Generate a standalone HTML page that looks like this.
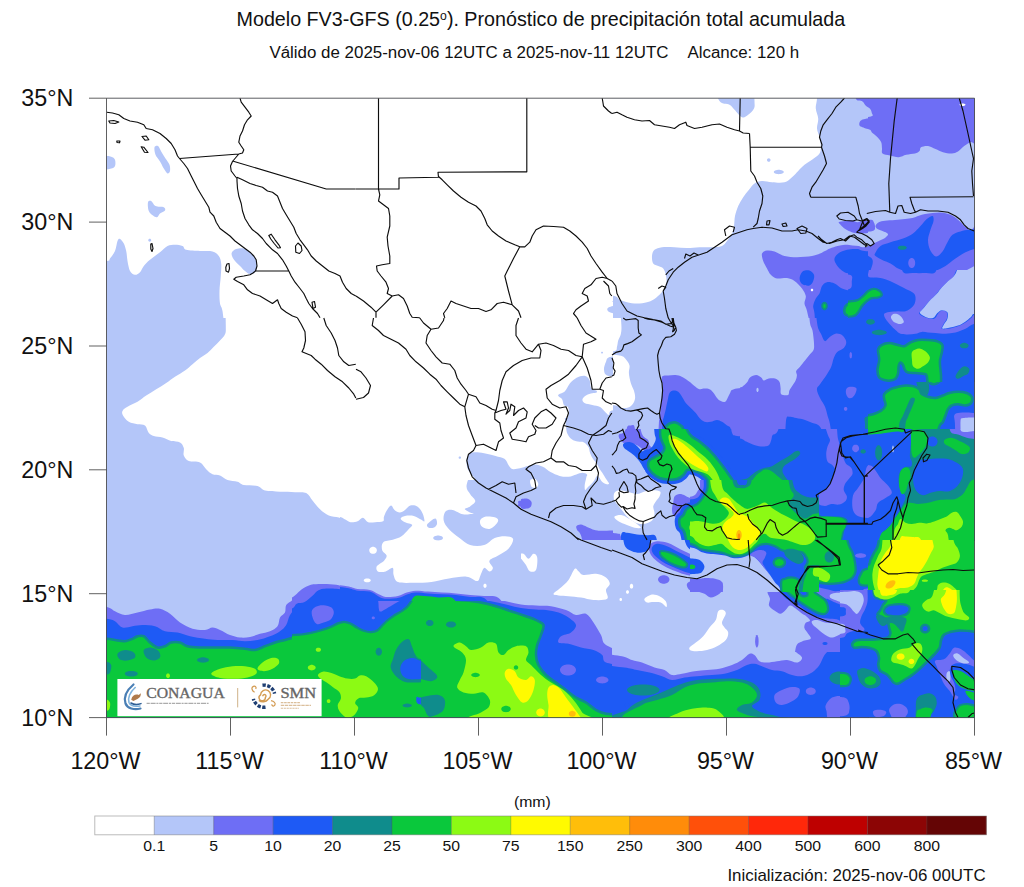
<!DOCTYPE html>
<html><head><meta charset="utf-8"><title>Pronóstico de precipitación</title>
<style>
html,body{margin:0;padding:0;background:#fff;}
body{width:1024px;height:887px;position:relative;overflow:hidden;font-family:"Liberation Sans",sans-serif;color:#111;}
.t{position:absolute;white-space:pre;line-height:1;transform-origin:50% 100%;padding-bottom:0;}
</style></head><body>
<svg width="1024" height="887" viewBox="0 0 1024 887" style="position:absolute;left:0;top:0"><defs><clipPath id="mc"><rect x="106.5" y="98.2" width="868.0" height="619.4"/></clipPath><clipPath id="c100_96_256"><rect x="100" y="96" width="257" height="223"/></clipPath><clipPath id="c356_96_256"><rect x="356" y="96" width="257" height="223"/></clipPath><clipPath id="c612_96_256"><rect x="612" y="96" width="257" height="223"/></clipPath><clipPath id="c100_318_256"><rect x="100" y="318" width="257" height="223"/></clipPath><clipPath id="c868_96_256"><rect x="868" y="96" width="257" height="223"/></clipPath><clipPath id="c612_318_128"><rect x="612" y="318" width="129" height="112"/></clipPath><clipPath id="c740_318_128"><rect x="740" y="318" width="129" height="112"/></clipPath><clipPath id="c612_429_128"><rect x="612" y="429" width="129" height="112"/></clipPath><clipPath id="c740_429_128"><rect x="740" y="429" width="129" height="112"/></clipPath><clipPath id="c356_318_256"><rect x="356" y="318" width="257" height="223"/></clipPath><clipPath id="c520_280_92"><rect x="520" y="280" width="93" height="174"/></clipPath><clipPath id="c456_418_156"><rect x="456" y="418" width="157" height="123"/></clipPath><clipPath id="c868_318_128"><rect x="868" y="318" width="129" height="112"/></clipPath><clipPath id="c868_429_128"><rect x="868" y="429" width="129" height="112"/></clipPath><clipPath id="c100_540_256"><rect x="100" y="540" width="257" height="223"/></clipPath><clipPath id="c356_540_256"><rect x="356" y="540" width="257" height="223"/></clipPath><clipPath id="c612_540_256"><rect x="612" y="540" width="257" height="223"/></clipPath><clipPath id="c740_540_128"><rect x="740" y="540" width="129" height="112"/></clipPath><clipPath id="c868_540_128"><rect x="868" y="540" width="129" height="112"/></clipPath><clipPath id="c868_629_128"><rect x="868" y="629" width="129" height="112"/></clipPath><clipPath id="c840_590_140"><rect x="840" y="590" width="141" height="129"/></clipPath><clipPath id="c848_270_128"><rect x="848" y="270" width="129" height="112"/></clipPath><clipPath id="c292_580_128"><rect x="292" y="580" width="129" height="141"/></clipPath><clipPath id="c340_480_180"><rect x="340" y="480" width="181" height="121"/></clipPath><clipPath id="c690_480_128"><rect x="690" y="480" width="129" height="112"/></clipPath></defs><g clip-path="url(#mc)"><rect x="106.5" y="98.2" width="868.0" height="619.4" fill="#b4c6f9"/><g clip-path="url(#c100_96_256)"><rect x="99" y="95" width="258" height="224" fill="#ffffff"/><path d="M105,157.2C106,155.3 109.6,156.3 111.2,156.8C112.9,157.2 114.4,158.2 115,159.8C115.6,161.3 115.6,164.5 115,166C114.4,167.5 112.9,168.1 111.2,168.5C109.6,168.9 106,170.4 105,168.5C104,166.6 104,159.2 105,157.2Z" fill="#b4c6f9"/><path d="M154.5,147.2C154.9,145.8 156.9,145.3 158,146C159.1,146.7 160,149.4 161.2,151.5C162.5,153.6 164.1,156.3 165.5,158.5C166.9,160.7 168.8,162.7 169.5,164.8C170.2,166.8 170.3,169.5 170,171C169.7,172.5 168.5,173.9 167.5,173.5C166.5,173.1 165,170.5 163.8,168.5C162.5,166.5 161.4,163.8 160,161.5C158.6,159.2 156.4,157.1 155.5,154.8C154.6,152.4 154.1,148.7 154.5,147.2Z" fill="#b4c6f9"/><path d="M148,202.2C148.4,200.6 150,200.4 151.2,201C152.5,201.6 153.4,205 155.5,206C157.6,207 162.2,206.5 163.8,207.2C165.3,208 165.6,209.5 165,210.5C164.4,211.5 161.3,212.4 160,213.5C158.7,214.6 158.2,216.9 157,217.2C155.8,217.6 154.4,216.5 153,215.5C151.6,214.5 149.6,213.2 148.8,211C147.9,208.8 147.6,203.9 148,202.2Z" fill="#b4c6f9"/><path d="M151.2,240.2C151.2,240.6 151.1,241.1 150.8,241.3C150.6,241.6 150.1,241.8 149.8,241.8C149.4,241.8 148.9,241.6 148.7,241.3C148.4,241.1 148.2,240.6 148.2,240.2C148.2,239.9 148.4,239.4 148.7,239.2C148.9,238.9 149.4,238.8 149.8,238.8C150.1,238.8 150.6,238.9 150.8,239.2C151.1,239.4 151.2,239.9 151.2,240.2Z" fill="#b4c6f9"/><path d="M83,262.2C83,262.2 102.2,261.6 106.8,261C111.2,260.4 108.6,260.2 110,258.5C111.4,256.8 113.8,253.9 115,251C116.2,248.1 116.7,243 117.5,241C118.3,239 119,238.6 120,239C121,239.4 122.7,241.5 123.8,243.5C124.8,245.5 125.6,248.1 126.2,251C126.9,253.9 126.9,257.7 127.5,261C128.1,264.3 128.8,268.7 130,271C131.2,273.3 133.3,274.5 135,274.8C136.7,275 138.5,273.7 140,272.2C141.5,270.8 142.1,268.1 143.8,266C145.4,263.9 147.3,262 150,259.8C152.7,257.5 157.1,254.5 160,252.2C162.9,250 165,247.2 167.5,246C170,244.8 172.5,244.8 175,244.8C177.5,244.8 180.6,245.2 182.5,246C184.4,246.8 183.3,248.9 186.2,249.8C189.2,250.6 195.6,250.7 200,251C204.4,251.3 209.4,250.7 212.5,251.5C215.6,252.3 217.3,254 218.8,256C220.2,258 220.9,260.2 221.2,263.5C221.6,266.8 221,271.4 220.8,276C220.5,280.6 219.6,286.4 219.5,291C219.4,295.6 219.5,300.2 220,303.5C220.5,306.8 221.7,306.1 222.5,311C223.3,315.9 225,333 225,333L225,343L83,343L83,262.2Z" fill="#b4c6f9"/><path d="M232,252.2C232.7,251.1 234.3,249.6 236.2,249C238.2,248.4 241.5,248 243.8,248.5C246,249 248,250.6 250,252.2C252,253.9 254.3,256.2 255.5,258.5C256.7,260.8 257.1,263.7 257,266C256.9,268.3 256.2,270.9 255,272.2C253.8,273.6 251.7,274.2 250,274C248.3,273.8 246.7,272.3 245,271C243.3,269.7 241.7,267.7 240,266C238.3,264.3 236.3,262.7 235,261C233.7,259.3 232.5,257.5 232,256C231.5,254.5 231.3,253.4 232,252.2Z" fill="#b4c6f9"/></g><g clip-path="url(#c356_96_256)"><rect x="355" y="95" width="258" height="224" fill="#ffffff"/><path d="M607.2,304.8C607.8,302.9 606.3,302.7 609.8,302.2C613.2,301.8 628,302.2 628,302.2L628,333L608.5,333C608.5,333 607,318.2 606.8,313.5C606.5,308.8 606.8,306.6 607.2,304.8Z" fill="#b4c6f9"/></g><g clip-path="url(#c612_96_256)"><rect x="611" y="95" width="258" height="224" fill="#b4c6f9"/><path d="M592.5,76.5L817,76.5C817,76.5 817.2,92.7 817,98C816.8,103.3 815.5,105.1 815.8,108.5C816,111.9 818,115.2 818.2,118.5C818.5,121.8 816.8,125.4 817,128.5C817.2,131.6 818.9,134.3 819.5,137.2C820.1,140.2 820.8,143.3 820.8,146C820.8,148.7 821,151.2 819.5,153.5C818,155.8 814.5,157.9 812,159.8C809.5,161.6 806.8,162.9 804.5,164.8C802.2,166.6 800.3,168.9 798.2,171C796.2,173.1 794.3,175.4 792,177.2C789.7,179.1 787.8,181.4 784.5,182.2C781.2,183.1 775.8,182.5 772,182.2C768.2,182 764.9,180.8 762,181C759.1,181.2 756.7,182 754.5,183.5C752.3,185 750.9,187.5 749,189.8C747.1,192 745,194.5 743.2,197.2C741.5,200 739.6,202.9 738.2,206C736.9,209.1 735.7,212.7 735,216C734.3,219.3 734.5,223.1 734,226C733.5,228.9 733.2,231 732,233.5C730.8,236 728.7,238.9 727,241C725.3,243.1 724.3,245 722,246C719.7,247 717,247 713.2,247.2C709.5,247.5 703.9,247.1 699.5,247.2C695.1,247.4 691.2,248 687,248C682.8,248 678.7,247.4 674.5,247.2C670.3,247.1 665.3,246.8 662,247.2C658.7,247.7 656.2,248.3 654.5,249.8C652.8,251.2 652.2,253.7 652,256C651.8,258.3 652.2,261.8 653.2,263.5C654.3,265.2 656.6,265.2 658.2,266C659.9,266.8 662,267 663.2,268.5C664.5,270 665.2,272.5 665.8,274.8C666.3,277 666.7,280 666.5,282.2C666.3,284.5 665.7,286.4 664.5,288.5C663.3,290.6 661.4,292.9 659.5,294.8C657.6,296.6 655.3,298.5 653.2,299.8C651.2,301 649.7,301.6 647,302.2C644.3,302.9 640.3,303.5 637,303.5C633.7,303.5 629.9,302.9 627,302.2C624.1,301.6 621.6,300.8 619.5,299.8C617.4,298.7 619,297.2 614.5,296C610,294.8 592.5,292.2 592.5,292.2L592.5,76.5Z" fill="#ffffff"/><path d="M712,81.5C712,81.5 716.6,97.1 719.5,101C722.4,104.9 727,103.3 729.5,104.8C732,106.2 732.4,107.7 734.5,109.8C736.6,111.8 739.7,116.4 742,117.2C744.3,118.1 746.2,116.2 748.2,114.8C750.2,113.3 753,110.8 754,108.5C755,106.2 754.6,105.5 754.5,101C754.4,96.5 753.2,81.5 753.2,81.5L712,81.5Z" fill="#b4c6f9"/><path d="M770.5,160C770.5,160.4 770.3,160.9 770,161.2C769.7,161.5 769.2,161.8 768.8,161.8C768.3,161.8 767.8,161.5 767.5,161.2C767.2,160.9 767,160.4 767,160C767,159.6 767.2,159.1 767.5,158.8C767.8,158.5 768.3,158.2 768.8,158.2C769.2,158.2 769.7,158.5 770,158.8C770.3,159.1 770.5,159.6 770.5,160Z" fill="#b4c6f9"/><path d="M783.8,172C783.8,172.4 783.4,173 782.8,173.3C782.2,173.7 781.2,174 780.3,174.1C779.4,174.3 778.1,174.3 777.2,174.1C776.3,174 775.3,173.7 774.7,173.3C774.1,173 773.8,172.4 773.8,172C773.8,171.6 774.1,171 774.7,170.7C775.3,170.3 776.3,170 777.2,169.9C778.1,169.7 779.4,169.7 780.3,169.9C781.2,170 782.2,170.3 782.8,170.7C783.4,171 783.8,171.6 783.8,172Z" fill="#b4c6f9"/><path d="M855,81.5C855,81.5 854.5,95.2 855.8,98.5C857,101.8 860.5,100 862.5,101.5C864.5,103 864.4,105.2 868,107.2C871.6,109.2 884,113.5 884,113.5L883,116.5C883,116.5 868.8,118.2 865,119C861.2,119.8 860.9,120.4 860,121.5C859.1,122.6 859.1,124.5 859.5,125.5C859.9,126.5 861.1,126.7 862.5,127.2C863.9,127.8 864.3,128 868,129C871.7,130 884.5,133 884.5,133L891.5,133L891.5,81.5L855,81.5Z" fill="#6e6ef5"/><path d="M838.8,222.2C839.5,221.6 842.7,221.3 845,221C847.3,220.7 850.4,220.3 852.5,220.5C854.6,220.7 855.8,222.2 857.5,222.2C859.2,222.3 858.4,221.4 862.5,221C866.6,220.6 882,219.8 882,219.8L885.8,222.2L887,227.2L884.5,231C884.5,231 871.4,232.6 867.5,233C863.6,233.4 863.3,233.5 861.2,233.5C859.2,233.5 857.1,233.4 855,233C852.9,232.6 850.6,231.8 848.8,231C846.9,230.2 845.1,229 843.8,228C842.4,227 841.3,225.7 840.5,224.8C839.7,223.8 838,222.9 838.8,222.2Z" fill="#6e6ef5"/><path d="M762,253.5C762.6,251.8 764.9,250.8 767,250.5C769.1,250.2 771.6,250.6 774.5,251.5C777.4,252.4 780.8,255 784.5,256C788.2,257 792.4,257.2 797,257.2C801.6,257.2 808.2,256.6 812,256C815.8,255.4 817.8,254.3 820,253.5C822.2,252.7 823.3,251.8 825,251C826.7,250.2 827.9,249.3 830,248.5C832.1,247.7 835,246.6 837.5,246C840,245.4 842.5,244.8 845,244.8C847.5,244.7 850.2,245.3 852.5,245.5C854.8,245.7 856.9,245.7 858.8,246C860.6,246.3 859.9,247.3 863.8,247.2C867.6,247.2 882,245.5 882,245.5L885.8,243.5L889,242.2L889,333L812,333C812,333 808.2,315.9 807,311C805.8,306.1 804.7,306 804.5,303.5C804.3,301 806.2,298.5 805.8,296C805.3,293.5 803.9,291 802,288.5C800.1,286 797,282.8 794.5,281C792,279.2 789.9,278.4 787,278C784.1,277.6 779.7,279 777,278.5C774.3,278 772.4,276.4 770.8,274.8C769.1,273.1 768.2,270.8 767,268.5C765.8,266.2 764.1,263.5 763.2,261C762.4,258.5 761.4,255.2 762,253.5Z" fill="#6e6ef5"/><path d="M834.5,258.5C834.9,256.8 836.2,255 838.2,253.5C840.3,252 843.9,250.5 847,249.8C850.1,249 854.1,248.8 857,249C859.9,249.2 860,250.5 864.5,251C869,251.5 884,252.2 884,252.2L884,333L815.8,333C815.8,333 814.9,318 814.5,313.5C814.1,309 813,308.5 813.2,306C813.5,303.5 814.7,300.6 815.8,298.5C816.8,296.4 818.5,295.6 819.5,293.5C820.5,291.4 820.8,287.9 822,286C823.2,284.1 824.9,282.7 827,282.2C829.1,281.8 832,282.5 834.5,283.5C837,284.5 839.5,287.5 842,288.5C844.5,289.5 847.8,290.8 849.5,289.8C851.2,288.7 851.8,284.8 852,282.2C852.2,279.8 852,276.4 850.8,274.8C849.5,273.1 846.4,273.3 844.5,272.2C842.6,271.2 841,270 839.5,268.5C838,267 836.6,265.2 835.8,263.5C834.9,261.8 834.1,260.2 834.5,258.5Z" fill="#1e5af5"/><path d="M800,276C800.5,274.3 801.7,271.9 803.2,271C804.8,270.1 807.7,269.9 809.5,270.5C811.3,271.1 813.4,273 814,274.8C814.6,276.5 814,279.2 813.2,281C812.5,282.8 811.2,284.9 809.5,285.5C807.8,286.1 804.8,285.5 803.2,284.8C801.7,284 800.5,282.5 800,281C799.5,279.5 799.5,277.7 800,276Z" fill="#1e5af5"/><path d="M844.2,309.8C844.4,308.1 845.1,306 846.8,304.8C848.4,303.5 852,303.3 854.2,302.2C856.5,301.2 858.4,300.2 860.5,298.5C862.6,296.8 862.5,293.9 866.8,292.2C871,290.6 886.2,288.5 886.2,288.5L893.8,291L895,296L887.5,298.5C887.5,298.5 872.3,299.5 868,301C863.7,302.5 863.2,305.2 861.8,307.2C860.3,309.3 860.7,312 859.2,313.5C857.8,315 855.2,316.3 853,316.5C850.8,316.7 847.5,315.9 846,314.8C844.5,313.6 844.1,311.4 844.2,309.8Z" fill="#0ac83c" stroke="#0f8c8c" stroke-width="2.5"/><path d="M826.8,306C826.8,306.6 826.6,307.4 826.3,307.9C826.1,308.4 825.6,308.9 825.2,309.1C824.8,309.3 824.2,309.3 823.8,309.1C823.4,308.9 822.9,308.4 822.7,307.9C822.4,307.4 822.2,306.6 822.2,306C822.2,305.4 822.4,304.6 822.7,304.1C822.9,303.6 823.4,303.1 823.8,302.9C824.2,302.7 824.8,302.7 825.2,302.9C825.6,303.1 826.1,303.6 826.3,304.1C826.6,304.6 826.8,305.4 826.8,306Z" fill="#0ac83c" stroke="#0f8c8c" stroke-width="2"/><path d="M813.2,290C813.2,290.3 813.1,290.7 812.9,290.9C812.7,291.1 812.3,291.2 812,291.2C811.7,291.2 811.3,291.1 811.1,290.9C810.9,290.7 810.8,290.3 810.8,290C810.8,289.7 810.9,289.3 811.1,289.1C811.3,288.9 811.7,288.8 812,288.8C812.3,288.8 812.7,288.9 812.9,289.1C813.1,289.3 813.2,289.7 813.2,290Z" fill="#ffffff"/></g><g clip-path="url(#c100_318_256)"><rect x="99" y="317" width="258" height="224" fill="#b4c6f9"/><path d="M225,298.5C225,298.5 225.8,319.5 225.8,325.5C225.8,331.5 226,331.8 225,334.2C224,336.8 221.9,338.4 220,340.5C218.1,342.6 215.8,344.7 213.8,346.8C211.7,348.8 209.8,351.1 207.5,353C205.2,354.9 202.5,356.1 200,358C197.5,359.9 195,362.2 192.5,364.2C190,366.3 187.9,368.4 185,370.5C182.1,372.6 178.1,374.7 175,376.8C171.9,378.8 169.4,380.9 166.2,383C163.1,385.1 159.6,387.2 156.2,389.2C152.9,391.3 149.4,393.4 146.2,395.5C143.1,397.6 140.6,399.9 137.5,401.8C134.4,403.6 130,405.2 127.5,406.8C125,408.3 123.2,409.5 122.5,411C121.8,412.5 122,413.7 123,415.5C124,417.3 126.3,420.3 128.8,421.8C131.2,423.2 134.8,423.6 137.5,424.2C140.2,424.9 143.1,424 145,425.5C146.9,427 147.3,431.2 148.8,433C150.2,434.8 151.5,435.2 153.8,436C156,436.8 159.6,436.7 162.5,437.5C165.4,438.3 168.3,440.2 171.2,441C174.2,441.8 177.9,441.3 180,442.5C182.1,443.7 183.1,445.8 183.8,448C184.4,450.2 182.9,453.3 183.8,455.5C184.6,457.7 186,459.8 188.8,461C191.5,462.2 197.1,461.1 200,462.5C202.9,463.9 204.2,467.3 206.2,469.2C208.3,471.2 210.2,473.2 212.5,474.2C214.8,475.3 217.5,474.5 220,475.5C222.5,476.5 224.6,479 227.5,480C230.4,481 234.8,480.9 237.5,481.8C240.2,482.6 240.4,484.3 243.8,485C247.1,485.7 254,485.1 257.5,486C261,486.9 261.2,489.5 265,490.5C268.8,491.5 275,491.5 280,491.8C285,492 290.6,492 295,492.2C299.4,492.5 303.3,491.6 306.2,493C309.2,494.4 310.2,497.8 312.5,500.5C314.8,503.2 317.3,506.8 320,509.2C322.7,511.8 325.6,514.1 328.8,515.5C331.9,516.9 335.8,516.7 338.8,517.5C341.7,518.3 343.4,519.6 346.2,520.5C349.1,521.4 350.2,522.2 355.8,523C361.3,523.8 379.5,525.5 379.5,525.5L379.5,298.5L225,298.5Z" fill="#ffffff"/></g><g clip-path="url(#c868_96_256)"><rect x="867" y="95" width="258" height="224" fill="#b4c6f9"/><path d="M843,81.5L843.5,98.5L850.5,101.5C850.5,101.5 864.4,105.2 868,107.2C871.6,109.2 871.5,112 872,113.5C872.5,115 874.2,115.6 871,116.5C867.8,117.4 853,119 853,119L848,121.5L847.5,125.5L850.5,127.2C850.5,127.2 864.3,128 868,129C871.7,130 870.9,131.6 872.5,133C874.1,134.4 876,135.7 877.5,137.2C879,138.8 880.5,140.4 881.2,142.2C882,144.1 881.8,146.6 882,148.5C882.2,150.4 881.2,152.3 882.5,153.5C883.8,154.7 887.3,154.9 890,155.5C892.7,156.1 896,157.4 898.8,157.2C901.5,157.1 903.5,155.4 906.2,154.8C909,154.1 912.8,154.1 915,153.5C917.2,152.9 918.5,152 919.5,151C920.5,150 919.6,148.1 921,147.2C922.4,146.4 925.6,145.7 928,146C930.4,146.3 933,148 935.5,149C938,150 940.3,151.5 943,152.2C945.7,153 949.2,153.6 951.8,153.5C954.2,153.4 955.9,152.8 958,151.5C960.1,150.2 962.2,147.5 964.2,146C966.3,144.5 968,143.3 970.5,142.2C973,141.2 977.8,149.9 979.2,139.8C980.7,129.6 979.2,81.5 979.2,81.5L843,81.5Z" fill="#6e6ef5"/><path d="M965.5,104.8C965.5,105 965.3,105.3 964.9,105.5C964.6,105.7 964,105.9 963.4,105.9C962.9,106 962.1,106 961.6,105.9C961,105.9 960.4,105.7 960.1,105.5C959.7,105.3 959.5,105 959.5,104.8C959.5,104.5 959.7,104.2 960.1,104C960.4,103.8 961,103.6 961.6,103.6C962.1,103.5 962.9,103.5 963.4,103.6C964,103.6 964.6,103.8 964.9,104C965.3,104.2 965.5,104.5 965.5,104.8Z" fill="#ffffff"/><path d="M853.5,246.8C853.5,246.8 866.6,246 870,245.5C873.4,245 872.3,244.2 873.8,243.5C875.2,242.8 876.9,241.9 878.8,241C880.6,240.1 883.5,239.2 885,238C886.5,236.8 888.4,235.2 888,234C887.6,232.8 884.2,231.8 882.5,231C880.8,230.2 878.7,229.8 877.5,229C876.3,228.2 875.3,227.1 875.5,226C875.7,224.9 877.2,223.1 878.8,222.2C880.3,221.4 882.3,221.1 885,220.8C887.7,220.4 891.7,220.3 895,220C898.3,219.7 902.1,219.3 905,219C907.9,218.7 910.2,218.5 912.5,218C914.8,217.5 916.7,216.4 918.8,215.8C920.8,215.1 922.7,214.5 925,214C927.3,213.5 929.9,213.2 932.5,213C935.1,212.8 937.5,212.2 940.5,212.5C943.5,212.8 947.6,213.5 950.5,214.8C953.4,216 955.7,217.9 958,219.8C960.3,221.6 962.2,224.2 964.2,226C966.3,227.8 968,229.5 970.5,230.5C973,231.5 977.8,215.2 979.2,232.2C980.7,249.3 979.2,333 979.2,333L853.5,333L853.5,246.8Z" fill="#6e6ef5"/><path d="M841,221L850.5,221C850.5,221 866.1,219.5 870,219.8C873.9,220 872.9,221 873.8,222.2C874.6,223.5 875.2,225.8 875,227.2C874.8,228.7 875.8,230 872.5,231C869.2,232 855.5,233 855.5,233L849.2,233.5L841,233L841,221Z" fill="#6e6ef5"/><path d="M979.2,264C978.5,252.8 976.8,264.8 974.5,266C972.2,267.2 968.7,268.9 965.5,271C962.3,273.1 958.8,275.6 955.5,278.5C952.2,281.4 948.4,285.2 945.5,288.5C942.6,291.8 940.5,295.6 938,298.5C935.5,301.4 933,303.9 930.5,306C928,308.1 924.9,306.5 923,311C921.1,315.5 919.2,333 919.2,333L979.2,333C979.2,333 980,275.2 979.2,264Z" fill="#b4c6f9"/><path d="M979.2,283.5C978.5,275.7 976,284.3 974.5,286C973,287.7 971.6,290.6 970.5,293.5C969.4,296.4 968.4,300.6 968,303.5C967.6,306.4 967.6,306.1 968,311C968.4,315.9 970.5,333 970.5,333L979.2,333C979.2,333 980,291.3 979.2,283.5Z" fill="#6e6ef5"/><path d="M936.8,315.5C937.4,311.9 939,312 940.5,311.5C942,311 944.7,311.3 946,312.2C947.3,313.2 948.2,313.8 948.5,317.2C948.8,320.7 948,333 948,333L936.8,333C936.8,333 936.1,319.1 936.8,315.5Z" fill="#6e6ef5"/><path d="M875,253.5C875.8,251.8 877.9,247.9 880.5,246C883.1,244.1 886.8,243.5 890.5,242.2C894.2,241 899.2,240 903,238.5C906.8,237 910.1,235.6 913,233.5C915.9,231.4 918.2,228.4 920.5,226C922.8,223.6 924.8,220.7 926.8,219C928.8,217.3 931.4,215.7 932.5,216C933.6,216.3 933.8,218.7 933.5,221C933.2,223.3 931.4,226.6 930.5,229.8C929.6,232.9 928.1,236.4 928,239.8C927.9,243.1 928.7,247 930,249.8C931.3,252.5 933.9,256.2 936,256.5C938.1,256.8 940.6,253.9 942.5,251.5C944.4,249.1 945.8,245 947.5,242.2C949.2,239.5 950.3,236.5 952.5,234.8C954.7,233 957.7,232.3 960.5,231.5C963.3,230.7 966.1,229.8 969.2,229.8C972.4,229.7 977.6,227.9 979.2,231C980.9,234.1 980,245.5 979.2,248.5C978.5,251.5 976.8,248.4 974.5,249C972.2,249.6 968.7,250.7 965.5,252.2C962.3,253.8 958.8,256.2 955.5,258.5C952.2,260.8 948.8,263.9 945.5,266C942.2,268.1 938.8,269.8 935.5,271C932.2,272.2 928.8,273.3 925.5,273.5C922.2,273.7 918.8,272.7 915.5,272.2C912.2,271.8 908.4,271.6 905.5,271C902.6,270.4 900.5,269.8 898,268.5C895.5,267.2 893.2,265 890.5,263.5C887.8,262 884.2,261 881.8,259.8C879.2,258.5 876.6,257 875.5,256C874.4,255 874.2,255.2 875,253.5Z" fill="#1e5af5"/><path d="M915.2,263C915.2,264 915,265.1 914.6,265.9C914.2,266.7 913.5,267.5 912.8,267.8C912.2,268.1 911.3,268.1 910.7,267.8C910,267.5 909.3,266.7 908.9,265.9C908.5,265.1 908.2,264 908.2,263C908.2,262 908.5,260.9 908.9,260.1C909.3,259.3 910,258.5 910.7,258.2C911.3,257.9 912.2,257.9 912.8,258.2C913.5,258.5 914.2,259.3 914.6,260.1C915,260.9 915.2,262 915.2,263Z" fill="#6e6ef5"/><path d="M906.8,247.8C906.8,248.1 906.4,248.6 905.9,248.9C905.4,249.2 904.5,249.5 903.6,249.7C902.8,249.8 901.7,249.8 900.9,249.7C900,249.5 899.1,249.2 898.6,248.9C898.1,248.6 897.8,248.1 897.8,247.8C897.8,247.4 898.1,246.9 898.6,246.6C899.1,246.3 900,246 900.9,245.8C901.7,245.7 902.8,245.7 903.6,245.8C904.5,246 905.4,246.3 905.9,246.6C906.4,246.9 906.8,247.4 906.8,247.8Z" fill="#0f8c8c"/><path d="M853.5,249.8C853.5,249.8 868.9,255 871.8,258.5C874.6,262 870.9,267.7 870.5,271C870.1,274.3 868,276.8 869.2,278.5C870.5,280.2 874.5,280.4 878,281C881.5,281.6 886.3,281.4 890.5,282.2C894.7,283.1 899.5,284.5 903,286C906.5,287.5 909.7,289.1 911.8,291C913.8,292.9 915.7,295 915.5,297.2C915.3,299.5 912.4,302.5 910.5,304.8C908.6,307 906.3,309.3 904.2,311C902.2,312.7 899.9,311.1 898,314.8C896.1,318.4 893,333 893,333L853.5,333L853.5,249.8Z" fill="#1e5af5"/><path d="M832.2,309.8L834.8,304.8L842.2,302.2L848.5,298.5L854.8,292.2C854.8,292.2 869.8,288.7 874.2,288.5C878.8,288.3 880.3,289.8 881.8,291C883.2,292.2 884,294.8 883,296C882,297.2 878,297.7 875.5,298.5C873,299.3 872.3,299.5 868,301C863.7,302.5 849.8,307.2 849.8,307.2L847.2,313.5L841,316.5L834,314.8L832.2,309.8Z" fill="#0ac83c" stroke="#0f8c8c" stroke-width="2.5"/></g><g clip-path="url(#c612_318_128)"><rect x="611" y="317" width="130" height="113" fill="#b4c6f9"/><path d="M597.5,303.5L619.5,303.5C619.5,303.5 621.2,320.4 621.4,325.5C621.6,330.6 621.3,331.8 620.8,334.2C620.2,336.8 618.9,338.4 618.2,340.5C617.6,342.6 617.6,345 617,346.8C616.4,348.5 617.8,350.2 614.5,351.1C611.2,352.1 597.5,352.4 597.5,352.4L597.5,303.5Z" fill="#ffffff"/><path d="M597.5,354.2C597.5,354.2 614.8,354.7 619.5,355.5C624.2,356.3 624.1,357.6 625.8,359.2C627.4,360.9 629,363.2 629.5,365.5C630,367.8 628.7,370.1 628.9,373C629.1,375.9 629.9,380.1 630.8,383C631.6,385.9 633.1,388 633.9,390.5C634.6,393 635.3,395.7 635.1,398C634.9,400.3 633.8,402.7 632.6,404.2C631.5,405.8 630,406.8 628.2,407.4C626.5,408 624.1,408.3 622,408C619.9,407.7 619.8,406.1 615.8,405.5C611.7,404.9 597.5,404.2 597.5,404.2L597.5,354.2Z" fill="#ffffff"/><path d="M662,376.8C662.9,375.1 665.8,375.8 668.2,375.5C670.8,375.2 674.5,374.9 677,375.2C679.5,375.6 681.2,376.3 683.2,377.4C685.3,378.5 687.6,380.3 689.5,381.8C691.4,383.2 692.8,384.9 694.5,386.1C696.2,387.4 697.8,388.8 699.5,389.2C701.2,389.7 702.8,388.6 704.5,388.6C706.2,388.6 708,388.6 709.5,389.2C711,389.9 712,390.9 713.2,392.4C714.5,393.8 715.8,396.5 717,398C718.2,399.5 719.4,400.5 720.8,401.1C722.1,401.8 724,402.3 725.1,401.8C726.3,401.2 726.8,399.5 727.6,398C728.5,396.5 729.1,394.5 730.1,393C731.2,391.5 729.9,390.3 733.9,389.2C737.9,388.2 754,386.8 754,386.8L754,442.5L658.2,442.5C658.2,442.5 658.6,427.5 658.9,423C659.2,418.5 659.8,418.4 660.1,415.5C660.4,412.6 660.4,408.8 660.8,405.5C661.1,402.2 661.7,398.8 662,395.5C662.3,392.2 662.6,388.6 662.6,385.5C662.6,382.4 661.1,378.4 662,376.8Z" fill="#6e6ef5"/><path d="M669.5,393C670.4,391.3 671.8,390.7 673.2,390.5C674.7,390.3 676.8,390.7 678.2,391.8C679.7,392.8 680.8,394.9 682,396.8C683.2,398.6 684.3,401.1 685.8,403C687.2,404.9 689.1,406.3 690.8,408C692.4,409.7 694.3,411.3 695.8,413C697.2,414.7 698,416.5 699.5,418C701,419.5 702.6,421.1 704.5,421.8C706.4,422.4 708.7,422.1 710.8,421.8C712.8,421.4 715.1,419.9 717,419.9C718.9,419.9 720.3,420.8 722,421.8C723.7,422.7 725.5,424.3 727,425.5C728.5,426.7 729.9,425.8 730.8,428.9C731.6,431.9 732,443.8 732,443.8L661.4,443.8C661.4,443.8 662.2,427.5 662.6,423C663,418.5 663.4,419 663.9,416.8C664.4,414.5 665.1,412 665.8,409.2C666.4,406.5 667,403.2 667.6,400.5C668.2,397.8 668.6,394.7 669.5,393Z" fill="#1e5af5"/><path d="M667,425.5C667.8,424.7 669.3,423.5 670.8,423C672.2,422.5 674.2,422.1 675.8,422.4C677.3,422.7 678.9,423.8 680.1,424.9C681.4,426 682.5,425.5 683.2,428.9C684,432.2 684.5,445 684.5,445L665.1,445C665.1,445 665.4,431.2 665.8,428C666.1,424.8 666.2,426.3 667,425.5Z" fill="#0ac83c" stroke="#0f8c8c" stroke-width="2.5"/><path d="M627,427.4C627.8,424.5 629.5,425.6 630.8,425.5C632,425.4 633.7,423.9 634.5,426.8C635.3,429.6 635.8,442.5 635.8,442.5L625.8,442.5C625.8,442.5 626.2,430.2 627,427.4Z" fill="#6e6ef5"/></g><g clip-path="url(#c740_318_128)"><rect x="739" y="317" width="130" height="113" fill="#b4c6f9"/><path d="M725.5,388C725.5,388 737,387.8 740,387.4C743,387 742.5,386.4 743.8,385.5C745,384.6 746.5,383.1 747.5,381.8C748.5,380.4 748.5,378.5 750,377.4C751.5,376.2 754.4,374.9 756.2,374.9C758.1,374.9 760,376.4 761.2,377.4C762.5,378.3 762.5,380.3 763.8,380.5C765,380.7 766.9,378.9 768.8,378.6C770.6,378.3 773.2,378.1 775,378.6C776.8,379.1 778.4,380.2 779.4,381.8C780.3,383.3 780.3,385.9 780.6,388C780.9,390.1 780,393.1 781.2,394.2C782.5,395.4 786.8,395.5 788.1,394.9C789.5,394.2 788.6,392.1 789.4,390.5C790.1,388.9 791.5,387.2 792.5,385.5C793.5,383.8 794.9,382.2 795.6,380.5C796.4,378.8 796.8,377.1 796.9,375.5C797,373.9 795.7,372.6 796.2,371.1C796.8,369.7 798.5,368.5 800,366.8C801.5,365 803.3,362.6 805,360.5C806.7,358.4 808.5,356.1 810,354.2C811.5,352.4 813.1,351.5 813.8,349.2C814.4,347 814,343.6 813.8,340.5C813.5,337.4 813.1,333.4 812.5,330.5C811.9,327.6 810.7,327.5 810,323C809.3,318.5 808.1,303.5 808.1,303.5L883.2,303.5L883.2,442.5L725.5,442.5L725.5,388Z" fill="#6e6ef5"/><path d="M758.6,389.9C758.6,390.3 758.5,390.8 758.4,391.1C758.3,391.5 758.1,391.8 757.8,391.9C757.6,392 757.4,392 757.2,391.9C756.9,391.8 756.7,391.5 756.6,391.1C756.5,390.8 756.4,390.3 756.4,389.9C756.4,389.5 756.5,389 756.6,388.6C756.7,388.3 756.9,388 757.2,387.9C757.4,387.7 757.6,387.7 757.8,387.9C758.1,388 758.3,388.3 758.4,388.6C758.5,389 758.6,389.5 758.6,389.9Z" fill="#b4c6f9"/><path d="M815,303.5C815,303.5 816.5,320.4 817.5,325.5C818.5,330.6 820,331.6 821.2,334.2C822.5,336.9 823.5,340.7 825,341.1C826.5,341.5 828.1,338 830,336.8C831.9,335.5 834.2,333.8 836.2,333.6C838.3,333.4 840.8,334.1 842.5,335.5C844.2,336.9 846,339.7 846.2,341.8C846.5,343.8 845.2,346.3 843.8,348C842.3,349.7 839.2,350.1 837.5,351.8C835.8,353.4 834.8,355.5 833.8,358C832.7,360.5 832.5,363.8 831.2,366.8C830,369.7 828.1,372.6 826.2,375.5C824.4,378.4 821.6,382 820,384.2C818.4,386.5 816.9,387 816.9,389.2C816.9,391.5 818.6,395.1 820,398C821.4,400.9 823.8,403.8 825,406.8C826.2,409.7 826.7,412.6 827.5,415.5C828.3,418.4 829.2,419.8 830,424.2C830.8,428.8 832.5,442.5 832.5,442.5L883.2,442.5L883.2,303.5L815,303.5Z" fill="#1e5af5"/><path d="M852.9,355.5C852.9,356.2 852.7,357.1 852.4,357.7C852.2,358.3 851.7,358.8 851.3,359.1C850.9,359.3 850.3,359.3 849.9,359.1C849.5,358.8 849.1,358.3 848.8,357.7C848.5,357.1 848.4,356.2 848.4,355.5C848.4,354.8 848.5,353.9 848.8,353.3C849.1,352.7 849.5,352.2 849.9,351.9C850.3,351.7 850.9,351.7 851.3,351.9C851.7,352.2 852.2,352.7 852.4,353.3C852.7,353.9 852.9,354.8 852.9,355.5Z" fill="#6e6ef5"/><path d="M846.2,389.2C846.9,388 848.3,387 850,386.8C851.7,386.5 855.3,387 856.2,388C857.2,389 856.2,391.4 855.6,393C855,394.6 853.6,396.5 852.5,397.4C851.4,398.2 849.8,398.5 848.8,398C847.7,397.5 846.7,395.7 846.2,394.2C845.8,392.8 845.6,390.5 846.2,389.2Z" fill="#6e6ef5"/><path d="M847.4,408.9C847.4,409.3 847.2,409.7 847,410.1C846.8,410.4 846.5,410.7 846.2,410.8C845.8,410.9 845.4,410.9 845.1,410.8C844.8,410.7 844.4,410.4 844.2,410.1C844,409.7 843.9,409.3 843.9,408.9C843.9,408.5 844,408 844.2,407.7C844.4,407.4 844.8,407.1 845.1,407C845.4,406.9 845.8,406.9 846.2,407C846.5,407.1 846.8,407.4 847,407.7C847.2,408 847.4,408.5 847.4,408.9Z" fill="#6e6ef5"/><path d="M786.2,419.2C787.1,415 788.3,417 790,416.8C791.7,416.5 793.8,417.5 796.2,418C798.8,418.5 802.3,419 805,419.9C807.7,420.7 810,421.9 812.5,423C815,424.1 817.7,423.5 820,426.8C822.3,430 826.2,442.5 826.2,442.5L785,442.5C785,442.5 785.4,423.5 786.2,419.2Z" fill="#1e5af5"/><path d="M863.8,304.8C863.8,304.8 864.3,318.3 865,321.8C865.7,325.2 864.8,324.9 867.9,325.5C870.9,326.1 883.2,325.5 883.2,325.5L883.2,304.8L863.8,304.8Z" fill="#0f8c8c"/><path d="M843.8,304.8C843.8,304.8 847.1,319.5 848.8,319.5C850.4,319.5 853.8,304.8 853.8,304.8L843.8,304.8Z" fill="#0f8c8c"/><path d="M866.2,416.8C863.2,418.2 865,420 865,424.2C865,428.5 866.2,442.5 866.2,442.5L883.2,442.5L883.2,415.5C883.2,415.5 869.3,415.3 866.2,416.8Z" fill="#0f8c8c"/></g><g clip-path="url(#c612_429_128)"><rect x="611" y="428" width="130" height="113" fill="#b4c6f9"/><path d="M614.5,492.8C615.4,491.3 617.4,490.5 619.5,490.2C621.6,490 624.1,490.9 627,491.5C629.9,492.1 634.1,494 637,494C639.9,494 641.8,492.1 644.5,491.5C647.2,490.9 650.6,490.2 653.2,490.2C655.9,490.2 659.1,490.5 660.1,491.5C661.2,492.5 660.2,494.8 659.5,496.5C658.8,498.2 656.8,499.8 655.8,501.5C654.7,503.2 653.5,504.6 653.2,506.5C653,508.4 654.5,510.7 654.5,512.8C654.5,514.8 654.3,517.3 653.2,519C652.2,520.7 650.3,521.9 648.2,522.8C646.2,523.6 643.2,524.2 640.8,524C638.2,523.8 635.5,522.8 633.2,521.5C631,520.2 628.9,518.4 627,516.5C625.1,514.6 623.7,512.3 622,510.2C620.3,508.2 618.4,505.9 617,504C615.6,502.1 614.3,500.9 613.9,499C613.5,497.1 613.6,494.2 614.5,492.8Z" fill="#ffffff"/><path d="M614.5,516.5C615.3,515.7 619.5,514.8 622,515.2C624.5,515.7 627,517.5 629.5,519C632,520.5 635.1,522.5 637,524C638.9,525.5 641.2,527.1 640.8,527.8C640.3,528.4 637.2,528.4 634.5,527.8C631.8,527.1 627.4,525.2 624.5,524C621.6,522.8 618.7,521.5 617,520.2C615.3,519 613.7,517.3 614.5,516.5Z" fill="#ffffff"/><path d="M618.9,434.6C619.6,433.3 622.5,434.6 624.5,431.5C626.5,428.4 630.8,415.8 630.8,415.8L638.2,415.8C638.2,415.8 640.3,429.9 642,434C643.7,438.1 647,438.4 648.2,440.2C649.5,442.1 648.7,443.8 649.5,445.2C650.3,446.7 652.8,447.5 653.2,449C653.7,450.5 653.2,453.6 652,454C650.8,454.4 648.2,453 645.8,451.5C643.2,450 639.5,446.6 637,445.2C634.5,443.9 632.8,443.7 630.8,443.4C628.7,443.1 626.3,444 624.5,443.4C622.7,442.8 621.1,441.1 620.1,439.6C619.2,438.2 618.1,436 618.9,434.6Z" fill="#6e6ef5"/><path d="M653.2,415.8L661.4,415.8C661.4,415.8 660,429.7 660.1,434C660.2,438.3 661.3,439.2 662,441.5C662.7,443.8 664.5,445.9 664.5,447.8C664.5,449.6 663.5,451.3 662,452.8C660.5,454.2 657.8,455.2 655.8,456.5C653.7,457.8 650.8,458.6 649.5,460.2C648.2,461.9 649.3,466.5 648.2,466.5C647.2,466.5 644.7,462.3 643.2,460.2C641.8,458.2 639.3,455.7 639.5,454C639.7,452.3 642.8,451.1 644.5,450.2C646.2,449.4 648,449.8 649.5,449C651,448.2 652.2,446.9 653.2,445.2C654.3,443.6 655.5,441.1 655.8,439C656,436.9 654.9,436.6 654.5,432.8C654.1,428.9 653.2,415.8 653.2,415.8Z" fill="#1e5af5"/><path d="M623.2,444C623.9,443 626.4,442.1 628.2,442.1C630.1,442.1 632.4,442.6 634.5,444C636.6,445.4 638.9,448 640.8,450.2C642.6,452.5 644.5,455.2 645.8,457.8C647,460.2 647.2,462.8 648.2,465.2C649.3,467.8 650.1,470.6 652,472.8C653.9,474.9 656.8,477.1 659.5,478.4C662.2,479.6 665.3,480 668.2,480.2C671.2,480.5 674.4,480.4 677,479.6C679.6,478.9 682.1,477.3 683.9,475.9C685.6,474.4 686.3,471.8 687.6,470.9C689,469.9 691.9,469.5 692,470.2C692.1,471 689.7,473.6 688.2,475.2C686.8,476.9 685.5,479 683.2,480.2C681,481.5 677.4,482.3 674.5,482.8C671.6,483.2 668.7,483.1 665.8,482.8C662.8,482.4 659.7,481.7 657,480.5C654.3,479.3 651.6,477.4 649.5,475.5C647.4,473.6 645.8,471.3 644.2,469.2C642.8,467.2 642,465.1 640.5,463C639,460.9 637.4,458.6 635.5,456.8C633.6,454.9 631.1,453.2 629.2,451.8C627.4,450.3 625.2,449.3 624.2,448C623.2,446.7 622.6,445 623.2,444Z" fill="#1e5af5"/><path d="M674.5,496.5C675.5,495 677.8,494.2 679.5,494C681.2,493.8 682.8,494.6 684.5,495.2C686.2,495.9 687.8,497.4 689.5,497.8C691.2,498.1 692.8,497.8 694.5,497.1C696.2,496.5 698.2,495.4 699.5,494C700.8,492.6 701.4,490.7 702,489C702.6,487.3 703.2,485.7 703.2,484C703.2,482.3 702.6,480.7 702,479C701.4,477.3 699.1,474.2 699.5,474C699.9,473.8 703,476.1 704.5,477.8C706,479.4 707.4,481.7 708.2,484C709.1,486.3 709.9,489 709.5,491.5C709.1,494 707.2,496.9 705.8,499C704.3,501.1 702.4,502.8 700.8,504C699.1,505.2 697.8,506 695.8,506.5C693.7,507 690.1,506.5 688.2,507.1C686.4,507.8 685.5,508.9 684.5,510.2C683.5,511.6 683,514 682,515.2C681,516.5 679.7,517.8 678.2,517.8C676.8,517.8 674.3,516.7 673.2,515.2C672.2,513.8 672,511.1 672,509C672,506.9 672.8,504.8 673.2,502.8C673.7,500.7 673.5,498 674.5,496.5Z" fill="#6e6ef5"/><path d="M680.8,415.8C680.8,415.8 686.4,429.7 689.5,434C692.6,438.3 696.2,438.8 699.5,441.5C702.8,444.2 706.4,447.1 709.5,450.2C712.6,453.4 715.5,456.9 718.2,460.2C721,463.6 723.5,467.1 725.8,470.2C728,473.4 730.1,476.5 732,479C733.9,481.5 733.3,483.6 737,485.2C740.7,486.9 754,489 754,489L754,415.8L680.8,415.8Z" fill="#1e5af5"/><path d="M729.5,415.8C729.5,415.8 730.8,429.4 732,432.8C733.2,436.1 733.3,435.2 737,435.9C740.7,436.5 754,436.5 754,436.5L754,415.8L729.5,415.8Z" fill="#6e6ef5"/><path d="M661.4,415.8C661.4,415.8 660,429.7 660.1,434C660.2,438.3 661.3,439.2 662,441.5C662.7,443.8 664.5,445.9 664.5,447.8C664.5,449.6 663.5,451.3 662,452.8C660.5,454.2 657.8,455.2 655.8,456.5C653.7,457.8 650.8,458.6 649.5,460.2C648.2,461.9 647.8,464.4 648.2,466.5C648.7,468.6 650.1,470.9 652,472.8C653.9,474.6 656.8,476.6 659.5,477.8C662.2,478.9 665.3,479.4 668.2,479.6C671.2,479.8 674.5,479.7 677,479C679.5,478.3 681.6,476.7 683.2,475.2C684.9,473.8 685.5,471.1 687,470.2C688.5,469.4 689.9,469.8 692,470.2C694.1,470.7 697.2,471.5 699.5,472.8C701.8,474 704.1,475.9 705.8,477.8C707.4,479.6 708.7,481.7 709.5,484C710.3,486.3 711.2,489 710.8,491.5C710.3,494 708.5,496.9 707,499C705.5,501.1 703.7,502.8 702,504C700.3,505.2 699.1,506 697,506.5C694.9,507 691.4,506.5 689.5,507.1C687.6,507.8 686.8,508.9 685.8,510.2C684.7,511.6 684.3,513.8 683.2,515.2C682.2,516.7 680,517.1 679.5,519C679,520.9 679.3,524.2 680.1,526.5C681,528.8 683.1,528.2 684.5,532.8C685.9,537.2 688.2,553.5 688.2,553.5L754,553.5L754,489C754,489 740.7,486.9 737,485.2C733.3,483.6 733.9,481.5 732,479C730.1,476.5 728,473.4 725.8,470.2C723.5,467.1 721,463.6 718.2,460.2C715.5,456.9 712.6,453.4 709.5,450.2C706.4,447.1 702.8,444.2 699.5,441.5C696.2,438.8 692.6,438.3 689.5,434C686.4,429.7 680.8,415.8 680.8,415.8L661.4,415.8Z" fill="#1e5af5" stroke="#1e5af5" stroke-width="9"/><path d="M661.4,415.8C661.4,415.8 660,429.7 660.1,434C660.2,438.3 661.3,439.2 662,441.5C662.7,443.8 664.5,445.9 664.5,447.8C664.5,449.6 663.5,451.3 662,452.8C660.5,454.2 657.8,455.2 655.8,456.5C653.7,457.8 650.8,458.6 649.5,460.2C648.2,461.9 647.8,464.4 648.2,466.5C648.7,468.6 650.1,470.9 652,472.8C653.9,474.6 656.8,476.6 659.5,477.8C662.2,478.9 665.3,479.4 668.2,479.6C671.2,479.8 674.5,479.7 677,479C679.5,478.3 681.6,476.7 683.2,475.2C684.9,473.8 685.5,471.1 687,470.2C688.5,469.4 689.9,469.8 692,470.2C694.1,470.7 697.2,471.5 699.5,472.8C701.8,474 704.1,475.9 705.8,477.8C707.4,479.6 708.7,481.7 709.5,484C710.3,486.3 711.2,489 710.8,491.5C710.3,494 708.5,496.9 707,499C705.5,501.1 703.7,502.8 702,504C700.3,505.2 699.1,506 697,506.5C694.9,507 691.4,506.5 689.5,507.1C687.6,507.8 686.8,508.9 685.8,510.2C684.7,511.6 684.3,513.8 683.2,515.2C682.2,516.7 680,517.1 679.5,519C679,520.9 679.3,524.2 680.1,526.5C681,528.8 683.1,528.2 684.5,532.8C685.9,537.2 688.2,553.5 688.2,553.5L754,553.5L754,489C754,489 740.7,486.9 737,485.2C733.3,483.6 733.9,481.5 732,479C730.1,476.5 728,473.4 725.8,470.2C723.5,467.1 721,463.6 718.2,460.2C715.5,456.9 712.6,453.4 709.5,450.2C706.4,447.1 702.8,444.2 699.5,441.5C696.2,438.8 692.6,438.3 689.5,434C686.4,429.7 680.8,415.8 680.8,415.8L661.4,415.8Z" fill="#0ac83c" stroke="#0f8c8c" stroke-width="2.5"/><path d="M668.9,435.2C669.7,434.1 672.3,435.1 674.5,435.9C676.7,436.6 679.3,438.1 682,439.6C684.7,441.2 687.8,443.1 690.8,445.2C693.7,447.4 696.8,450.5 699.5,452.8C702.2,455 704.7,456.7 707,459C709.3,461.3 711.4,463.8 713.2,466.5C715.1,469.2 717,472.5 718.2,475.2C719.5,478 719.9,480.2 720.8,482.8C721.6,485.2 722,488 723.2,490.2C724.5,492.5 726.4,494.6 728.2,496.5C730.1,498.4 730.2,499.9 734.5,501.5C738.8,503.1 754,505.9 754,505.9L754,553.5L697,553.5C697,553.5 694.5,539.3 693.2,535.2C692,531.2 689.9,530.9 689.5,529C689.1,527.1 689.5,525.1 690.8,524C692,522.9 694.7,522.5 697,522.1C699.3,521.7 702,521.6 704.5,521.5C707,521.4 709.7,521.3 712,521.5C714.3,521.7 716.2,522.8 718.2,522.8C720.3,522.8 722.6,522.5 724.5,521.5C726.4,520.5 728.7,518.6 729.5,516.5C730.3,514.4 730.3,511.3 729.5,509C728.7,506.7 726.2,504.4 724.5,502.8C722.8,501.1 720.5,500.5 719.5,499C718.5,497.5 718.9,496.1 718.2,494C717.6,491.9 716.8,489 715.8,486.5C714.7,484 713.5,481.1 712,479C710.5,476.9 709.1,475.2 707,474C704.9,472.8 702,472.3 699.5,471.5C697,470.7 694.5,470.2 692,469C689.5,467.8 686.8,465.9 684.5,464C682.2,462.1 680.1,460 678.2,457.8C676.4,455.5 674.7,452.8 673.2,450.2C671.8,447.8 670.2,445.2 669.5,442.8C668.8,440.2 668,436.4 668.9,435.2Z" fill="#8cfa14"/><path d="M671.4,439.6C671.7,438.6 674,438.5 675.8,439C677.5,439.5 679.7,441.1 682,442.8C684.3,444.4 687,446.8 689.5,449C692,451.2 694.7,453.8 697,455.9C699.3,458 701.4,459.5 703.2,461.5C705.1,463.5 707.6,466.1 708.2,467.8C708.9,469.4 708,471.2 707,471.5C706,471.8 703.9,470.5 702,469.6C700.1,468.8 697.8,467.6 695.8,466.5C693.7,465.4 691.6,464.2 689.5,462.8C687.4,461.3 685.1,459.6 683.2,457.8C681.4,455.9 679.8,453.6 678.2,451.5C676.7,449.4 675,447.2 673.9,445.2C672.7,443.3 671.1,440.7 671.4,439.6Z" fill="#fffa00"/><path d="M719.5,500.2C719.9,499.2 722.6,497.8 724.5,497.8C726.4,497.8 728.9,499 730.8,500.2C732.6,501.5 734.7,503.8 735.8,505.2C736.8,506.7 737.6,508.6 737,509C736.4,509.4 733.7,508.4 732,507.8C730.3,507.1 728.7,505.9 727,505.2C725.3,504.6 723.2,504.8 722,504C720.8,503.2 719.1,501.3 719.5,500.2Z" fill="#fffa00"/><path d="M722,527.8C722.6,525.7 725.1,524 727,522.8C728.9,521.5 728.8,520.9 733.2,520.2C737.8,519.6 754,519 754,519L754,553.5L724.5,553.5C724.5,553.5 723.7,539.5 723.2,535.2C722.8,531 721.4,529.8 722,527.8Z" fill="#fffa00"/><path d="M735.1,536.5C735.3,533.1 733.9,534.1 737,533.4C740.1,532.6 754,532.1 754,532.1L754,553.5L735.8,553.5C735.8,553.5 734.9,539.9 735.1,536.5Z" fill="#ffbe0a"/><path d="M621.4,534C622.6,530.5 624.4,532.6 627,532.8C629.6,532.9 633.7,534.2 637,534.6C640.3,535 643.9,534.9 647,535.2C650.1,535.6 653.9,533.5 655.8,536.5C657.6,539.5 658.2,553.5 658.2,553.5L619.5,553.5C619.5,553.5 620.1,537.5 621.4,534Z" fill="#1e5af5"/><path d="M598.8,532.8C598.8,532.8 613.3,532.8 617,533.4C620.7,534 619.9,533.1 620.8,536.5C621.6,539.9 622,553.5 622,553.5L598.8,553.5L598.8,532.8Z" fill="#6e6ef5"/></g><g clip-path="url(#c740_429_128)"><rect x="739" y="428" width="130" height="113" fill="#1e5af5"/><path d="M725.5,437.8C725.5,437.8 736.5,437.8 740,438.4C743.5,439 743.8,440.4 746.2,441.5C748.8,442.6 752.3,444.4 755,445.2C757.7,446.1 760.2,446.5 762.5,446.5C764.8,446.5 767.3,446.3 768.8,445.2C770.2,444.2 770.6,441.9 771.2,440.2C771.9,438.6 771.5,436.7 772.5,435.2C773.5,433.8 775.8,435 777.5,431.5C779.2,428 782.5,414.5 782.5,414.5L725.5,414.5L725.5,437.8Z" fill="#6e6ef5"/><path d="M821.9,415.8C821.9,415.8 826.1,429.9 827.5,434C828.9,438.1 830,438.2 830,440.2C830,442.3 828.1,444.2 827.5,446.5C826.9,448.8 826.2,451.5 826.2,454C826.2,456.5 826.5,459.6 827.5,461.5C828.5,463.4 831.2,463.8 832.5,465.2C833.8,466.7 835,468.2 835,470.2C835,472.3 833.3,475.5 832.5,477.8C831.7,480 831,482.1 830,484C829,485.9 827.9,487.5 826.2,489C824.6,490.5 821.5,491.3 820,492.8C818.5,494.2 817.7,495.9 817.5,497.8C817.3,499.6 817.5,502.6 818.8,504C820,505.4 822.9,505.9 825,505.9C827.1,505.9 829,504.2 831.2,504C833.5,503.8 836.5,505 838.8,504.6C841,504.2 843.6,502.9 845,501.5C846.4,500.1 847.1,498.4 846.9,496.5C846.7,494.6 844.1,492.3 843.8,490.2C843.4,488.2 844.2,485.9 845,484C845.8,482.1 847.5,480.7 848.8,479C850,477.3 852.1,475.9 852.5,474C852.9,472.1 852.3,469.4 851.2,467.8C850.2,466.1 847.5,465.5 846.2,464C845,462.5 844.4,460.7 843.8,459C843.1,457.3 843.1,455.9 842.5,454C841.9,452.1 840.6,449.8 840,447.8C839.4,445.7 839.2,443.6 838.8,441.5C838.3,439.4 837.9,439.5 837.5,435.2C837.1,431 836.2,415.8 836.2,415.8L821.9,415.8Z" fill="#6e6ef5"/><path d="M882,464C882,464 871,463.2 868,465.5C865,467.8 865.9,474.2 864.2,478C862.6,481.8 859.9,485.1 858,488C856.1,490.9 853.9,492.2 853,495.5C852.1,498.8 851.9,504.7 852.5,508C853.1,511.3 854.2,513.8 856.8,515.5C859.3,517.2 863.8,517.5 868,518C872.2,518.5 882,518.4 882,518.4L882,464Z" fill="#6e6ef5"/><path d="M859.1,448.4C859.1,449.1 858.9,450 858.5,450.6C858.1,451.2 857.4,451.7 856.7,451.9C856.1,452.2 855.2,452.2 854.5,451.9C853.9,451.7 853.2,451.2 852.8,450.6C852.4,450 852.1,449.1 852.1,448.4C852.1,447.6 852.4,446.8 852.8,446.2C853.2,445.6 853.9,445 854.5,444.8C855.2,444.6 856.1,444.6 856.7,444.8C857.4,445 858.1,445.6 858.5,446.2C858.9,446.8 859.1,447.6 859.1,448.4Z" fill="#6e6ef5"/><path d="M865.9,451.5C865.9,451.9 865.7,452.5 865.3,452.8C865,453.2 864.5,453.5 864,453.6C863.5,453.8 862.8,453.8 862.3,453.6C861.8,453.5 861.2,453.2 860.9,452.8C860.6,452.5 860.4,451.9 860.4,451.5C860.4,451.1 860.6,450.5 860.9,450.2C861.2,449.8 861.8,449.5 862.3,449.4C862.8,449.2 863.5,449.2 864,449.4C864.5,449.5 865,449.8 865.3,450.2C865.7,450.5 865.9,451.1 865.9,451.5Z" fill="#0f8c8c"/><path d="M726.8,481.5C726.8,481.5 740.9,480 745,479C749.1,478 749.4,476.5 751.2,475.2C753.1,474 754.6,472.5 756.2,471.5C757.9,470.5 759.8,469.6 761.2,469C762.7,468.4 763.3,468.2 765,467.8C766.7,467.3 769.2,467.3 771.2,466.5C773.3,465.7 775.4,464 777.5,462.8C779.6,461.5 781.7,460.2 783.8,459C785.8,457.8 788.1,456.5 790,455.2C791.9,454 793.5,452.2 795,451.5C796.5,450.8 797.9,450.5 798.8,450.9C799.6,451.3 800.6,452.6 800,454C799.4,455.4 796.9,457.5 795,459C793.1,460.5 790.6,461.5 788.8,462.8C786.9,464 784.8,465 783.8,466.5C782.7,468 782.3,469.8 782.5,471.5C782.7,473.2 784,474.8 785,476.5C786,478.2 787.7,479.6 788.8,481.5C789.8,483.4 790.6,485.7 791.2,487.8C791.9,489.8 791.2,492.3 792.5,494C793.8,495.7 796.7,497.3 798.8,497.8C800.8,498.2 803.1,496.3 805,496.5C806.9,496.7 808.5,497.8 810,499C811.5,500.2 812.9,502.1 813.8,504C814.6,505.9 814,508.4 815,510.2C816,512.1 817.9,514.2 820,515.2C822.1,516.3 825,516.3 827.5,516.5C830,516.7 832.5,516.4 835,516.5C837.5,516.6 840.4,516.5 842.5,517.1C844.6,517.8 846.9,518.7 847.5,520.2C848.1,521.8 846.9,524.4 846.2,526.5C845.6,528.6 844.8,528.2 843.8,532.8C842.7,537.2 840,553.5 840,553.5L726.8,553.5L726.8,481.5Z" fill="#0f8c8c"/><path d="M726.8,490.2C726.8,490.2 740.9,488 745,486.5C749.1,485 749.4,483.4 751.2,481.5C753.1,479.6 754.6,476.9 756.2,475.2C757.9,473.6 759.8,472.4 761.2,471.5C762.7,470.6 763.3,469.7 765,469.6C766.7,469.5 769.2,469.8 771.2,470.9C773.3,471.9 775.4,474.1 777.5,475.9C779.6,477.6 782,479.5 783.8,481.5C785.5,483.5 787.1,485.5 788.1,487.8C789.2,490 789.8,493.2 790,495.2C790.2,497.3 788.8,498.8 789.4,500.2C790,501.7 792.2,502.3 793.8,504C795.3,505.7 797.1,508.2 798.8,510.2C800.4,512.3 801.9,515.2 803.8,516.5C805.6,517.8 807.7,517.6 810,517.8C812.3,517.9 814.8,517.3 817.5,517.1C820.2,516.9 823.3,516.5 826.2,516.5C829.2,516.5 832.3,516.8 835,517.1C837.7,517.4 840.6,517.5 842.5,518.4C844.4,519.2 845.8,520.6 846.2,522.1C846.7,523.7 845.7,525.8 845,527.8C844.3,529.7 842.9,529.7 841.9,534C840.8,538.3 838.8,553.5 838.8,553.5L726.8,553.5L726.8,490.2Z" fill="#0ac83c"/><path d="M790,502.1C790.6,501.3 793.1,500.1 795,500.2C796.9,500.4 800,501.7 801.2,502.8C802.5,503.8 801.5,505.2 802.5,506.5C803.5,507.8 805.6,509.2 807.5,510.2C809.4,511.3 812.5,511.7 813.8,512.8C815,513.8 815.6,515.6 815,516.5C814.4,517.4 811.7,518.3 810,518.4C808.3,518.5 806.7,517.9 805,517.1C803.3,516.4 801.7,515.4 800,514C798.3,512.6 796.5,510.5 795,509C793.5,507.5 792.1,506.4 791.2,505.2C790.4,504.1 789.4,503 790,502.1Z" fill="#0f8c8c"/><path d="M726.8,504.6C726.8,504.6 742,506.4 746.2,506.5C750.5,506.6 750.4,505.7 752.5,505.2C754.6,504.8 757,504.6 758.8,504C760.5,503.4 761.9,501.5 763.1,501.5C764.4,501.5 765.1,502.8 766.2,504C767.4,505.2 768.5,507.5 770,509C771.5,510.5 773.1,511.5 775,512.8C776.9,514 779.2,515.5 781.2,516.5C783.3,517.5 785.4,518.2 787.5,519C789.6,519.8 791.7,521 793.8,521.5C795.8,522 798.3,521.7 800,522.1C801.7,522.5 802.3,522.9 803.8,524C805.2,525.1 807.1,527.3 808.8,529C810.4,530.7 812.5,529.9 813.8,534C815,538.1 816.2,553.5 816.2,553.5L726.8,553.5L726.8,504.6Z" fill="#8cfa14"/><path d="M756.2,553.5C756.2,553.5 756.5,539.8 757.5,536.5C758.5,533.2 760.6,534.2 762.5,534C764.4,533.8 767.5,532 768.8,535.2C770,538.5 770,553.5 770,553.5L756.2,553.5Z" fill="#0ac83c"/><path d="M726.8,515.2C726.8,515.2 740.1,513.8 743.8,514C747.4,514.2 747.1,515 748.8,516.5C750.4,518 752.1,520.7 753.8,522.8C755.4,524.8 757.7,526.9 758.8,529C759.8,531.1 760.4,533.4 760,535.2C759.6,537.1 757.1,536.6 756.2,539.9C755.4,543.1 755,554.8 755,554.8L726.8,554.8L726.8,515.2Z" fill="#fffa00"/><path d="M726.8,534C726.8,534 739.1,532.8 741.9,533.4C744.6,534 743,534.4 743.1,537.8C743.2,541.1 742.5,553.5 742.5,553.5L726.8,553.5L726.8,534Z" fill="#ffbe0a"/></g><g clip-path="url(#c356_318_256)"><rect x="355" y="317" width="258" height="224" fill="#ffffff"/><path d="M341.5,521.8C341.5,521.8 358.2,519 363.5,518C368.8,517 370.2,516.8 373.5,515.5C376.8,514.2 380.6,512.2 383.5,510.5C386.4,508.8 388.3,505.4 391,505C393.7,504.6 396.6,507.9 399.8,508C402.9,508.1 406.6,505.5 409.8,505.5C412.9,505.5 416.2,506.3 418.5,508C420.8,509.7 423.5,513.8 423.5,515.5C423.5,517.2 420.8,518 418.5,518C416.2,518 412.2,515.5 409.8,515.5C407.2,515.5 404.1,516.5 403.5,518C402.9,519.5 404.8,522.2 406,524.2C407.2,526.3 411,528.6 411,530.5C411,532.4 408.5,534.5 406,535.5C403.5,536.5 399.3,536 396,536.8C392.7,537.5 388.5,536.7 386,539.8C383.5,542.8 381,555 381,555L341.5,555L341.5,521.8Z" fill="#b4c6f9"/><path d="M427.2,520.5C427.9,518.9 431.8,517.8 433.5,518C435.2,518.2 436.8,520.3 437.2,521.8C437.7,523.2 437.2,525.8 436,526.8C434.8,527.7 431.2,528.5 429.8,527.5C428.3,526.5 426.6,522.1 427.2,520.5Z" fill="#b4c6f9"/><path d="M443.5,518C444.3,514.9 446.4,513.2 448.5,511.8C450.6,510.3 453.5,509.7 456,509.2C458.5,508.8 462.2,501.6 463.5,509.2C464.8,516.9 463.5,555 463.5,555L446,555C446,555 443.9,536.7 443.5,530.5C443.1,524.3 442.7,521.1 443.5,518Z" fill="#b4c6f9"/><path d="M431,536.8C431.8,533.4 434.3,534.9 436,535C437.7,535.1 440.2,534.2 441,537.5C441.8,540.8 441,555 441,555L431,555C431,555 430.2,540.1 431,536.8Z" fill="#b4c6f9"/><path d="M399.8,515.5C401,514 406.6,510.5 409.8,510.5C412.9,510.5 416.2,514.2 418.5,515.5C420.8,516.8 423.5,517 423.5,518C423.5,519 421,521.5 418.5,521.8C416,522 411.2,519.7 408.5,519.2C405.8,518.8 403.7,519.9 402.2,519.2C400.8,518.6 398.5,517 399.8,515.5Z" fill="#ffffff"/></g><g clip-path="url(#c520_280_92)"><rect x="519" y="279" width="94" height="175" fill="#ffffff"/><path d="M612,301.1C611.3,301.6 625.8,303.4 625.8,303.4C625.8,303.4 611.5,305.9 608.9,307.3C606.2,308.8 607,310.9 609.8,312.2C612.7,313.6 625.8,315.5 625.8,315.5L629.7,318.1L633.6,319.1L633.6,299.5L629.7,300.5C629.7,300.5 612.6,300.6 612,301.1Z" fill="#b4c6f9"/><path d="M605.9,362C606.9,359.9 606.2,358.3 609.8,357.1C613.5,356 627.7,355.2 627.7,355.2L629.7,360.1L628.7,365.9L629.7,372.8L625.8,376.7C625.8,376.7 611.5,376.8 607.9,375.7C604.3,374.6 604.3,372.1 604,369.8C603.7,367.6 605,364.1 605.9,362Z" fill="#b4c6f9"/><path d="M603,352.7C603,352.9 602.9,353.2 602.7,353.3C602.6,353.5 602.3,353.6 602,353.6C601.8,353.6 601.5,353.5 601.3,353.3C601.2,353.2 601.1,352.9 601.1,352.7C601.1,352.4 601.2,352.1 601.3,352C601.5,351.8 601.8,351.7 602,351.7C602.3,351.7 602.6,351.8 602.7,352C602.9,352.1 603,352.4 603,352.7Z" fill="#b4c6f9"/><path d="M633.6,407L629.7,407.9C629.7,407.9 615.3,409.3 611.8,410.5C608.3,411.6 609.8,414.4 608.9,414.8C607.9,415.2 607.4,414.1 605.9,412.8C604.5,411.5 602.4,408.3 600.1,407C597.8,405.7 594.9,405.7 592.3,405C589.7,404.3 586.1,404 584.5,403C582.8,402.1 582.2,400.4 582.5,399.1C582.8,397.8 584.8,396.2 586.4,395.2C588,394.3 590.6,393.7 592.3,393.3C594,392.8 595.9,393 596.6,392.5C597.2,392 597.1,391 596.2,390.4C595.3,389.7 592.4,390.2 591.3,388.4C590.1,386.6 590.5,381.7 589.3,379.6C588.2,377.5 586.6,376 584.5,375.7C582.3,375.4 579.1,376.4 576.6,377.7C574.2,379 571.8,381.2 569.8,383.5C567.9,385.8 566.9,389.4 564.9,391.3C563,393.3 558.6,393.9 558.1,395.2C557.6,396.5 561,397.5 562,399.1C563,400.8 563,403.7 563.9,405C564.9,406.3 567,405.7 567.9,407C568.7,408.3 569,410.5 568.8,412.8C568.7,415.1 567.4,418 566.9,420.6C566.4,423.2 565.6,425.8 565.9,428.4C566.2,431 567.4,434 568.8,436.2C570.3,438.5 572.1,440.5 574.7,442.1C577.3,443.7 582.2,441.7 584.5,446C586.7,450.3 588.4,467.8 588.4,467.8L633.6,467.8L633.6,407Z" fill="#b4c6f9"/></g><g clip-path="url(#c456_418_156)"><rect x="455" y="417" width="158" height="124" fill="#b4c6f9"/><path d="M441,403L562.6,403C562.6,403 564.9,419 565.7,424.1C566.5,429.1 566.2,430.7 567.2,433.2C568.2,435.8 570,437.9 571.8,439.3C573.6,440.7 575.8,441.1 577.9,441.6C579.9,442.1 582.2,441.5 584,442.4C585.7,443.3 587.5,445.2 588.5,446.9C589.6,448.7 589.3,451 590.1,453C590.8,455.1 592,457.4 593.1,459.1C594.3,460.9 595.9,462.2 596.9,463.7C597.9,465.2 598.3,466.8 599.2,468.3C600.1,469.8 601.1,471.1 602.3,472.8C603.4,474.6 604.9,477.2 606.1,478.9C607.2,480.7 609,482.6 609.1,483.5C609.2,484.4 608,484.5 606.8,484.3C605.7,484 603.5,483.1 602.3,482C601,480.8 600.1,478.4 599.2,477.4C598.3,476.4 597.9,475.1 596.9,475.9C595.9,476.7 594.5,480.2 593.1,482C591.7,483.8 589.9,485.2 588.5,486.6C587.2,487.9 585.8,490.2 585.2,489.9C584.6,489.7 584.6,487.1 584.7,485C584.9,483 585.9,479.2 586.3,477.4C586.6,475.6 587.7,475.1 587,474.4C586.4,473.6 584.2,472.8 582.4,472.8C580.7,472.8 578.6,473.7 576.4,474.4C574.1,475 571.5,476.4 568.7,476.7C565.9,476.9 562.6,476.7 559.6,475.9C556.5,475.1 553.2,473.6 550.5,472.1C547.7,470.6 545.4,468 542.8,466.8C540.3,465.5 537.8,464.6 535.2,464.5C532.7,464.3 530.1,465.4 527.6,466C525.1,466.6 522.5,467.8 520,468.3C517.4,468.8 514.3,469.5 512.4,469C510.5,468.5 509.8,466.9 508.6,465.2C507.3,463.6 506.9,460.7 504.8,459.1C502.6,457.6 498.7,457 495.6,456.1C492.6,455.2 489.5,454.4 486.5,453.8C483.4,453.2 480,452.4 477.3,452.3C474.7,452.2 472.3,451.9 470.5,453C468.7,454.2 467.2,456.6 466.7,459.1C466.2,461.7 466.7,465.7 467.4,468.3C468.2,470.8 470,472.6 471.2,474.4C472.5,476.1 474.8,477.4 475,478.9C475.3,480.5 474.4,482.1 472.8,483.5C471.1,484.9 466.5,486.2 465.1,487.3C463.7,488.5 463.6,489.2 464.4,490.4C465.1,491.5 468.1,492.8 469.7,494.2C471.4,495.6 473.4,497.2 474.3,498.7C475.2,500.3 476.1,502 475,503.3C474,504.6 469.8,505.5 468.2,506.4C466.5,507.2 464.6,507.9 465.1,508.6C465.6,509.4 469.5,510 471.2,510.9C473,511.8 475.8,513.2 475.8,514C475.8,514.7 473.3,515.6 471.2,515.5C469.2,515.4 466.2,514.2 463.6,513.2C461.1,512.2 459.8,510.3 456,509.4C452.2,508.5 441,507.9 441,507.9L441,403Z" fill="#ffffff"/><path d="M480.4,518.5C481.3,516.9 484.2,516.4 486.5,516.3C488.8,516.1 492.1,517.3 494.1,517.8C496.1,518.3 498.3,518.2 498.7,519.3C499,520.5 497.4,523.1 496.4,524.6C495.4,526.2 494.3,527.7 492.6,528.5C490.8,529.2 487.6,529.3 485.7,528.9C483.8,528.5 482,527.9 481.1,526.2C480.2,524.4 479.5,520.2 480.4,518.5Z" fill="#ffffff"/><path d="M493.3,537.6C494.7,534.7 498.8,536.1 501.7,536.1C504.6,536.1 509.1,534.7 510.8,537.6C512.6,540.5 512.4,553.4 512.4,553.4L493.3,553.4C493.3,553.4 491.9,540.5 493.3,537.6Z" fill="#ffffff"/><path d="M530.6,479.7C531.5,478.9 534,478.3 535.2,478.9C536.5,479.6 538,482.1 538.3,483.5C538.5,484.9 537.8,486.7 536.7,487.3C535.7,488 533.2,488 532.2,487.3C531.1,486.7 530.6,484.8 530.3,483.5C530.1,482.2 529.8,480.5 530.6,479.7Z" fill="#ffffff"/><path d="M503.2,493.4C503.9,492.9 507,492.4 508.6,492.6C510.1,492.9 512.2,494.3 512.4,494.9C512.5,495.6 510.6,496.3 509.3,496.5C508.1,496.6 505.8,496.2 504.8,495.7C503.7,495.2 502.6,493.9 503.2,493.4Z" fill="#ffffff"/><path d="M461,457.6C461,457.9 460.9,458.3 460.7,458.5C460.5,458.7 460.1,458.8 459.8,458.8C459.5,458.8 459.1,458.7 458.9,458.5C458.7,458.3 458.6,457.9 458.6,457.6C458.6,457.3 458.7,457 458.9,456.7C459.1,456.5 459.5,456.4 459.8,456.4C460.1,456.4 460.5,456.5 460.7,456.7C460.9,457 461,457.3 461,457.6Z" fill="#b4c6f9"/><path d="M518.5,501.8C518.9,500.6 520,499.6 521.5,499C523,498.5 526,498.3 527.6,498.7C529.3,499.2 530.9,500.5 531.4,501.8C532,503.1 531.7,505.2 531,506.4C530.2,507.5 528.4,508.3 526.8,508.6C525.3,509 522.9,509.1 521.5,508.6C520.2,508.2 519.3,507.2 518.8,506.1C518.3,504.9 518,503 518.5,501.8Z" fill="#6e6ef5"/><path d="M576.4,526.2C577,525.3 579.1,524.5 580.9,524.6C582.7,524.8 584.7,526 587,526.9C589.3,527.8 592.1,529.3 594.6,530C597.2,530.6 597.4,530.7 602.3,530.7C607.1,530.7 624,530 624,530L626.4,530L626.4,553.4L585.5,553.4C585.5,553.4 582.3,539.2 580.9,535.3C579.5,531.4 577.9,531.5 577.1,530C576.4,528.5 575.7,527.1 576.4,526.2Z" fill="#6e6ef5"/></g><g clip-path="url(#c868_318_128)"><rect x="867" y="317" width="130" height="113" fill="#1e5af5"/><path d="M883,304.8C883,304.8 885.1,317 886.8,320.5C888.4,324 891.3,323.6 893,325.5C894.7,327.4 895.1,330.3 896.8,331.8C898.4,333.2 900.7,333.9 903,334.2C905.3,334.6 908,334.1 910.5,333.6C913,333.1 915.7,331.4 918,331.1C920.3,330.8 921.8,331.3 924.2,331.8C926.8,332.2 930.3,333.2 933,333.6C935.7,334 938,334.5 940.5,334.2C943,334 945.5,333.1 948,332.4C950.5,331.6 953,330.8 955.5,329.9C958,328.9 960.7,327.9 963,326.8C965.3,325.6 967.3,324.2 969.2,323C971.2,321.8 973.2,322.3 974.5,319.2C975.8,316.2 976.8,304.8 976.8,304.8L883,304.8Z" fill="#6e6ef5"/><path d="M891.1,304.8C891.1,304.8 891.4,317.5 892.4,320.5C893.3,323.5 895.2,322.5 896.8,323C898.3,323.5 900.6,323.9 901.8,323.6C902.9,323.3 903.6,324.3 903.6,321.1C903.6,318 901.8,304.8 901.8,304.8L891.1,304.8Z" fill="#b4c6f9"/><path d="M941.1,326.8C941.1,325.8 942.9,324.1 944.2,323C945.6,321.9 947.4,322.9 949.2,319.9C951.1,316.8 955.5,304.8 955.5,304.8L966.8,304.8C966.8,304.8 965.7,318.3 964.2,321.8C962.8,325.2 960.3,324.5 958,325.5C955.7,326.5 952.8,327.5 950.5,328C948.2,328.5 945.8,328.8 944.2,328.6C942.7,328.4 941.1,327.7 941.1,326.8Z" fill="#b4c6f9"/><path d="M886.1,332.8C886.1,333.1 885.6,333.6 884.8,333.9C884,334.1 882.7,334.4 881.4,334.5C880.1,334.6 878.4,334.6 877.1,334.5C875.8,334.4 874.5,334.1 873.7,333.9C872.9,333.6 872.4,333.1 872.4,332.8C872.4,332.4 872.9,331.9 873.7,331.6C874.5,331.4 875.8,331.1 877.1,331C878.4,330.9 880.1,330.9 881.4,331C882.7,331.1 884,331.4 884.8,331.6C885.6,331.9 886.1,332.4 886.1,332.8Z" fill="#0f8c8c"/><path d="M968,345.8C968,346.2 967.7,346.7 967.3,347.1C966.9,347.4 966.1,347.8 965.4,347.9C964.7,348 963.8,348 963.1,347.9C962.4,347.8 961.6,347.4 961.2,347.1C960.8,346.7 960.5,346.2 960.5,345.8C960.5,345.3 960.8,344.8 961.2,344.4C961.6,344.1 962.4,343.7 963.1,343.6C963.8,343.5 964.7,343.5 965.4,343.6C966.1,343.7 966.9,344.1 967.3,344.4C967.7,344.8 968,345.3 968,345.8Z" fill="#0f8c8c"/><path d="M955.5,376.8C955.7,375.5 958,372.4 959.2,370.5C960.5,368.6 961.5,366.4 963,365.5C964.5,364.6 966.9,364.2 968,364.9C969.1,365.5 969.7,367.9 969.5,369.2C969.3,370.6 968,372.1 966.8,373C965.5,373.9 963.2,374 961.8,374.9C960.3,375.7 959,377.7 958,378C957,378.3 955.3,378 955.5,376.8Z" fill="#0f8c8c"/><path d="M880.5,350.5C881.2,347.9 882.6,346 884.2,344.9C885.9,343.7 888.4,343.3 890.5,343.6C892.6,343.9 894.7,346 896.8,346.8C898.8,347.5 901.1,348.6 903,348C904.9,347.4 905.9,344.2 908,343C910.1,341.8 912.8,341 915.5,340.5C918.2,340 921.3,339.8 924.2,339.9C927.2,340 930.3,340.6 933,341.1C935.7,341.6 938.9,341.6 940.5,343C942.1,344.4 942.4,346.8 942.4,349.2C942.4,351.8 941,354.9 940.5,358C940,361.1 939.2,365.1 939.2,368C939.2,370.9 940.5,373.2 940.5,375.5C940.5,377.8 940.5,380.3 939.2,381.8C938,383.2 934.9,384.5 933,384.2C931.1,384 929,382.2 928,380.5C927,378.8 928,375.5 926.8,374.2C925.5,373 922.8,373.4 920.5,373C918.2,372.6 915.3,372.6 913,371.8C910.7,370.9 908.2,369.7 906.8,368C905.3,366.3 905.3,363.2 904.2,361.8C903.2,360.3 901.5,359 900.5,359.2C899.5,359.5 898.6,361.1 898,363C897.4,364.9 897.6,368.4 896.8,370.5C895.9,372.6 894.5,374.2 893,375.5C891.5,376.8 889.7,377.8 888,378C886.3,378.2 884.2,378 883,376.8C881.8,375.5 881,373.2 880.5,370.5C880,367.8 879.9,363.8 879.9,360.5C879.9,357.2 879.8,353.1 880.5,350.5Z" fill="#0ac83c" stroke="#0f8c8c" stroke-width="2.5"/><path d="M911.8,351.8C912.1,350.3 914,349.6 915.5,349.2C917,348.9 918.6,349.2 920.5,349.9C922.4,350.5 925.2,351.6 926.8,353C928.3,354.4 929.7,356.3 929.9,358C930.1,359.7 928.9,361.5 928,363C927.1,364.5 925.7,365.8 924.2,366.8C922.8,367.7 920.9,368.5 919.2,368.6C917.6,368.7 915.5,368.3 914.2,367.4C913,366.4 912.1,364.6 912,363C911.9,361.4 913.7,359.9 913.6,358C913.6,356.1 911.4,353.2 911.8,351.8Z" fill="#8cfa14"/><path d="M916.8,379.2C918.2,378 924.7,379 926.8,380.5C928.8,382 929.2,385.5 929.2,388C929.2,390.5 928.2,394.7 926.8,395.5C925.3,396.3 922,394.2 920.5,393C919,391.8 918.6,390.3 918,388C917.4,385.7 915.3,380.5 916.8,379.2Z" fill="#0f8c8c"/><path d="M884.2,394.2C885.3,392.6 888.2,390.5 890.5,389.2C892.8,388 895.5,387.4 898,386.8C900.5,386.1 903,385.6 905.5,385.5C908,385.4 910.7,385.5 913,386.1C915.3,386.8 917.8,387.9 919.2,389.2C920.7,390.6 920.3,393 921.8,394.2C923.2,395.5 925.7,396.1 928,396.8C930.3,397.4 933,398.2 935.5,398C938,397.8 940.7,396.3 943,395.5C945.3,394.7 946.8,393.6 949.2,393C951.8,392.4 955.1,391.8 958,391.8C960.9,391.8 964.5,392.2 966.8,393C969,393.8 971,395.1 971.8,396.8C972.5,398.4 972.2,401.5 971.1,403C970.1,404.5 967.7,405.3 965.5,405.5C963.3,405.7 960.3,404.2 958,404.2C955.7,404.2 953.4,404.7 951.8,405.5C950.1,406.3 949,407.6 948,409.2C947,410.9 946.3,413.4 945.5,415.5C944.7,417.6 944,419.9 943,421.8C942,423.6 940.5,423.1 939.2,426.8C938,430.4 935.5,443.8 935.5,443.8L854.8,443.8L854.8,418C854.8,418 868.7,415.4 873,414.2C877.3,413.1 878.4,412.6 880.5,411.1C882.6,409.7 884.9,407.5 885.5,405.5C886.1,403.5 884.5,401.1 884.2,399.2C884,397.4 883.2,395.9 884.2,394.2Z" fill="#0ac83c" stroke="#0f8c8c" stroke-width="2.5"/><path d="M911.1,398C912.5,396.8 914.8,397.6 914.9,399.2C915,400.9 912.9,405.1 911.8,408C910.6,410.9 909,414 908,416.8C907,419.5 906.1,419.8 905.5,424.2C904.9,428.8 904.2,443.8 904.2,443.8L898,443.8C898,443.8 898.4,429 899.2,424.2C900.1,419.5 901.8,418.4 903,415.5C904.2,412.6 905.4,409.7 906.8,406.8C908.1,403.8 909.8,399.2 911.1,398Z" fill="#0f8c8c"/><path d="M954.2,415.5C954.8,413.8 955.9,413.5 958,413C960.1,412.5 964,412.4 966.8,412.4C969.5,412.4 972.6,412.9 974.5,413C976.4,413.1 977.4,408.1 978,413C978.6,417.9 978,442.5 978,442.5L955.5,442.5C955.5,442.5 955.1,427.5 954.9,423C954.7,418.5 953.7,417.2 954.2,415.5Z" fill="#6e6ef5"/><path d="M960.5,421.8C960.8,417.7 960.7,418.7 963,418C965.3,417.3 972,417.5 974.5,417.4C977,417.3 977.4,413.2 978,417.4C978.6,421.6 978,442.5 978,442.5L961.1,442.5C961.1,442.5 960.2,425.8 960.5,421.8Z" fill="#b4c6f9"/></g><g clip-path="url(#c868_429_128)"><rect x="867" y="428" width="130" height="113" fill="#1e5af5"/><path d="M910.5,415.8C910.5,415.8 911.1,433.7 911.1,439C911.1,444.3 910.7,444.8 910.5,447.8C910.3,450.7 909.7,454.2 909.9,456.5C910.1,458.8 911.5,459.8 911.8,461.5C912,463.2 912.2,465.6 911.1,466.5C910.1,467.4 907.4,466.2 905.5,467.1C903.6,468.1 901,469.7 899.9,472.1C898.7,474.5 898.5,478.5 898.6,481.5C898.8,484.5 899.6,487.8 900.8,490.2C901.9,492.8 905.1,494.2 905.5,496.5C905.9,498.8 904,501.5 903,504C902,506.5 900.5,509.2 899.2,511.5C898,513.8 896.8,515.7 895.5,517.8C894.2,519.8 893.2,522.1 891.8,524C890.3,525.9 888.4,527.3 886.8,529C885.1,530.7 883.4,529.7 881.8,534C880.1,538.3 876.8,554.8 876.8,554.8L978,554.8L978,415.8L910.5,415.8Z" fill="#0f8c8c"/><path d="M854.8,415.8L905.5,415.8C905.5,415.8 905.7,428.2 904.2,430.9C902.8,433.5 899.7,431.2 896.8,431.5C893.8,431.8 889.9,432.3 886.8,432.8C883.6,433.2 883.3,433.6 878,434C872.7,434.4 854.8,435.2 854.8,435.2L854.8,415.8Z" fill="#0ac83c"/><path d="M948,415.8C948,415.8 948.8,428.4 950.5,431.5C952.2,434.6 955.3,433.6 958,434.6C960.7,435.7 964,437 966.8,437.8C969.5,438.5 972.6,438.8 974.5,439C976.4,439.2 977.4,442.9 978,439C978.6,435.1 978,415.8 978,415.8L948,415.8Z" fill="#6e6ef5"/><path d="M960.5,415.8C960.5,415.8 958.8,428.4 961.1,430.9C963.5,433.4 971.7,430.9 974.5,430.9C977.3,430.9 977.4,433.4 978,430.9C978.6,428.4 978,415.8 978,415.8L960.5,415.8Z" fill="#b4c6f9"/><path d="M854.8,464.6C854.8,464.6 867,464.5 870.5,465.5C874,466.5 873.8,468.4 875.5,470.5C877.2,472.6 878.4,475.5 880.5,478C882.6,480.5 886.1,483 888,485.5C889.9,488 892.2,490.9 891.8,493C891.3,495.1 887.8,496.3 885.5,498C883.2,499.7 879.7,500.9 878,503C876.3,505.1 877.2,508 875.5,510.5C873.8,513 871.5,516.7 868,518C864.5,519.3 854.8,518.4 854.8,518.4L854.8,464.6Z" fill="#6e6ef5"/><path d="M882.1,452.8C882.1,454.2 881.9,456 881.5,457.2C881.1,458.3 880.4,459.4 879.7,459.9C879.1,460.3 878.2,460.3 877.5,459.9C876.9,459.4 876.2,458.3 875.8,457.2C875.4,456 875.1,454.2 875.1,452.8C875.1,451.3 875.4,449.5 875.8,448.3C876.2,447.2 876.9,446.1 877.5,445.6C878.2,445.2 879.1,445.2 879.7,445.6C880.4,446.1 881.1,447.2 881.5,448.3C881.9,449.5 882.1,451.3 882.1,452.8Z" fill="#0f8c8c"/><path d="M894,449C894,449.7 893.9,450.5 893.8,451.1C893.7,451.6 893.5,452.1 893.3,452.3C893.1,452.5 892.9,452.5 892.7,452.3C892.5,452.1 892.3,451.6 892.2,451.1C892.1,450.5 892,449.7 892,449C892,448.3 892.1,447.5 892.2,446.9C892.3,446.4 892.5,445.9 892.7,445.7C892.9,445.5 893.1,445.5 893.3,445.7C893.5,445.9 893.7,446.4 893.8,446.9C893.9,447.5 894,448.3 894,449Z" fill="#b4c6f9"/><path d="M911.8,430.2C912.9,427.9 915.9,429.4 918,429.6C920.1,429.8 922.7,430.4 924.2,431.5C925.8,432.6 927,434.4 927.4,436.5C927.8,438.6 927.5,441.7 926.8,444C926,446.3 924.5,448.4 923,450.2C921.5,452.1 919.5,454 918,455.2C916.5,456.5 915.3,458 914.2,457.8C913.2,457.5 912.3,456.3 911.8,454C911.2,451.7 911.1,448 911.1,444C911.1,440 910.6,432.6 911.8,430.2Z" fill="#0ac83c"/><path d="M937.6,441.5C937.6,442.5 937.2,443.6 936.6,444.4C936,445.2 935,446 934,446.3C933,446.6 931.7,446.6 930.8,446.3C929.8,446 928.7,445.2 928.1,444.4C927.5,443.6 927.1,442.5 927.1,441.5C927.1,440.5 927.5,439.4 928.1,438.6C928.7,437.8 929.8,437 930.8,436.7C931.7,436.4 933,436.4 934,436.7C935,437 936,437.8 936.6,438.6C937.2,439.4 937.6,440.5 937.6,441.5Z" fill="#1e5af5"/><path d="M944.2,440.2C945.2,439.2 948.2,437.8 950.5,437.8C952.8,437.8 955.5,439.2 958,440.2C960.5,441.3 963.5,442.8 965.5,444C967.5,445.2 969.5,446.3 969.9,447.8C970.3,449.2 969.4,451.7 968,452.8C966.6,453.8 963.8,454.4 961.8,454C959.7,453.6 957.6,451.5 955.5,450.2C953.4,449 951,447.5 949.2,446.5C947.5,445.5 945.7,445 944.9,444C944,443 943.3,441.3 944.2,440.2Z" fill="#0ac83c"/><path d="M915.5,465.2C916.8,463 918.4,461.3 920.5,460.2C922.6,459.2 925.1,459.3 928,459C930.9,458.7 934.7,458.4 938,458.4C941.3,458.4 944.9,458.3 948,459C951.1,459.7 954.4,461.3 956.8,462.8C959.1,464.2 961.3,465.9 962.4,467.8C963.4,469.6 963.3,471.7 963,474C962.7,476.3 961.8,479.2 960.5,481.5C959.2,483.8 957.6,486.1 955.5,487.8C953.4,489.4 950.7,491 948,491.5C945.3,492 942.2,490.7 939.2,490.9C936.3,491.1 933.2,492 930.5,492.8C927.8,493.5 925.3,495.5 923,495.2C920.7,495 918.3,493.4 916.8,491.5C915.2,489.6 914.2,486.9 913.6,484C913,481.1 912.7,477.1 913,474C913.3,470.9 914.2,467.5 915.5,465.2Z" fill="#1e5af5"/><path d="M900.5,471.5C901.3,469.6 902.8,468.2 904.2,467.8C905.7,467.3 908.2,467.5 909.2,469C910.3,470.5 910.7,474 910.5,476.5C910.3,479 908.8,481.5 908,484C907.2,486.5 906.5,489.8 905.5,491.5C904.5,493.2 902.8,494.8 901.8,494C900.7,493.2 899.7,489 899.2,486.5C898.8,484 899,481.5 899.2,479C899.5,476.5 899.7,473.4 900.5,471.5Z" fill="#0ac83c"/><path d="M978,477.8C977.4,465.1 975.8,478.4 974.5,479C973.2,479.6 971.8,480 970.5,481.5C969.2,483 968,485.7 966.8,487.8C965.5,489.8 964.9,492.1 963,494C961.1,495.9 958,498.1 955.5,499C953,499.9 950.9,499.4 948,499.6C945.1,499.8 941.3,499.7 938,500.2C934.7,500.8 931.3,502.1 928,502.8C924.7,503.4 920.9,504 918,504C915.1,504 912.6,502.8 910.5,502.8C908.4,502.8 907,503 905.5,504C904,505 903,507.3 901.8,509C900.5,510.7 899.2,512.3 898,514C896.8,515.7 895.5,517.1 894.2,519C893,520.9 892,523.4 890.5,525.2C889,527.1 887.2,528.6 885.5,530.2C883.8,531.9 882.2,531.2 880.5,535.2C878.8,539.3 875.5,554.8 875.5,554.8L978,554.8C978,554.8 978.6,490.4 978,477.8Z" fill="#0ac83c"/><path d="M893,554.8C893,554.8 893.4,536.6 894.2,531.5C895.1,526.4 897,526.1 898,524C899,521.9 899.2,519.2 900.5,519C901.8,518.8 903.6,521.9 905.5,522.8C907.4,523.6 909.5,524 911.8,524C914,524 916.8,522.9 919.2,522.8C921.8,522.6 924.2,523.6 926.8,523.4C929.2,523.2 932,522.2 934.2,521.5C936.5,520.8 938.4,519.8 940.5,519C942.6,518.2 944.9,517.5 946.8,516.5C948.6,515.5 950.1,513.5 951.8,512.8C953.4,512 955.3,511.5 956.8,512.1C958.2,512.8 959.5,514.9 960.5,516.5C961.5,518.1 962.8,519.8 963,521.5C963.2,523.2 962.8,525 961.8,526.5C960.7,528 958.2,529.8 956.8,530.2C955.3,530.7 954.2,529.4 953,529C951.8,528.6 950.5,527.5 949.2,527.8C948,528 945.7,529 945.5,530.2C945.3,531.5 947.2,531.2 948,535.2C948.8,539.3 950.5,554.8 950.5,554.8L893,554.8Z" fill="#8cfa14"/><path d="M896.8,554.8C896.8,554.8 899,540.8 900.5,537.8C902,534.7 903.4,536.6 905.5,536.5C907.6,536.4 910.5,536.7 913,537.1C915.5,537.5 918.8,536.1 920.5,539C922.2,541.9 923,554.8 923,554.8L896.8,554.8Z" fill="#fffa00"/></g><g clip-path="url(#c100_540_256)"><rect x="99" y="539" width="258" height="224" fill="#b4c6f9"/><path d="M85.5,605.5C85.5,605.5 101.8,606 106.8,607C111.7,608 112,609.9 115,611.2C118,612.6 121.2,614.8 125,615C128.8,615.2 133.3,613.4 137.5,612.5C141.7,611.6 146.2,610.1 150,609.5C153.8,608.9 156.7,608 160,608.8C163.3,609.5 166.7,611.5 170,613.8C173.3,616 176.2,620 180,622.5C183.8,625 188.3,627.5 192.5,628.8C196.7,630 201.7,630.2 205,630C208.3,629.8 210,627.5 212.5,627.5C215,627.5 217.1,628.8 220,630C222.9,631.2 226.7,633.8 230,635C233.3,636.2 236.7,637.2 240,637.5C243.3,637.8 246.7,637.6 250,637C253.3,636.4 256.7,634.7 260,633.8C263.3,632.8 267.1,632.5 270,631.2C272.9,630 275.8,628.5 277.5,626.2C279.2,624 278.8,619.8 280,617.5C281.2,615.2 284,614.6 285,612.5C286,610.4 285,607.1 286.2,605C287.5,602.9 290.2,602.3 292.5,600C294.8,597.7 297.5,593.5 300,591.2C302.5,589 304.2,587.4 307.5,586.2C310.8,585.1 315.8,584.7 320,584.5C324.2,584.3 328.8,584.5 332.5,585C336.2,585.5 339.6,586.9 342.5,587.5C345.4,588.1 345.1,588.5 350,588.8C354.9,589 372,589.2 372,589.2L372,777L85.5,777L85.5,605.5Z" fill="#6e6ef5"/><path d="M85.5,617.5C85.5,617.5 101.8,618.1 106.8,618.8C111.7,619.4 112.4,619.8 115,621.2C117.6,622.7 119.6,626.7 122.5,627.5C125.4,628.3 129.2,626.7 132.5,626.2C135.8,625.8 138.8,625 142.5,625C146.2,625 151.2,625.2 155,626.2C158.8,627.3 161.2,630.2 165,631.2C168.8,632.3 173.3,631.7 177.5,632.5C181.7,633.3 185.4,635.2 190,636.2C194.6,637.3 200.4,638.1 205,638.8C209.6,639.4 212.9,639.8 217.5,640C222.1,640.2 227.9,639.8 232.5,640C237.1,640.2 240.8,641.2 245,641.2C249.2,641.2 253.3,640.8 257.5,640C261.7,639.2 266.2,637.7 270,636.2C273.8,634.8 277.3,633.1 280,631.2C282.7,629.4 284.6,627.7 286.2,625C287.9,622.3 288.1,618.1 290,615C291.9,611.9 295,608.1 297.5,606.2C300,604.4 302.9,605.2 305,603.8C307.1,602.3 308.5,599.6 310,597.5C311.5,595.4 311.7,592.7 313.8,591.2C315.8,589.8 319,589.2 322.5,588.8C326,588.3 331.2,588.3 335,588.8C338.8,589.2 338.8,590.5 345,591.2C351.2,592 372,593 372,593L372,777L85.5,777L85.5,617.5Z" fill="#1e5af5"/><path d="M312.5,612.5C313.1,610.2 315.2,607.5 317.5,606.2C319.8,605 323.8,604.6 326.2,605C328.8,605.4 331.2,607.1 332.5,608.8C333.8,610.4 334.4,612.9 333.8,615C333.1,617.1 331,619.8 328.8,621.2C326.5,622.7 322.5,624 320,623.8C317.5,623.5 315,621.9 313.8,620C312.5,618.1 311.9,614.8 312.5,612.5Z" fill="#6e6ef5"/><path d="M85.5,638C85.5,638 101.8,638.4 106.8,638.8C111.7,639.1 112,639.6 115,640C118,640.4 122.1,641.5 125,641.2C127.9,641 130.4,639.6 132.5,638.8C134.6,637.9 135.6,636.7 137.5,636.2C139.4,635.8 141.7,635.2 143.8,636.2C145.8,637.3 147.7,640.6 150,642.5C152.3,644.4 155,646.9 157.5,647.5C160,648.1 162.7,647.1 165,646.2C167.3,645.4 168.8,643.1 171.2,642.5C173.8,641.9 177.3,641.9 180,642.5C182.7,643.1 184.2,645.4 187.5,646.2C190.8,647.1 195.8,647.3 200,647.5C204.2,647.7 207.5,647.5 212.5,647.5C217.5,647.5 224.6,647.3 230,647.5C235.4,647.7 240.8,648.3 245,648.8C249.2,649.2 251.7,650.4 255,650C258.3,649.6 261.7,647.5 265,646.2C268.3,645 271.7,643.5 275,642.5C278.3,641.5 281.2,641 285,640C288.8,639 293.3,637.3 297.5,636.2C301.7,635.2 306.2,634.4 310,633.8C313.8,633.1 316.7,633.1 320,632.5C323.3,631.9 327.1,631 330,630C332.9,629 335,627.5 337.5,626.2C340,625 342.5,623.5 345,622.5C347.5,621.5 348,620.5 352.5,620C357,619.5 372,619.5 372,619.5L372,777L85.5,777L85.5,638Z" fill="#0ac83c" stroke="#0f8c8c" stroke-width="2.5"/><path d="M117.5,653.8C118.3,652.2 122.3,650.2 125,650C127.7,649.8 132.1,651.2 133.8,652.5C135.4,653.8 136,656.2 135,657.5C134,658.8 130,660.2 127.5,660.5C125,660.8 121.7,660.6 120,659.5C118.3,658.4 116.7,655.3 117.5,653.8Z" fill="#0f8c8c"/><path d="M143.8,650C144.6,648.3 148.8,647.3 151.2,647.5C153.8,647.7 157.3,649.6 158.8,651.2C160.2,652.9 160.8,656 160,657.5C159.2,659 156,660.5 153.8,660.5C151.5,660.5 147.9,659.2 146.2,657.5C144.6,655.8 142.9,651.7 143.8,650Z" fill="#0f8c8c"/><path d="M209,660C209,660.5 208.5,661.2 207.9,661.6C207.2,662.1 206,662.4 204.9,662.6C203.7,662.8 202.3,662.8 201.1,662.6C200,662.4 198.8,662.1 198.1,661.6C197.5,661.2 197,660.5 197,660C197,659.5 197.5,658.8 198.1,658.4C198.8,657.9 200,657.6 201.1,657.4C202.3,657.2 203.7,657.2 204.9,657.4C206,657.6 207.2,657.9 207.9,658.4C208.5,658.8 209,659.5 209,660Z" fill="#0f8c8c"/><path d="M137.8,673.8C137.8,674.3 137.3,674.9 136.5,675.4C135.8,675.8 134.5,676.2 133.3,676.4C132,676.5 130.5,676.5 129.2,676.4C128,676.2 126.7,675.8 126,675.4C125.2,674.9 124.8,674.3 124.8,673.8C124.8,673.2 125.2,672.6 126,672.1C126.7,671.7 128,671.3 129.2,671.1C130.5,671 132,671 133.3,671.1C134.5,671.3 135.8,671.7 136.5,672.1C137.3,672.6 137.8,673.2 137.8,673.8Z" fill="#0f8c8c"/><path d="M106.8,662.5C107.5,661 110.7,663.3 111.2,665C111.8,666.7 110.8,671 110,672.5C109.2,674 107.3,675.4 106.8,673.8C106.2,672.1 106,664 106.8,662.5Z" fill="#0f8c8c"/><path d="M211.2,673.8C211.2,672.2 216.5,670 220,668.8C223.5,667.5 228.3,666.7 232.5,666.2C236.7,665.8 241.2,665.8 245,666.2C248.8,666.7 253.1,667.5 255,668.8C256.9,670 257.5,672.3 256.2,673.8C255,675.2 251,676.7 247.5,677.5C244,678.3 239.6,678.7 235,678.8C230.4,678.8 224,678.8 220,678C216,677.2 211.2,675.3 211.2,673.8Z" fill="#8cfa14"/><path d="M257.5,668.8C257.3,667.3 260.2,664.3 262.5,662.5C264.8,660.7 268.7,658.6 271.2,658C273.8,657.4 276.8,657.8 278,658.8C279.2,659.7 279.7,662.1 278.8,663.8C277.8,665.4 275,667.5 272.5,668.8C270,670 266.2,671.2 263.8,671.2C261.2,671.2 257.7,670.2 257.5,668.8Z" fill="#8cfa14"/><path d="M320.2,650C320.2,650.5 320,651.1 319.7,651.5C319.4,651.9 318.9,652.2 318.3,652.4C317.8,652.5 317.2,652.5 316.7,652.4C316.1,652.2 315.6,651.9 315.3,651.5C315,651.1 314.8,650.5 314.8,650C314.8,649.5 315,648.9 315.3,648.5C315.6,648.1 316.1,647.8 316.7,647.6C317.2,647.5 317.8,647.5 318.3,647.6C318.9,647.8 319.4,648.1 319.7,648.5C320,648.9 320.2,649.5 320.2,650Z" fill="#8cfa14"/><path d="M315,667C315,667.6 314.7,668.3 314.3,668.8C313.9,669.2 313.1,669.7 312.4,669.9C311.7,670 310.8,670 310.1,669.9C309.4,669.7 308.6,669.2 308.2,668.8C307.8,668.3 307.5,667.6 307.5,667C307.5,666.4 307.8,665.7 308.2,665.2C308.6,664.8 309.4,664.3 310.1,664.1C310.8,664 311.7,664 312.4,664.1C313.1,664.3 313.9,664.8 314.3,665.2C314.7,665.7 315,666.4 315,667Z" fill="#8cfa14"/><path d="M170,675.8C170,676.2 169.8,676.7 169.6,677.1C169.4,677.4 169,677.8 168.6,677.9C168.2,678 167.8,678 167.4,677.9C167,677.8 166.6,677.4 166.4,677.1C166.2,676.7 166,676.2 166,675.8C166,675.3 166.2,674.8 166.4,674.4C166.6,674.1 167,673.7 167.4,673.6C167.8,673.5 168.2,673.5 168.6,673.6C169,673.7 169.4,674.1 169.6,674.4C169.8,674.8 170,675.3 170,675.8Z" fill="#8cfa14"/><path d="M317.5,672.5C318.3,671.2 322.1,670.6 325,671.2C327.9,671.9 331.7,674.2 335,676.2C338.3,678.3 338.8,681.9 345,683.8C351.2,685.6 372,687.5 372,687.5L372,720C372,720 351,721.7 346.2,720C341.5,718.3 345.2,712.3 343.8,710C342.3,707.7 338.1,708.3 337.5,706.2C336.9,704.2 340.6,700.2 340,697.5C339.4,694.8 336.2,692.3 333.8,690C331.2,687.7 327.3,685.6 325,683.8C322.7,681.9 321.2,680.6 320,678.8C318.8,676.9 316.7,673.8 317.5,672.5Z" fill="#8cfa14"/><path d="M106.8,700C107.3,698.8 109.5,701 110,702.5C110.5,704 110,707.5 109.5,708.8C109,710 107.2,711.5 106.8,710C106.3,708.5 106.2,701.2 106.8,700Z" fill="#8cfa14"/><path d="M330.8,700C330.8,700.4 330.6,700.9 330.4,701.2C330.1,701.5 329.7,701.8 329.4,701.9C329,702 328.5,702 328.1,701.9C327.8,701.8 327.4,701.5 327.1,701.2C326.9,700.9 326.8,700.4 326.8,700C326.8,699.6 326.9,699.1 327.1,698.8C327.4,698.5 327.8,698.2 328.1,698.1C328.5,698 329,698 329.4,698.1C329.7,698.2 330.1,698.5 330.4,698.8C330.6,699.1 330.8,699.6 330.8,700Z" fill="#8cfa14"/></g><g clip-path="url(#c356_540_256)"><rect x="355" y="539" width="258" height="224" fill="#b4c6f9"/><path d="M381,545C381.8,543.3 384.3,543.2 388.5,540C392.7,536.8 406,525.5 406,525.5L511,525.5C511,525.5 510.2,542.6 508.5,547.5C506.8,552.4 503.9,552.7 501,555C498.1,557.3 493.5,559.2 491,561.2C488.5,563.3 487.7,564.8 486,567.5C484.3,570.2 482.7,575.4 481,577.5C479.3,579.6 478.1,580.4 476,580C473.9,579.6 471.8,575.6 468.5,575C465.2,574.4 460.2,575.2 456,576.2C451.8,577.3 447.7,580.3 443.5,581.2C439.3,582.2 435.2,581.8 431,582C426.8,582.2 423.5,582.5 418.5,582.5C413.5,582.5 405.2,582.4 401,582C396.8,581.6 394.5,581.6 393.5,580C392.5,578.4 396,574.4 394.8,572.5C393.5,570.6 388.9,569.2 386,568.8C383.1,568.3 378.3,571 377.2,570C376.2,569 378.3,564.6 379.8,562.5C381.2,560.4 385.4,559.6 386,557.5C386.6,555.4 384.3,552.1 383.5,550C382.7,547.9 380.2,546.7 381,545Z" fill="#ffffff"/><path d="M376.2,550.5C376.2,551.3 375.8,552.3 375.3,552.8C374.8,553.3 373.8,553.8 373,553.8C372.2,553.8 371.2,553.3 370.7,552.8C370.2,552.3 369.8,551.3 369.8,550.5C369.8,549.7 370.2,548.7 370.7,548.2C371.2,547.7 372.2,547.2 373,547.2C373.8,547.2 374.8,547.7 375.3,548.2C375.8,548.7 376.2,549.7 376.2,550.5Z" fill="#ffffff"/><path d="M370,579.8C370,580.2 369.8,580.7 369.4,581.1C369,581.4 368.4,581.8 367.8,581.9C367.1,582 366.4,582 365.7,581.9C365.1,581.8 364.5,581.4 364.1,581.1C363.7,580.7 363.5,580.2 363.5,579.8C363.5,579.3 363.7,578.8 364.1,578.4C364.5,578.1 365.1,577.7 365.7,577.6C366.4,577.5 367.1,577.5 367.8,577.6C368.4,577.7 369,578.1 369.4,578.4C369.8,578.8 370,579.3 370,579.8Z" fill="#ffffff"/><path d="M518.5,555C518.7,554 521.8,553.1 523.5,553.8C525.2,554.4 526.8,558.8 528.5,558.8C530.2,558.8 532,554 533.5,553.8C535,553.5 536.8,554.8 537.2,557.5C537.7,560.2 537.2,567.7 536,570C534.8,572.3 531.4,572.1 529.8,571.2C528.1,570.4 527.2,566.9 526,565C524.8,563.1 523.5,561.7 522.2,560C521,558.3 518.3,556 518.5,555Z" fill="#ffffff"/><path d="M553.5,593.8C553.9,592.4 558.5,589.8 561,587.5C563.5,585.2 566.2,583.1 568.5,580C570.8,576.9 573.1,570.2 574.8,568.8C576.4,567.3 577,570.2 578.5,571.2C580,572.3 580.6,574.6 583.5,575C586.4,575.4 592.2,573.3 596,573.8C599.8,574.2 603.7,575.8 606,577.5C608.3,579.2 609.8,581.7 609.8,583.8C609.8,585.8 606.4,587.5 606,590C605.6,592.5 609.3,597.1 607.2,598.8C605.2,600.4 597.9,600.2 593.5,600C589.1,599.8 585.2,598.1 581,597.5C576.8,596.9 572.2,596.6 568.5,596.2C564.8,595.9 561,595.9 558.5,595.5C556,595.1 553.1,595.1 553.5,593.8Z" fill="#ffffff"/><path d="M486.8,585.5C486.8,585.9 486.6,586.3 486.3,586.6C486.1,586.8 485.6,587 485.2,587C484.9,587 484.4,586.8 484.2,586.6C483.9,586.3 483.8,585.9 483.8,585.5C483.8,585.1 483.9,584.7 484.2,584.4C484.4,584.2 484.9,584 485.2,584C485.6,584 486.1,584.2 486.3,584.4C486.6,584.7 486.8,585.1 486.8,585.5Z" fill="#ffffff"/><path d="M341.5,588.8C341.5,588.8 360.2,589.4 366,590C371.8,590.6 372.7,591.2 376,592.5C379.3,593.8 381.8,597.3 386,597.5C390.2,597.7 396.4,594.8 401,593.8C405.6,592.7 408.9,591.5 413.5,591.2C418.1,591 423.5,592.2 428.5,592.5C433.5,592.8 438.1,592.8 443.5,593C448.9,593.2 455.6,593.2 461,593.8C466.4,594.3 471,595.5 476,596.2C481,597 486,597.2 491,598C496,598.8 501,600.2 506,601.2C511,602.3 516,603.8 521,604.5C526,605.2 531,605.2 536,605.5C541,605.8 546,605.5 551,606.2C556,607 561.8,608.5 566,610C570.2,611.5 572.7,614.4 576,615C579.3,615.6 583.1,612.5 586,613.8C588.9,615 591,619 593.5,622.5C596,626 598.9,631.2 601,635C603.1,638.8 601.5,641.9 606,645C610.5,648.1 628,653.8 628,653.8L628,777L341.5,777L341.5,588.8Z" fill="#6e6ef5"/><path d="M341.5,590.8C341.5,590.8 362.8,591.6 368.5,592.5C374.2,593.4 373.9,593.8 376,596.2C378.1,598.8 378.1,606.9 381,607.5C383.9,608.1 389.3,601.9 393.5,600C397.7,598.1 402.7,597.3 406,596.2C409.3,595.2 409.8,594 413.5,593.8C417.2,593.5 423.5,594.3 428.5,594.5C433.5,594.7 438.1,594.7 443.5,595C448.9,595.3 455.6,595.6 461,596.2C466.4,596.9 471,597.9 476,598.8C481,599.6 486,600.3 491,601.2C496,602.2 501,603.4 506,604.5C511,605.6 516,607.2 521,608C526,608.8 531.8,609.2 536,609.5C540.2,609.8 542.2,609.5 546,610C549.8,610.5 554.8,611.2 558.5,612.5C562.2,613.8 565.6,615.4 568.5,617.5C571.4,619.6 575.6,622.5 576,625C576.4,627.5 573.5,630.6 571,632.5C568.5,634.4 563.1,634.6 561,636.2C558.9,637.9 557.2,641.2 558.5,642.5C559.8,643.8 564.8,642.9 568.5,643.8C572.2,644.6 576.8,646.5 581,647.5C585.2,648.5 590,648.8 593.5,650C597,651.2 600.2,652.9 602.2,655C604.3,657.1 601.7,660.6 606,662.5C610.3,664.4 628,666.2 628,666.2L628,777L341.5,777L341.5,590.8Z" fill="#1e5af5"/><path d="M576,670C576,671.1 575.4,672.4 574.5,673.2C573.6,674.1 572,674.9 570.5,675.2C569,675.6 567,675.6 565.5,675.2C564,674.9 562.4,674.1 561.5,673.2C560.6,672.4 560,671.1 560,670C560,668.9 560.6,667.6 561.5,666.8C562.4,665.9 564,665.1 565.5,664.8C567,664.4 569,664.4 570.5,664.8C572,665.1 573.6,665.9 574.5,666.8C575.4,667.6 576,668.9 576,670Z" fill="#6e6ef5"/><path d="M608.5,680C608.5,680.7 608,681.5 607.3,682.1C606.6,682.6 605.3,683.1 604.2,683.3C603,683.5 601.5,683.5 600.3,683.3C599.2,683.1 597.9,682.6 597.2,682.1C596.5,681.5 596,680.7 596,680C596,679.3 596.5,678.5 597.2,677.9C597.9,677.4 599.2,676.9 600.3,676.7C601.5,676.5 603,676.5 604.2,676.7C605.3,676.9 606.6,677.4 607.3,677.9C608,678.5 608.5,679.3 608.5,680Z" fill="#6e6ef5"/><path d="M341.5,633C341.5,633 359.8,632.2 366,631.2C372.2,630.3 374.8,629.4 378.5,627.5C382.2,625.6 385.2,622.5 388.5,620C391.8,617.5 395.2,615 398.5,612.5C401.8,610 406.2,607.1 408.5,605C410.8,602.9 410.2,600.9 412.2,600C414.3,599.1 417,599.7 421,599.5C425,599.3 431,598.8 436,598.8C441,598.8 446,599.2 451,599.5C456,599.8 461,600 466,600.5C471,601 476,601.5 481,602.5C486,603.5 491,604.8 496,606.2C501,607.7 506,609.6 511,611.2C516,612.9 521.8,614.8 526,616.2C530.2,617.7 533.1,618.5 536,620C538.9,621.5 542.7,622.5 543.5,625C544.3,627.5 542,631.7 541,635C540,638.3 538.1,641.7 537.2,645C536.4,648.3 535.8,651.7 536,655C536.2,658.3 536.8,661.7 538.5,665C540.2,668.3 543.1,672.1 546,675C548.9,677.9 552.7,680 556,682.5C559.3,685 562.7,687.5 566,690C569.3,692.5 572.7,695.4 576,697.5C579.3,699.6 582.7,700.4 586,702.5C589.3,704.6 592.7,708.1 596,710C599.3,711.9 600.7,712.9 606,713.8C611.3,714.6 628,715 628,715L628,777L341.5,777L341.5,633Z" fill="#0ac83c" stroke="#0f8c8c" stroke-width="2.5"/><path d="M391,657.5C392.5,653.8 396,648.1 398.5,645C401,641.9 403.9,638.8 406,638.8C408.1,638.8 408.9,641.9 411,645C413.1,648.1 415.6,653.8 418.5,657.5C421.4,661.2 425.4,664.4 428.5,667.5C431.6,670.6 436.8,674 437.2,676.2C437.7,678.5 434.1,680.8 431,681.2C427.9,681.7 422.7,679 418.5,678.8C414.3,678.5 409.8,680.4 406,680C402.2,679.6 398.7,678.3 396,676.2C393.3,674.2 390.6,670.6 389.8,667.5C388.9,664.4 389.5,661.2 391,657.5Z" fill="#0f8c8c"/><path d="M399.8,665C400.5,662.5 402.7,660 404.8,658.8C406.8,657.5 410,656.9 412.2,657.5C414.5,658.1 417.1,660.2 418.5,662.5C419.9,664.8 421.1,668.5 420.5,671.2C419.9,674 417.2,677.4 414.8,678.8C412.3,680.1 408.4,680.3 406,679.5C403.6,678.7 401.5,676.2 400.5,673.8C399.5,671.3 399,667.5 399.8,665Z" fill="#1e5af5"/><path d="M433.5,623C433.5,623.6 433.2,624.3 432.8,624.8C432.4,625.2 431.6,625.7 430.9,625.9C430.2,626 429.3,626 428.6,625.9C427.9,625.7 427.1,625.2 426.7,624.8C426.3,624.3 426,623.6 426,623C426,622.4 426.3,621.7 426.7,621.2C427.1,620.8 427.9,620.3 428.6,620.1C429.3,620 430.2,620 430.9,620.1C431.6,620.3 432.4,620.8 432.8,621.2C433.2,621.7 433.5,622.4 433.5,623Z" fill="#0f8c8c"/><path d="M456,624.5C456,625.1 455.6,625.8 455,626.3C454.5,626.7 453.5,627.2 452.5,627.4C451.6,627.5 450.4,627.5 449.5,627.4C448.5,627.2 447.5,626.7 447,626.3C446.4,625.8 446,625.1 446,624.5C446,623.9 446.4,623.2 447,622.7C447.5,622.3 448.5,621.8 449.5,621.6C450.4,621.5 451.6,621.5 452.5,621.6C453.5,621.8 454.5,622.3 455,622.7C455.6,623.2 456,623.9 456,624.5Z" fill="#0f8c8c"/><path d="M381,651.2C381,652 380.8,652.9 380.5,653.5C380.2,654 379.7,654.6 379.3,654.8C378.8,655 378.2,655 377.7,654.8C377.3,654.6 376.8,654 376.5,653.5C376.2,652.9 376,652 376,651.2C376,650.5 376.2,649.6 376.5,649C376.8,648.5 377.3,647.9 377.7,647.7C378.2,647.5 378.8,647.5 379.3,647.7C379.7,647.9 380.2,648.5 380.5,649C380.8,649.6 381,650.5 381,651.2Z" fill="#0f8c8c"/><path d="M416,700C416.4,698.1 422.2,697.1 426,696.2C429.8,695.4 435.4,694.4 438.5,695C441.6,695.6 443.9,697.5 444.8,700C445.6,702.5 445,707.5 443.5,710C442,712.5 438.5,714 436,715C433.5,716 430.6,717.5 428.5,716.2C426.4,715 425.6,710.2 423.5,707.5C421.4,704.8 415.6,701.9 416,700Z" fill="#0f8c8c"/><path d="M341.5,678.8C341.5,678.8 358.6,676.2 363.5,676.2C368.4,676.2 368.7,676.9 371,678.8C373.3,680.6 376.8,685 377.2,687.5C377.7,690 375.8,692.3 373.5,693.8C371.2,695.2 368.8,696 363.5,696.2C358.2,696.5 341.5,695 341.5,695L341.5,678.8Z" fill="#8cfa14"/><path d="M453.5,646.2C453.1,644.6 457.7,642.5 459.8,642.5C461.8,642.5 464.1,645 466,646.2C467.9,647.5 468.5,649.8 471,650C473.5,650.2 478.1,648.8 481,647.5C483.9,646.2 486,643.1 488.5,642.5C491,641.9 494.3,642.1 496,643.8C497.7,645.4 497.2,650.6 498.5,652.5C499.8,654.4 501.8,655.4 503.5,655C505.2,654.6 506.4,651.5 508.5,650C510.6,648.5 513.1,646.9 516,646.2C518.9,645.6 523.9,645.2 526,646.2C528.1,647.3 528.5,650.2 528.5,652.5C528.5,654.8 525.6,657.9 526,660C526.4,662.1 528.5,662.5 531,665C533.5,667.5 537.7,672.1 541,675C544.3,677.9 547.2,680 551,682.5C554.8,685 559.8,687.1 563.5,690C567.2,692.9 570.4,696.2 573.5,700C576.6,703.8 580.4,709.2 582.2,712.5C584.1,715.8 602.9,718.8 584.8,720C566.6,721.2 490.8,721.2 473.5,720C456.2,718.8 478.5,714.6 481,712.5C483.5,710.4 487,709.6 488.5,707.5C490,705.4 490.6,702.5 489.8,700C488.9,697.5 486.2,693.5 483.5,692.5C480.8,691.5 476.8,693.8 473.5,693.8C470.2,693.8 466.2,693.5 463.5,692.5C460.8,691.5 457.9,689.6 457.2,687.5C456.6,685.4 458.7,682.5 459.8,680C460.8,677.5 462.5,675.8 463.5,672.5C464.5,669.2 466.2,663.3 466,660C465.8,656.7 464.3,654.8 462.2,652.5C460.2,650.2 453.9,647.9 453.5,646.2Z" fill="#8cfa14"/><path d="M504.8,672.5C505.2,670.8 506.8,669 508.5,668.8C510.2,668.5 513.1,669.8 514.8,671.2C516.4,672.7 516.6,676 518.5,677.5C520.4,679 523.9,680.2 526,680C528.1,679.8 529.5,676.2 531,676.2C532.5,676.2 534.3,677.7 534.8,680C535.2,682.3 534.5,686.7 533.5,690C532.5,693.3 530.4,697.9 528.5,700C526.6,702.1 524.3,703.3 522.2,702.5C520.2,701.7 517.9,697.9 516,695C514.1,692.1 512.7,687.7 511,685C509.3,682.3 507,680.8 506,678.8C505,676.7 504.3,674.2 504.8,672.5Z" fill="#fffa00"/><path d="M548.5,687.5C549.5,685.8 551.6,684.8 553.5,685C555.4,685.2 557.7,686.7 559.8,688.8C561.8,690.8 563.7,694.4 566,697.5C568.3,700.6 571.2,704.4 573.5,707.5C575.8,710.6 578.5,714.2 579.8,716.2C581,718.3 585.8,719.4 581,720C576.2,720.6 556.4,722.5 551,720C545.6,717.5 549.1,709.2 548.5,705C547.9,700.8 547.2,697.9 547.2,695C547.2,692.1 547.5,689.2 548.5,687.5Z" fill="#fffa00"/><path d="M544.8,712.5C544.8,713.3 544.4,714.2 543.9,714.9C543.4,715.5 542.6,716.1 541.8,716.3C541,716.5 540,716.5 539.2,716.3C538.4,716.1 537.6,715.5 537.1,714.9C536.6,714.2 536.2,713.3 536.2,712.5C536.2,711.7 536.6,710.8 537.1,710.1C537.6,709.5 538.4,708.9 539.2,708.7C540,708.5 541,708.5 541.8,708.7C542.6,708.9 543.4,709.5 543.9,710.1C544.4,710.8 544.8,711.7 544.8,712.5Z" fill="#fffa00"/><path d="M575.8,713.8C575.8,714.3 575.5,715 575.1,715.5C574.7,716 574,716.4 573.3,716.6C572.7,716.8 571.8,716.8 571.2,716.6C570.5,716.4 569.8,716 569.4,715.5C569,715 568.8,714.3 568.8,713.8C568.8,713.2 569,712.5 569.4,712C569.8,711.5 570.5,711.1 571.2,710.9C571.8,710.7 572.7,710.7 573.3,710.9C574,711.1 574.7,711.5 575.1,712C575.5,712.5 575.8,713.2 575.8,713.8Z" fill="#ffbe0a"/><path d="M479.8,675C479.8,675.4 479.4,676 478.9,676.3C478.4,676.7 477.6,677 476.8,677.1C476,677.3 475,677.3 474.2,677.1C473.4,677 472.6,676.7 472.1,676.3C471.6,676 471.2,675.4 471.2,675C471.2,674.6 471.6,674 472.1,673.7C472.6,673.3 473.4,673 474.2,672.9C475,672.7 476,672.7 476.8,672.9C477.6,673 478.4,673.3 478.9,673.7C479.4,674 479.8,674.6 479.8,675Z" fill="#0ac83c"/><path d="M510.8,709C510.8,709.6 510.4,710.4 509.8,710.9C509.3,711.4 508.4,711.9 507.5,712.1C506.6,712.3 505.4,712.3 504.5,712.1C503.6,711.9 502.7,711.4 502.2,710.9C501.6,710.4 501.2,709.6 501.2,709C501.2,708.4 501.6,707.6 502.2,707.1C502.7,706.6 503.6,706.1 504.5,705.9C505.4,705.7 506.6,705.7 507.5,705.9C508.4,706.1 509.3,706.6 509.8,707.1C510.4,707.6 510.8,708.4 510.8,709Z" fill="#0ac83c"/><path d="M518.2,667.5C518.2,667.9 518.1,668.5 517.8,668.8C517.6,669.2 517.1,669.5 516.7,669.6C516.3,669.8 515.7,669.8 515.3,669.6C514.9,669.5 514.4,669.2 514.2,668.8C513.9,668.5 513.8,667.9 513.8,667.5C513.8,667.1 513.9,666.5 514.2,666.2C514.4,665.8 514.9,665.5 515.3,665.4C515.7,665.2 516.3,665.2 516.7,665.4C517.1,665.5 517.6,665.8 517.8,666.2C518.1,666.5 518.2,667.1 518.2,667.5Z" fill="#0ac83c"/></g><g clip-path="url(#c612_540_256)"><rect x="611" y="539" width="258" height="224" fill="#b4c6f9"/><path d="M644.5,598.8C645.3,597.4 649.5,594.9 652,594.5C654.5,594.1 657.2,595.1 659.5,596.2C661.8,597.4 664.6,599.5 665.8,601.2C666.9,603 667.3,606.8 666.5,607C665.7,607.2 663,603.3 660.8,602.5C658.5,601.7 655.5,602 653.2,602C651,602 648.5,603 647,602.5C645.5,602 643.7,600.1 644.5,598.8Z" fill="#ffffff"/><path d="M689.5,647.5C690.3,646.2 693.5,644.4 695.8,642.5C698,640.6 701,638.8 703.2,636.2C705.5,633.8 707.4,630.2 709.5,627.5C711.6,624.8 714.3,622.7 715.8,620C717.2,617.3 717,612.9 718.2,611.2C719.5,609.6 722,609.6 723.2,610C724.5,610.4 726,611.7 725.8,613.8C725.5,615.8 722.2,620.2 722,622.5C721.8,624.8 723.5,625.8 724.5,627.5C725.5,629.2 728,630.4 728.2,632.5C728.5,634.6 727.6,637.7 725.8,640C723.9,642.3 720.1,644.6 717,646.2C713.9,647.9 710.3,649.2 707,650C703.7,650.8 699.7,651.2 697,651.2C694.3,651.3 692,651.1 690.8,650.5C689.5,649.9 688.7,648.8 689.5,647.5Z" fill="#ffffff"/><path d="M633.2,586.2C633.2,586.7 633.1,587.3 632.9,587.7C632.7,588.1 632.4,588.5 632,588.6C631.7,588.8 631.3,588.8 631,588.6C630.6,588.5 630.3,588.1 630.1,587.7C629.9,587.3 629.8,586.7 629.8,586.2C629.8,585.8 629.9,585.2 630.1,584.8C630.3,584.4 630.6,584 631,583.9C631.3,583.7 631.7,583.7 632,583.9C632.4,584 632.7,584.4 632.9,584.8C633.1,585.2 633.2,585.8 633.2,586.2Z" fill="#ffffff"/><path d="M629,592C629,592.3 628.9,592.8 628.7,593C628.5,593.3 628.2,593.6 628,593.7C627.7,593.8 627.3,593.8 627,593.7C626.8,593.6 626.5,593.3 626.3,593C626.1,592.8 626,592.3 626,592C626,591.7 626.1,591.2 626.3,591C626.5,590.7 626.8,590.4 627,590.3C627.3,590.2 627.7,590.2 628,590.3C628.2,590.4 628.5,590.7 628.7,591C628.9,591.2 629,591.7 629,592Z" fill="#ffffff"/><path d="M622,599.5C622,599.8 621.9,600.1 621.8,600.4C621.6,600.6 621.4,600.8 621.1,600.9C620.9,601 620.6,601 620.4,600.9C620.1,600.8 619.9,600.6 619.7,600.4C619.6,600.1 619.5,599.8 619.5,599.5C619.5,599.2 619.6,598.9 619.7,598.6C619.9,598.4 620.1,598.2 620.4,598.1C620.6,598 620.9,598 621.1,598.1C621.4,598.2 621.6,598.4 621.8,598.6C621.9,598.9 622,599.2 622,599.5Z" fill="#ffffff"/><path d="M622,525.5C622,525.5 622.8,540.7 624.5,545C626.2,549.3 629.1,550 632,551.2C634.9,552.5 639.1,553.1 642,552.5C644.9,551.9 648,552 649.5,547.5C651,543 650.8,525.5 650.8,525.5L622,525.5Z" fill="#1e5af5"/><path d="M649.5,545C650.7,543 653.9,541.6 657,541.2C660.1,540.9 664.3,541.6 668.2,543C672.2,544.4 676.6,547.4 680.8,549.5C684.9,551.6 689.5,553.4 693.2,555.5C697,557.6 701.3,559.4 703.2,562C705.2,564.6 705.8,568.9 705,571.2C704.2,573.6 701.2,575.6 698.2,576.2C695.2,576.9 690.8,575.8 687,575C683.2,574.2 679.5,572.7 675.8,571.2C672,569.8 668,568.2 664.5,566.2C661,564.3 657.4,561.7 655,559.5C652.6,557.3 650.9,555.4 650,553C649.1,550.6 648.3,547 649.5,545Z" fill="#6e6ef5"/><path d="M652,547.5C652.8,546 654.5,544 657,543.8C659.5,543.5 663.2,544.8 667,546.2C670.8,547.7 675.3,550.4 679.5,552.5C683.7,554.6 688.5,556.9 692,558.8C695.5,560.6 699,561.9 700.8,563.8C702.5,565.6 703.1,568.3 702.5,570C701.9,571.7 699.6,573.3 697,573.8C694.4,574.2 690.3,573.3 687,572.5C683.7,571.7 680.5,570.2 677,568.8C673.5,567.3 669.1,565.6 665.8,563.8C662.4,561.9 659.2,559.4 657,557.5C654.8,555.6 653.3,554.2 652.5,552.5C651.7,550.8 651.2,549 652,547.5Z" fill="#1e5af5"/><path d="M660.8,551.2C662.2,550.8 666.4,551.5 669.5,552.5C672.6,553.5 676.6,555.6 679.5,557.5C682.4,559.4 686.2,562.1 687,563.8C687.8,565.4 686.6,567.3 684.5,567.5C682.4,567.7 677.6,566.2 674.5,565C671.4,563.8 668,561.6 665.8,560C663.5,558.4 661.6,557 660.8,555.5C659.9,554 659.3,551.8 660.8,551.2Z" fill="#0ac83c" stroke="#0f8c8c" stroke-width="2"/><path d="M669.5,579.5C669.5,580.3 669.1,581.3 668.4,582C667.7,582.7 666.6,583.3 665.5,583.5C664.5,583.8 663,583.8 662,583.5C660.9,583.3 659.8,582.7 659.1,582C658.4,581.3 658,580.3 658,579.5C658,578.7 658.4,577.7 659.1,577C659.8,576.3 660.9,575.7 662,575.5C663,575.2 664.5,575.2 665.5,575.5C666.6,575.7 667.7,576.3 668.4,577C669.1,577.7 669.5,578.7 669.5,579.5Z" fill="#6e6ef5"/><path d="M687,583.8C687.8,582.1 691.6,580.4 694.5,580C697.4,579.6 701.6,581.7 704.5,581.2C707.4,580.8 709.3,577.9 712,577.5C714.7,577.1 718.9,577.3 720.8,578.8C722.6,580.2 723.5,583.8 723.2,586.2C723,588.8 721.6,591.9 719.5,593.8C717.4,595.6 713.2,597.5 710.8,597.5C708.2,597.5 706.8,594.8 704.5,593.8C702.2,592.7 699.5,591.9 697,591.2C694.5,590.6 691.2,591.2 689.5,590C687.8,588.8 686.2,585.4 687,583.8Z" fill="#6e6ef5"/><path d="M682,525.5C682,525.5 684.1,541.8 687,546.2C689.9,550.8 694.5,550.8 699.5,552.5C704.5,554.2 711.6,555.3 717,556.2C722.4,557.2 726.8,558.1 732,558C737.2,557.9 743.7,556.8 748.2,555.5C752.8,554.2 756.8,555 759.5,550C762.2,545 764.5,525.5 764.5,525.5L682,525.5Z" fill="#1e5af5"/><path d="M687,525.5C687,525.5 689.5,540.9 692,545C694.5,549.1 697.8,548.5 702,550C706.2,551.5 712,552.9 717,553.8C722,554.6 727,555.2 732,555C737,554.8 742.8,553.8 747,552.5C751.2,551.2 754.5,552 757,547.5C759.5,543 762,525.5 762,525.5L687,525.5Z" fill="#0ac83c" stroke="#0f8c8c" stroke-width="2"/><path d="M707,525.5C707,525.5 709.1,541.1 712,545C714.9,548.9 720.3,547.9 724.5,548.8C728.7,549.6 733.2,550.4 737,550C740.8,549.6 744.9,550.3 747,546.2C749.1,542.2 749.5,525.5 749.5,525.5L707,525.5Z" fill="#8cfa14"/><path d="M729.5,525.5C729.5,525.5 730.3,540.1 732,543.8C733.7,547.4 737,547.3 739.5,547.5C742,547.7 745.5,548.7 747,545C748.5,541.3 748.2,525.5 748.2,525.5L729.5,525.5Z" fill="#fffa00"/><path d="M737,525.5C737,525.5 737,539.2 738.2,542C739.5,544.8 743.2,544.8 744.5,542C745.8,539.2 745.8,525.5 745.8,525.5L737,525.5Z" fill="#ffbe0a"/><path d="M758.2,640.5C758.2,641.6 758.1,642.9 757.8,643.7C757.6,644.6 757.1,645.4 756.7,645.7C756.3,646.1 755.7,646.1 755.3,645.7C754.9,645.4 754.4,644.6 754.2,643.7C753.9,642.9 753.8,641.6 753.8,640.5C753.8,639.4 753.9,638.1 754.2,637.3C754.4,636.4 754.9,635.6 755.3,635.3C755.7,634.9 756.3,634.9 756.7,635.3C757.1,635.6 757.6,636.4 757.8,637.3C758.1,638.1 758.2,639.4 758.2,640.5Z" fill="#6e6ef5"/><path d="M597.5,653C597.5,653 616.2,655.1 622,656.2C627.8,657.4 628.7,659 632,660C635.3,661 638.2,661.2 642,662.5C645.8,663.8 650.8,666.2 654.5,667.5C658.2,668.8 661.6,668.8 664.5,670C667.4,671.2 669.1,674.4 672,675C674.9,675.6 678.2,674.4 682,673.8C685.8,673.1 690.3,671.9 694.5,671.2C698.7,670.6 702.8,670.4 707,670C711.2,669.6 715.3,669.6 719.5,668.8C723.7,667.9 728.2,666.5 732,665C735.8,663.5 739.1,661.9 742,660C744.9,658.1 747.4,654.6 749.5,653.8C751.6,652.9 752.8,653.8 754.5,655C756.2,656.2 757.4,660 759.5,661.2C761.6,662.5 764.1,662.5 767,662.5C769.9,662.5 773.7,661.7 777,661.2C780.3,660.8 783.7,659.8 787,660C790.3,660.2 794.5,662.9 797,662.5C799.5,662.1 802.4,659.6 802,657.5C801.6,655.4 795.3,652.5 794.5,650C793.7,647.5 795.3,644.4 797,642.5C798.7,640.6 802.4,640.4 804.5,638.8C806.6,637.1 809.5,634.8 809.5,632.5C809.5,630.2 804.5,627.1 804.5,625C804.5,622.9 807,620.4 809.5,620C812,619.6 816.2,621.5 819.5,622.5C822.8,623.5 826.2,625.4 829.5,626.2C832.8,627.1 836.6,627.5 839.5,627.5C842.4,627.5 839.6,626.5 847,626.2C854.4,626 884,626.2 884,626.2L884,777L597.5,777L597.5,653Z" fill="#6e6ef5"/><path d="M597.5,664.2C597.5,664.2 617.9,666.5 624.5,667.5C631.1,668.5 632.8,669.2 637,670C641.2,670.8 645.3,671.5 649.5,672.5C653.7,673.5 658.2,675 662,676.2C665.8,677.5 668.2,679.8 672,680C675.8,680.2 680.3,678.1 684.5,677.5C688.7,676.9 692.4,676.7 697,676.2C701.6,675.8 707.4,675.4 712,675C716.6,674.6 720.3,674.6 724.5,673.8C728.7,672.9 733.2,671.5 737,670C740.8,668.5 744.1,666 747,665C749.9,664 752,663.5 754.5,663.8C757,664 759.1,665.2 762,666.2C764.9,667.3 768.7,669.2 772,670C775.3,670.8 778.7,670.4 782,671.2C785.3,672.1 788.7,674.2 792,675C795.3,675.8 798.7,676.7 802,676.2C805.3,675.8 809.1,674.4 812,672.5C814.9,670.6 817.4,667.9 819.5,665C821.6,662.1 822.4,657.9 824.5,655C826.6,652.1 829.5,650 832,647.5C834.5,645 837,642.1 839.5,640C842,637.9 844.1,636.2 847,635C849.9,633.8 850.8,633.1 857,632.5C863.2,631.9 884,631.2 884,631.2L884,777L597.5,777L597.5,664.2Z" fill="#1e5af5"/><path d="M619.5,720C592.8,718.3 624.1,712.9 627,710C629.9,707.1 632.8,704.8 637,702.5C641.2,700.2 647,698.3 652,696.2C657,694.2 662,692.1 667,690C672,687.9 677,685.4 682,683.8C687,682.1 691.2,680.8 697,680C702.8,679.2 710.3,679 717,678.8C723.7,678.5 731.2,678.1 737,678.8C742.8,679.4 748.2,680.6 752,682.5C755.8,684.4 758.2,687.1 759.5,690C760.8,692.9 760.8,697.3 759.5,700C758.2,702.7 751.6,704.2 752,706.2C752.4,708.3 757.8,710.8 762,712.5C766.2,714.2 772.8,715 777,716.2C781.2,717.5 813.2,719.4 787,720C760.8,720.6 646.2,721.7 619.5,720Z" fill="#0f8c8c"/><path d="M629.5,720C609.5,717.5 637.4,708.3 642,705C646.6,701.7 652,701.7 657,700C662,698.3 667.4,697.1 672,695C676.6,692.9 680.3,689.4 684.5,687.5C688.7,685.6 692.4,684.6 697,683.8C701.6,682.9 707,682.9 712,682.5C717,682.1 722,681.2 727,681.2C732,681.2 737.8,681.5 742,682.5C746.2,683.5 749.5,685.4 752,687.5C754.5,689.6 757,692.5 757,695C757,697.5 754.5,700.8 752,702.5C749.5,704.2 744.5,703.8 742,705C739.5,706.2 736.2,708.3 737,710C737.8,711.7 742.8,713.3 747,715C751.2,716.7 781.6,719.2 762,720C742.4,720.8 649.5,722.5 629.5,720Z" fill="#0ac83c"/><path d="M659.5,690C659.5,691.1 658.3,692.4 656.4,693.2C654.5,694.1 651.3,694.9 648.3,695.2C645.2,695.6 641.3,695.6 638.2,695.2C635.2,694.9 632,694.1 630.1,693.2C628.2,692.4 627,691.1 627,690C627,688.9 628.2,687.6 630.1,686.8C632,685.9 635.2,685.1 638.2,684.8C641.3,684.4 645.2,684.4 648.3,684.8C651.3,685.1 654.5,685.9 656.4,686.8C658.3,687.6 659.5,688.9 659.5,690Z" fill="#0f8c8c"/><path d="M669.5,720C662.6,718.8 675.8,714.4 679.5,712.5C683.2,710.6 687.8,709.6 692,708.8C696.2,707.9 700.3,707.3 704.5,707.5C708.7,707.7 714.3,707.9 717,710C719.7,712.1 728.7,718.3 720.8,720C712.8,721.7 676.4,721.2 669.5,720Z" fill="#8cfa14"/><path d="M774.5,695C775.5,692.9 779.1,691.3 782,690C784.9,688.7 789.1,687.2 792,687C794.9,686.8 798.5,687.2 799.5,688.8C800.5,690.3 799.5,694.2 798.2,696.2C797,698.3 794.7,699.8 792,701.2C789.3,702.7 784.7,704.8 782,705C779.3,705.2 777,704.2 775.8,702.5C774.5,700.8 773.5,697.1 774.5,695Z" fill="#6e6ef5"/><path d="M815.8,691.2C815.8,692 815.4,692.9 814.8,693.5C814.2,694 813.2,694.6 812.3,694.8C811.4,695 810.1,695 809.2,694.8C808.3,694.6 807.3,694 806.7,693.5C806.1,692.9 805.8,692 805.8,691.2C805.8,690.5 806.1,689.6 806.7,689C807.3,688.5 808.3,687.9 809.2,687.7C810.1,687.5 811.4,687.5 812.3,687.7C813.2,687.9 814.2,688.5 814.8,689C815.4,689.6 815.8,690.5 815.8,691.2Z" fill="#6e6ef5"/><path d="M825.8,705C826.7,702.7 829.3,699 832,697.5C834.7,696 839.3,695.6 842,696.2C844.7,696.9 847,699 848.2,701.2C849.5,703.5 849.9,706.9 849.5,710C849.1,713.1 849.1,718.3 845.8,720C842.4,721.7 832.7,721.5 829.5,720C826.3,718.5 827.1,713.8 826.5,711.2C825.9,708.8 824.8,707.3 825.8,705Z" fill="#6e6ef5"/><path d="M849.5,678C849.5,679.3 848.7,680.8 847.6,681.8C846.4,682.9 844.5,683.8 842.6,684.2C840.7,684.6 838.3,684.6 836.4,684.2C834.5,683.8 832.6,682.9 831.4,681.8C830.3,680.8 829.5,679.3 829.5,678C829.5,676.7 830.3,675.2 831.4,674.2C832.6,673.1 834.5,672.2 836.4,671.8C838.3,671.4 840.7,671.4 842.6,671.8C844.5,672.2 846.4,673.1 847.6,674.2C848.7,675.2 849.5,676.7 849.5,678Z" fill="#0f8c8c"/><path d="M882.8,676.2L881.3,681.4C881.3,681.4 869,684 865.6,684.6C862.2,685.1 862.3,685.1 860.9,684.6C859.5,684 858,682.8 857.2,681.4C856.3,680 855.8,678 855.8,676.2C855.8,674.5 856.3,672.5 857.2,671.1C858,669.7 859.5,668.5 860.9,667.9C862.3,667.4 862.2,667.4 865.6,667.9C869,668.5 881.3,671.1 881.3,671.1L882.8,676.2Z" fill="#0f8c8c"/><path d="M629.5,705C629.5,705.4 629.3,705.9 629,706.2C628.7,706.5 628.2,706.8 627.8,706.9C627.3,707 626.7,707 626.2,706.9C625.8,706.8 625.3,706.5 625,706.2C624.7,705.9 624.5,705.4 624.5,705C624.5,704.6 624.7,704.1 625,703.8C625.3,703.5 625.8,703.2 626.2,703.1C626.7,703 627.3,703 627.8,703.1C628.2,703.2 628.7,703.5 629,703.8C629.3,704.1 629.5,704.6 629.5,705Z" fill="#1e5af5"/></g><g clip-path="url(#c740_540_128)"><rect x="739" y="539" width="130" height="113" fill="#b4c6f9"/><path d="M747.5,555C747.3,553.6 750.4,551.8 752.5,550.6C754.6,549.5 757.5,548.9 760,548.1C762.5,547.4 765,547.2 767.5,546.2C770,545.3 772.7,545.8 775,542.5C777.3,539.2 781.2,526.8 781.2,526.8L882,526.8L882,664.5L793.8,664.5C793.8,664.5 794.8,650.1 796.2,646.2C797.7,642.4 800.1,642.5 802.5,641.2C804.9,640 809.7,640 810.6,638.8C811.6,637.5 809.2,635.5 808.1,633.8C807.1,632 804.8,629.9 804.4,628.1C804,626.4 804.7,624.4 805.6,623.1C806.6,621.9 809.9,621.8 810,620.6C810.1,619.5 807.7,617.5 806.2,616.2C804.8,615 803.1,614.5 801.2,613.1C799.4,611.8 796.9,609.4 795,608.1C793.1,606.9 791.6,605.3 790,605.6C788.4,605.9 787.2,608.6 785.6,610C784.1,611.4 782.5,613.6 780.6,613.8C778.8,613.9 776.3,612 774.4,610.6C772.4,609.3 769.7,607.6 769,605.6C768.3,603.6 770.2,600.9 770,598.8C769.8,596.6 767.6,594.3 767.5,592.5C767.4,590.7 768.4,589.6 769.4,588.1C770.3,586.7 772.8,585.5 773.1,583.8C773.4,582 772.3,579.4 771.2,577.5C770.2,575.6 768.3,574.1 766.9,572.5C765.4,570.9 763.9,569.8 762.5,568.1C761.1,566.5 760.2,564.1 758.8,562.5C757.3,560.9 755.6,560 753.8,558.8C751.9,557.5 747.7,556.4 747.5,555Z" fill="#6e6ef5"/><path d="M811.9,621.2C812.6,620.4 815.3,619.8 817.5,620C819.7,620.2 822.5,622 825,622.5C827.5,623 830,622.9 832.5,623.1C835,623.3 837.9,623.2 840,623.8C842.1,624.3 844.4,625 845,626.2C845.6,627.5 844.8,629.8 843.8,631.2C842.7,632.7 840.6,634 838.8,635C836.9,636 834.4,637.3 832.5,637.5C830.6,637.7 829.2,637 827.5,636.2C825.8,635.5 824.2,634.4 822.5,633.1C820.8,631.9 819.1,630.1 817.5,628.8C815.9,627.4 814.1,626.2 813.1,625C812.2,623.8 811.1,622.1 811.9,621.2Z" fill="#b4c6f9"/><path d="M763.8,550C764.7,547.9 766.7,546.4 768.8,545C770.8,543.6 774,544.9 776.2,541.9C778.5,538.8 782.5,526.8 782.5,526.8L882,526.8L882,587.5C882,587.5 868,587.9 865,588.8C862,589.6 863.8,590.8 863.8,592.5C863.8,594.2 864.6,596.5 865,598.8C865.4,601 866.5,603.5 866.2,606.2C866,609 864.8,612.7 863.8,615C862.7,617.3 860.2,618.1 860,620C859.8,621.9 861.5,624.6 862.5,626.2C863.5,627.9 863,629.2 866.2,630C869.5,630.8 882,631.2 882,631.2L882,664.5L841.2,664.5C841.2,664.5 842.5,650.3 843.8,646.2C845,642.2 847.3,641.9 848.8,640C850.2,638.1 852.3,636.5 852.5,635C852.7,633.5 851,632.5 850,631.2C849,630 848.1,629.4 846.2,627.5C844.4,625.6 841.5,621.5 838.8,620C836,618.5 833.1,619.2 830,618.8C826.9,618.3 822.9,618.1 820,617.5C817.1,616.9 814.8,616 812.5,615C810.2,614 808.3,612.7 806.2,611.2C804.2,609.8 801.9,607.5 800,606.2C798.1,605 796.7,604.6 795,603.8C793.3,602.9 791.7,602.3 790,601.2C788.3,600.2 786.7,599.2 785,597.5C783.3,595.8 781.5,593.3 780,591.2C778.5,589.2 777.3,587.3 776.2,585C775.2,582.7 774.8,579.8 773.8,577.5C772.7,575.2 771.5,573.3 770,571.2C768.5,569.2 766.1,567.3 765,565C763.9,562.7 763.3,560 763.1,557.5C762.9,555 762.8,552.1 763.8,550Z" fill="#1e5af5"/><path d="M810,590C810,588.9 811.9,587.2 813.8,586.9C815.6,586.6 818.5,587.6 821.2,588.1C824,588.6 827.7,589.5 830,590C832.3,590.5 832.7,591.1 835,591.2C837.3,591.4 840.8,590.8 843.8,590.6C846.7,590.4 849.8,590 852.5,590C855.2,590 857.9,589.8 860,590.6C862.1,591.5 864.1,593 865,595C865.9,597 865.9,600 865.6,602.5C865.3,605 864.3,607.8 863.1,610C862,612.2 860.5,614.6 858.8,615.6C857,616.7 854.2,616.9 852.5,616.2C850.8,615.6 850,613.4 848.8,611.9C847.5,610.3 846.5,608.1 845,606.9C843.5,605.6 841.9,605.2 840,604.4C838.1,603.5 835.6,602.7 833.8,601.9C831.9,601 830,599.9 828.8,599.4C827.5,598.9 827.7,599.3 826.2,598.8C824.8,598.2 822.1,597.1 820,596.2C817.9,595.4 815.4,594.8 813.8,593.8C812.1,592.7 810,591.1 810,590Z" fill="#6e6ef5"/><path d="M830,595C830.7,594.2 832.9,593.5 835,593.1C837.1,592.7 839.8,592.7 842.5,592.5C845.2,592.3 848.5,591.9 851.2,591.9C854,591.9 856.8,591.8 858.8,592.5C860.7,593.2 862.3,594.6 863.1,596.2C864,597.9 864.1,600.4 863.8,602.5C863.4,604.6 862.3,606.9 861.2,608.8C860.2,610.6 858.8,612.8 857.5,613.8C856.2,614.7 855,615 853.8,614.4C852.5,613.8 851.2,611.6 850,610C848.8,608.4 847.7,606.2 846.2,605C844.8,603.8 843.1,603.3 841.2,602.5C839.4,601.7 836.8,600.7 835,600C833.2,599.3 831.5,599 830.6,598.1C829.8,597.3 829.3,595.8 830,595Z" fill="#b4c6f9"/><path d="M866.2,555.6C866.2,556.1 865.8,556.6 865.2,556.9C864.5,557.3 863.4,557.6 862.4,557.8C861.3,557.9 859.9,557.9 858.9,557.8C857.8,557.6 856.7,557.3 856.1,556.9C855.4,556.6 855,556.1 855,555.6C855,555.2 855.4,554.7 856.1,554.3C856.7,553.9 857.8,553.6 858.9,553.5C859.9,553.3 861.3,553.3 862.4,553.5C863.4,553.6 864.5,553.9 865.2,554.3C865.8,554.7 866.2,555.2 866.2,555.6Z" fill="#6e6ef5"/><path d="M756.2,543.8C756.9,542.8 762.3,544.1 765,541.2C767.7,538.4 772.5,526.8 772.5,526.8L843.8,526.8C843.8,526.8 847.3,540.7 848.8,545C850.2,549.3 851.5,549.6 852.5,552.5C853.5,555.4 854.5,559.4 855,562.5C855.5,565.6 856,568.8 855.6,571.2C855.2,573.8 854.1,575.8 852.5,577.5C850.9,579.2 848.5,580.3 846.2,581.2C844,582.2 841.5,582.7 838.8,583.1C836,583.5 832.9,583.8 830,583.8C827.1,583.8 823.8,583.5 821.2,583.1C818.8,582.7 816.9,582.2 815,581.2C813.1,580.3 811.2,579.2 810,577.5C808.8,575.8 808.1,573.1 807.5,571.2C806.9,569.4 807.5,567.7 806.2,566.2C805,564.8 802.1,563.8 800,562.5C797.9,561.2 795.8,560 793.8,558.8C791.7,557.5 789.6,556 787.5,555C785.4,554 783.3,553.5 781.2,552.5C779.2,551.5 777.3,549.6 775,548.8C772.7,547.9 769.8,547.8 767.5,547.5C765.2,547.2 763.1,547.5 761.2,546.9C759.4,546.2 755.6,544.7 756.2,543.8Z" fill="#0ac83c" stroke="#0f8c8c" stroke-width="2.2"/><path d="M782.5,552.5C783.5,551.5 787.5,550.2 790,550C792.5,549.8 795.4,550.2 797.5,551.2C799.6,552.3 801.2,554.4 802.5,556.2C803.8,558.1 805.4,561 805,562.5C804.6,564 801.9,564.8 800,565C798.1,565.2 795.8,564.6 793.8,563.8C791.7,562.9 789.2,561.2 787.5,560C785.8,558.8 784.6,557.5 783.8,556.2C782.9,555 781.5,553.5 782.5,552.5Z" fill="#0f8c8c"/><path d="M790,566.2C790.5,564.8 791.9,564.1 793.8,563.8C795.6,563.4 799.3,563.9 801.2,564.4C803.2,564.9 805,565.5 805.6,566.9C806.2,568.2 805.7,570.9 805,572.5C804.3,574.1 802.9,575.6 801.2,576.2C799.6,576.9 796.8,576.9 795,576.2C793.2,575.6 791.5,574.2 790.6,572.5C789.8,570.8 789.5,567.7 790,566.2Z" fill="#1e5af5"/><path d="M784,562.5C784,563.2 783.6,564 783,564.6C782.4,565.1 781.4,565.6 780.4,565.8C779.4,566 778.1,566 777.1,565.8C776.1,565.6 775.1,565.1 774.5,564.6C773.9,564 773.5,563.2 773.5,562.5C773.5,561.8 773.9,561 774.5,560.4C775.1,559.9 776.1,559.4 777.1,559.2C778.1,559 779.4,559 780.4,559.2C781.4,559.4 782.4,559.9 783,560.4C783.6,561 784,561.8 784,562.5Z" fill="#0ac83c" stroke="#0f8c8c" stroke-width="2"/><path d="M834.1,556.9C834.1,558 833.8,559.3 833.2,560.2C832.7,561.1 831.7,561.9 830.8,562.2C830,562.6 828.8,562.6 827.9,562.2C827,561.9 826.1,561.1 825.5,560.2C825,559.3 824.6,558 824.6,556.9C824.6,555.8 825,554.5 825.5,553.6C826.1,552.7 827,551.9 827.9,551.5C828.8,551.2 830,551.2 830.8,551.5C831.7,551.9 832.7,552.7 833.2,553.6C833.8,554.5 834.1,555.8 834.1,556.9Z" fill="#0f8c8c"/><path d="M782.5,581.2C783.1,580.1 784.6,578.8 786.2,578.1C787.9,577.5 790.7,577.2 792.5,577.5C794.3,577.8 796.2,578.5 796.9,580C797.5,581.5 795.9,584.2 796.2,586.2C796.6,588.3 797.7,590.8 798.8,592.5C799.8,594.2 801,595.8 802.5,596.2C804,596.7 806.8,596 807.5,595C808.2,594 806.7,591.4 806.9,590C807.1,588.6 807.8,587.2 808.8,586.9C809.7,586.6 811.5,587.2 812.5,588.1C813.5,589.1 813.8,591.1 815,592.5C816.2,593.9 818.3,595 820,596.2C821.7,597.5 823.8,598.5 825,600C826.2,601.5 827,603.3 827.5,605C828,606.7 828.5,608.5 828.1,610C827.7,611.5 826.6,613.2 825,613.8C823.4,614.3 820.8,613.8 818.8,613.1C816.7,612.5 814.6,611.1 812.5,610C810.4,608.9 808.3,607.6 806.2,606.2C804.2,604.9 801.9,603.2 800,601.9C798.1,600.5 796.7,599.4 795,598.1C793.3,596.9 791.7,595.8 790,594.4C788.3,592.9 786.2,590.9 785,589.4C783.8,587.8 782.9,586.4 782.5,585C782.1,583.6 781.9,582.4 782.5,581.2Z" fill="#0ac83c" stroke="#0f8c8c" stroke-width="2.2"/><path d="M813.1,571.2C813.3,570.2 813.9,568.6 815,568.1C816.1,567.6 818.1,567.6 820,568.1C821.9,568.6 824.6,570.1 826.2,571.2C827.9,572.4 829.5,573.6 830,575C830.5,576.4 830,578.2 829.4,579.4C828.8,580.5 827.6,581.7 826.2,581.9C824.9,582.1 822.9,581.4 821.2,580.6C819.6,579.9 817.5,578.5 816.2,577.5C815,576.5 814.3,575.4 813.8,574.4C813.2,573.3 812.9,572.3 813.1,571.2Z" fill="#8cfa14"/><path d="M777.5,526.8C777.5,526.8 777.9,538.1 780,540.6C782.1,543.1 786.7,541.4 790,541.9C793.3,542.4 797.1,543.3 800,543.8C802.9,544.2 805.4,544.7 807.5,544.4C809.6,544.1 811.2,544.8 812.5,541.9C813.8,538.9 815,526.8 815,526.8L777.5,526.8Z" fill="#8cfa14"/><path d="M726.8,526.8L763.8,526.8C763.8,526.8 762.5,543 761.2,547.5C760,552 758.5,552.2 756.2,553.8C754,555.3 752.4,556.2 747.5,556.9C742.6,557.5 726.8,557.5 726.8,557.5L726.8,526.8Z" fill="#0ac83c" stroke="#0f8c8c" stroke-width="2.2"/><path d="M726.8,526.8L758.8,526.8C758.8,526.8 758.5,541.3 757.5,545C756.5,548.7 754.4,547.8 752.5,548.8C750.6,549.7 750.5,550.2 746.2,550.6C742,551 726.8,551.2 726.8,551.2L726.8,526.8Z" fill="#8cfa14"/><path d="M726.8,526.8L749.4,526.8C749.4,526.8 749,539.5 748.1,542.5C747.3,545.5 747.9,544.4 744.4,545C740.8,545.6 726.8,546 726.8,546L726.8,526.8Z" fill="#fffa00"/><path d="M758.6,641.2C758.6,642.5 758.5,643.9 758.3,644.9C758.1,645.9 757.7,646.8 757.4,647.2C757.1,647.6 756.7,647.6 756.3,647.2C756,646.8 755.7,645.9 755.5,644.9C755.3,643.9 755.1,642.5 755.1,641.2C755.1,640 755.3,638.6 755.5,637.6C755.7,636.6 756,635.7 756.3,635.3C756.7,634.9 757.1,634.9 757.4,635.3C757.7,635.7 758.1,636.6 758.3,637.6C758.5,638.6 758.6,640 758.6,641.2Z" fill="#6e6ef5"/><path d="M880.8,643.8C880.8,643.8 870.1,645.9 867.2,646.7C864.3,647.5 864.6,648.2 863.1,648.5C861.6,648.8 859.6,648.8 858.1,648.5C856.6,648.2 855,647.5 854.1,646.7C853.1,645.9 852.5,644.7 852.5,643.8C852.5,642.8 853.1,641.6 854.1,640.8C855,640 856.6,639.3 858.1,639C859.6,638.7 861.6,638.7 863.1,639C864.6,639.3 864.3,640 867.2,640.8C870.1,641.6 880.8,643.8 880.8,643.8Z" fill="#0f8c8c"/><path d="M866.9,644.4C866.9,644.9 866.5,645.6 865.9,646C865.3,646.4 864.4,646.8 863.4,647C862.5,647.2 861.3,647.2 860.3,647C859.4,646.8 858.4,646.4 857.8,646C857.3,645.6 856.9,644.9 856.9,644.4C856.9,643.8 857.3,643.2 857.8,642.8C858.4,642.3 859.4,641.9 860.3,641.8C861.3,641.6 862.5,641.6 863.4,641.8C864.4,641.9 865.3,642.3 865.9,642.8C866.5,643.2 866.9,643.8 866.9,644.4Z" fill="#0ac83c"/><path d="M827.5,643.5C827.5,643.8 827.3,644.1 827,644.4C826.7,644.6 826.2,644.8 825.8,644.9C825.3,645 824.7,645 824.2,644.9C823.8,644.8 823.3,644.6 823,644.4C822.7,644.1 822.5,643.8 822.5,643.5C822.5,643.2 822.7,642.9 823,642.6C823.3,642.4 823.8,642.2 824.2,642.1C824.7,642 825.3,642 825.8,642.1C826.2,642.2 826.7,642.4 827,642.6C827.3,642.9 827.5,643.2 827.5,643.5Z" fill="#1e5af5"/><path d="M882,566.9C882,566.9 868.6,568.1 865,569.4C861.4,570.6 861.7,572.6 860.6,574.4C859.6,576.1 858.9,578.3 858.8,580C858.6,581.7 859,583.4 860,584.4C861,585.3 861.3,585.5 865,585.6C868.7,585.7 882,585 882,585L882,566.9Z" fill="#0ac83c" stroke="#0f8c8c" stroke-width="2.2"/></g><g clip-path="url(#c868_540_128)"><rect x="867" y="539" width="130" height="113" fill="#0ac83c"/><path d="M854.8,526.8L880.5,526.8C880.5,526.8 879,540.7 878,545C877,549.3 875.5,550 874.2,552.5C873,555 871.5,557.9 870.5,560C869.5,562.1 870.6,564 868,565C865.4,566 854.8,566.2 854.8,566.2L854.8,526.8Z" fill="#1e5af5" stroke="#0f8c8c" stroke-width="2.5"/><path d="M854.8,593.8C854.8,593.8 866.8,596.7 869.9,598.8C872.9,600.8 872.1,603.8 873,606.2C873.9,608.8 874.5,611.2 875.5,613.8C876.5,616.2 877.6,618.8 879.2,621.2C880.9,623.8 883.4,626.7 885.5,628.8C887.6,630.8 889.7,632.5 891.8,633.8C893.8,635 897.8,635.4 898,636.2C898.2,637.1 895.3,638.3 893,638.8C890.7,639.2 887.2,639 884.2,638.8C881.3,638.5 880.4,637.9 875.5,637.5C870.6,637.1 854.8,636.2 854.8,636.2L854.8,593.8Z" fill="#1e5af5" stroke="#0f8c8c" stroke-width="2.5"/><path d="M880.5,617.5C880.7,616.7 884.9,616.2 888,616.2C891.1,616.2 896.1,616.9 899.2,617.5C902.4,618.1 905.1,618.5 906.8,620C908.4,621.5 909.7,624.6 909.2,626.2C908.8,627.9 906.1,629.8 904.2,630C902.4,630.2 899.9,628.8 898,627.5C896.1,626.2 894.9,623.5 893,622.5C891.1,621.5 888.8,622.1 886.8,621.2C884.7,620.4 880.3,618.3 880.5,617.5Z" fill="#0f8c8c"/><path d="M884.2,610C884.8,608.8 886.1,606.6 888,605.6C889.9,604.7 892.8,604.7 895.5,604.4C898.2,604.1 902,603.3 904.2,603.8C906.5,604.2 908.5,605.4 909.2,606.9C910,608.3 909.7,611 908.6,612.5C907.6,614 905.2,615 903,615.6C900.8,616.2 898,616.4 895.5,616.2C893,616.1 889.8,615.5 888,615C886.2,614.5 885.5,614 884.9,613.1C884.2,612.3 883.7,611.2 884.2,610Z" fill="#1e5af5" stroke="#0f8c8c" stroke-width="2.2"/><path d="M935.5,637.5C936.8,635.2 940.1,632.7 943,631.2C945.9,629.8 949.7,629.1 953,628.8C956.3,628.4 959.9,628.8 963,629.4C966.1,630 969.2,631.8 971.8,632.5C974.2,633.2 977,628.4 978,633.8C979,639.1 978,664.5 978,664.5L938,664.5C938,664.5 935.9,649.5 935.5,645C935.1,640.5 934.2,639.8 935.5,637.5Z" fill="#0f8c8c"/><path d="M941.8,636.2C942.8,634.3 945.3,633.8 948,633.1C950.7,632.5 954.9,632.2 958,632.5C961.1,632.8 964,634.2 966.8,635C969.5,635.8 972.6,637.1 974.5,637.5C976.4,637.9 977.4,633 978,637.5C978.6,642 978,664.5 978,664.5L944.2,664.5C944.2,664.5 942.2,649.7 941.8,645C941.3,640.3 940.7,638.2 941.8,636.2Z" fill="#1e5af5"/><path d="M958,650C958,652.4 957.2,663.3 957.2,663.3L955,664.1L952.3,664.1L950.1,663.3C950.1,663.3 949.2,652.4 949.2,650C949.2,647.6 949.6,649 950.1,648.7C950.6,648.3 951.5,648 952.3,647.9C953.1,647.7 954.2,647.7 955,647.9C955.8,648 956.7,648.3 957.2,648.7C957.7,649 958,647.6 958,650Z" fill="#6e6ef5"/><path d="M931.1,628.1C931.1,629.1 930.7,630.3 930.1,631.1C929.4,631.9 928.3,632.6 927.2,632.9C926.2,633.2 924.8,633.2 923.8,632.9C922.7,632.6 921.6,631.9 920.9,631.1C920.3,630.3 919.9,629.1 919.9,628.1C919.9,627.1 920.3,626 920.9,625.2C921.6,624.4 922.7,623.7 923.8,623.4C924.8,623.1 926.2,623.1 927.2,623.4C928.3,623.7 929.4,624.4 930.1,625.2C930.7,626 931.1,627.1 931.1,628.1Z" fill="#0f8c8c"/><path d="M928.8,628.5C928.8,629.1 928.5,629.8 928.1,630.3C927.7,630.8 927,631.3 926.3,631.5C925.7,631.7 924.8,631.7 924.2,631.5C923.5,631.3 922.8,630.8 922.4,630.3C922,629.8 921.8,629.1 921.8,628.5C921.8,627.9 922,627.2 922.4,626.7C922.8,626.2 923.5,625.7 924.2,625.5C924.8,625.3 925.7,625.3 926.3,625.5C927,625.7 927.7,626.2 928.1,626.7C928.5,627.2 928.8,627.9 928.8,628.5Z" fill="#1e5af5"/><path d="M883,526.8C883,526.8 882.6,542.6 881.8,547.5C880.9,552.4 879.2,553.3 878,556.2C876.8,559.2 875.2,562.1 874.2,565C873.3,567.9 872.6,570.8 872.4,573.8C872.2,576.7 872.5,579.6 873,582.5C873.5,585.4 874.5,588.8 875.5,591.2C876.5,593.8 877.8,596.1 879.2,597.5C880.7,598.9 882.4,599.4 884.2,599.4C886.1,599.4 888.4,598.4 890.5,597.5C892.6,596.6 894.5,594.6 896.8,593.8C899,592.9 901.8,592.9 904.2,592.5C906.8,592.1 909.7,592.3 911.8,591.2C913.8,590.2 915.5,588.1 916.8,586.2C918,584.4 918.4,581.7 919.2,580C920.1,578.3 920.3,577.3 921.8,576.2C923.2,575.2 925.7,574.6 928,573.8C930.3,572.9 933,572.3 935.5,571.2C938,570.2 940.5,568.5 943,567.5C945.5,566.5 948.2,565.8 950.5,565C952.8,564.2 955.2,564 956.8,562.5C958.3,561 959.7,558.5 959.9,556.2C960.1,554 958.9,551 958,548.8C957.1,546.5 955.5,546.2 954.2,542.5C953,538.8 950.5,526.8 950.5,526.8L883,526.8Z" fill="#8cfa14"/><path d="M893,526.8C893,526.8 891.8,540.7 890.5,545C889.2,549.3 887.1,550 885.5,552.5C883.9,555 882.2,557.5 881.1,560C880.1,562.5 879.8,564.8 879.2,567.5C878.7,570.2 878.3,573.3 878,576.2C877.7,579.2 877.1,582.3 877.4,585C877.7,587.7 878.7,590.8 879.9,592.5C881,594.2 882.7,594.8 884.2,595C885.8,595.2 887.6,594.6 889.2,593.8C890.9,592.9 892.4,590.9 894.2,590C896.1,589.1 898.2,588.5 900.5,588.1C902.8,587.7 905.7,588.2 908,587.5C910.3,586.8 912.8,585.4 914.2,583.8C915.7,582.1 915.9,579.4 916.8,577.5C917.6,575.6 918.2,574.2 919.2,572.5C920.3,570.8 921.8,569.4 923,567.5C924.2,565.6 925.5,563.5 926.8,561.2C928,559 929.4,556 930.5,553.8C931.6,551.5 933.2,549.4 933.6,547.5C934,545.6 933.7,546 933,542.5C932.3,539 929.2,526.8 929.2,526.8L893,526.8Z" fill="#fffa00"/><path d="M895.1,581.1C895.5,581.7 895.6,582.5 895.3,583.3C895.1,584.1 894.4,585.1 893.7,585.9C893,586.7 891.8,587.5 890.8,587.9C889.9,588.3 888.7,588.6 887.9,588.6C887,588.5 886.3,588.1 885.9,587.6C885.5,587.1 885.4,586.2 885.7,585.4C885.9,584.6 886.6,583.6 887.3,582.8C888,582.1 889.2,581.3 890.2,580.8C891.1,580.4 892.3,580.1 893.1,580.2C894,580.3 894.7,580.6 895.1,581.1Z" fill="#ffbe0a"/><path d="M922.4,603.8C922.9,602.3 923.9,601.2 925.5,600C927.1,598.8 929.9,597.9 931.8,596.2C933.6,594.6 935.7,591.9 936.8,590C937.8,588.1 937,586.2 938,585C939,583.8 941.1,582.7 943,582.5C944.9,582.3 947.2,582.7 949.2,583.8C951.3,584.8 953.8,587.1 955.5,588.8C957.2,590.4 958.5,591.5 959.2,593.8C960,596 959.6,599.8 959.9,602.5C960.2,605.2 960,607.9 961.1,610C962.3,612.1 965.4,613.6 966.8,615C968.1,616.4 969.2,617.2 969.2,618.1C969.2,619.1 968.2,620.3 966.8,620.6C965.3,620.9 962.8,620.3 960.5,620C958.2,619.7 955.3,619.4 953,618.8C950.7,618.1 948.6,617.3 946.8,616.2C944.9,615.2 943.6,613.2 941.8,612.5C939.9,611.8 937.4,611.6 935.5,611.9C933.6,612.2 932.2,614.3 930.5,614.4C928.8,614.5 926.9,613.4 925.5,612.5C924.1,611.6 922.9,610.2 922.4,608.8C921.9,607.3 921.9,605.2 922.4,603.8Z" fill="#8cfa14"/><path d="M941.8,592.5C942.6,590.6 944,588.1 945.5,587.5C947,586.9 948.8,587.7 950.5,588.8C952.2,589.8 954.4,591.9 955.5,593.8C956.6,595.6 957,597.7 957.4,600C957.8,602.3 958.3,605.2 958,607.5C957.7,609.8 956.8,612.6 955.5,613.8C954.2,614.9 952.2,615 950.5,614.4C948.8,613.8 947,611.6 945.5,610C944,608.4 942.6,606.9 941.8,605C940.9,603.1 940.5,600.8 940.5,598.8C940.5,596.7 940.9,594.4 941.8,592.5Z" fill="#fffa00"/><path d="M928,580.6C928,580.9 927.8,581.2 927.4,581.4C927,581.6 926.4,581.7 925.8,581.8C925.3,581.9 924.5,581.9 923.9,581.8C923.3,581.7 922.7,581.6 922.3,581.4C922,581.2 921.8,580.9 921.8,580.6C921.8,580.4 922,580.1 922.3,579.9C922.7,579.7 923.3,579.5 923.9,579.4C924.5,579.4 925.3,579.4 925.8,579.4C926.4,579.5 927,579.7 927.4,579.9C927.8,580.1 928,580.4 928,580.6Z" fill="#8cfa14"/><path d="M900.5,650.9C901.5,648 903.6,648.7 905.5,647.5C907.4,646.3 909.9,644.4 911.8,643.8C913.6,643.1 915.3,642.9 916.8,643.8C918.2,644.6 919.7,645.3 920.5,648.8C921.3,652.2 921.8,664.5 921.8,664.5L899.2,664.5C899.2,664.5 899.5,653.7 900.5,650.9Z" fill="#8cfa14"/></g><g clip-path="url(#c868_629_128)"><rect x="867" y="628" width="130" height="113" fill="#1e5af5"/><path d="M943,615.8C943,615.8 943.4,629.7 945.5,632.8C947.6,635.8 952.2,633.7 955.5,634C958.8,634.3 962.3,634.4 965.5,634.6C968.7,634.8 972.4,635.1 974.5,635.2C976.6,635.4 977.4,638.5 978,635.2C978.6,632 978,615.8 978,615.8L943,615.8Z" fill="#0f8c8c"/><path d="M854.8,639C854.8,639 870.4,639.9 875.5,640.2C880.6,640.6 882.2,641.1 885.5,640.9C888.8,640.7 892.6,639.8 895.5,639C898.4,638.2 900.7,636.7 903,635.9C905.3,635 907.8,637.4 909.2,634C910.7,630.6 911.8,615.8 911.8,615.8L943,615.8C943,615.8 942.4,629.7 941.8,634C941.1,638.3 940.3,639.2 939.2,641.5C938.2,643.8 937,645.9 935.5,647.8C934,649.6 932.2,651.1 930.5,652.8C928.8,654.4 927.2,656.1 925.5,657.8C923.8,659.4 922.2,661.1 920.5,662.8C918.8,664.4 917.4,666.3 915.5,667.8C913.6,669.2 911.3,670.2 909.2,671.5C907.2,672.8 905.1,674 903,675.2C900.9,676.5 898.4,677.5 896.8,679C895.1,680.5 894.2,683.6 893,684C891.8,684.4 890.9,682.3 889.2,681.5C887.6,680.7 884.9,679 883,679C881.1,679 879.7,680.5 878,681.5C876.3,682.5 874.7,684.4 873,685.2C871.3,686.1 871,686.3 868,686.5C865,686.7 854.8,686.5 854.8,686.5L854.8,639Z" fill="#0ac83c" stroke="#0f8c8c" stroke-width="2.5"/><path d="M854.8,647.8C854.8,647.8 869.5,647.5 873,649C876.5,650.5 875.3,653.8 875.5,656.5C875.7,659.2 875.1,663 874.2,665.2C873.4,667.5 873.8,669.3 870.5,670.2C867.2,671.2 854.8,670.9 854.8,670.9L854.8,647.8Z" fill="#0f8c8c"/><path d="M854.8,654C854.8,654 867.2,654 869.9,655.2C872.5,656.5 873,660 870.5,661.5C868,663 854.8,664 854.8,664L854.8,654Z" fill="#1e5af5"/><path d="M891.1,657.8C890.9,656.1 891.6,654.2 893,652.8C894.4,651.3 897,649.8 899.2,649C901.5,648.2 904.7,648.6 906.8,647.8C908.8,646.9 909.9,644.8 911.8,644C913.6,643.2 916.3,642.3 918,642.8C919.7,643.2 921.1,644.6 921.8,646.5C922.4,648.4 922.4,651.9 921.8,654C921.1,656.1 919,657.3 918,659C917,660.7 916.5,662.4 915.5,664C914.5,665.6 913.2,668 911.8,668.4C910.3,668.8 908.6,667.2 906.8,666.5C904.9,665.8 902.6,664.6 900.5,664C898.4,663.4 895.8,663.8 894.2,662.8C892.7,661.7 891.3,659.4 891.1,657.8Z" fill="#8cfa14"/><path d="M903.4,655.9C903.4,656.4 903.1,657.1 902.7,657.5C902.3,657.9 901.6,658.3 901,658.5C900.3,658.7 899.4,658.7 898.8,658.5C898.1,658.3 897.4,657.9 897,657.5C896.6,657.1 896.4,656.4 896.4,655.9C896.4,655.3 896.6,654.7 897,654.3C897.4,653.8 898.1,653.4 898.8,653.3C899.4,653.1 900.3,653.1 901,653.3C901.6,653.4 902.3,653.8 902.7,654.3C903.1,654.7 903.4,655.3 903.4,655.9Z" fill="#fffa00"/><path d="M913.9,661.8C913.9,662.2 913.7,662.8 913.3,663.2C913,663.6 912.5,664 912,664.1C911.5,664.3 910.8,664.3 910.3,664.1C909.8,664 909.2,663.6 908.9,663.2C908.6,662.8 908.4,662.2 908.4,661.8C908.4,661.3 908.6,660.7 908.9,660.3C909.2,659.9 909.8,659.5 910.3,659.4C910.8,659.2 911.5,659.2 912,659.4C912.5,659.5 913,659.9 913.3,660.3C913.7,660.7 913.9,661.3 913.9,661.8Z" fill="#fffa00"/><path d="M935.5,661.5C936.1,660.2 940.7,661.5 943,660.2C945.3,659 947.4,655.9 949.2,654C951.1,652.1 952.4,649.6 954.2,649C956.1,648.4 958.2,649 960.5,650.2C962.8,651.5 965.7,654.6 968,656.5C970.3,658.4 972.8,660.7 974.5,661.5C976.2,662.3 977.4,660 978,661.5C978.6,663 978.8,669.2 978,670.2C977.2,671.3 974.9,668.4 973,667.8C971.1,667.1 968.8,666.9 966.8,666.5C964.7,666.1 962.4,665.2 960.5,665.2C958.6,665.2 957,665.5 955.5,666.5C954,667.5 952,669.4 951.8,671.5C951.5,673.6 953.6,676.7 954.2,679C954.9,681.3 955.5,683.4 955.5,685.2C955.5,687.1 953.8,688.8 954.2,690.2C954.7,691.7 957.8,693 958,694C958.2,695 956.8,697.3 955.5,696.5C954.2,695.7 952.2,691.3 950.5,689C948.8,686.7 947,685.2 945.5,682.8C944,680.2 942.8,676.5 941.8,674C940.7,671.5 940.3,669.8 939.2,667.8C938.2,665.7 934.9,662.8 935.5,661.5Z" fill="#6e6ef5"/><path d="M954.2,654C954.7,653 956.3,652.1 958,652.8C959.7,653.4 962.4,656.2 964.2,657.8C966.1,659.3 969,661.2 969.2,662.1C969.5,663.1 967.2,663.5 965.5,663.4C963.8,663.3 960.9,662.2 959.2,661.5C957.6,660.8 956.3,660.2 955.5,659C954.7,657.8 953.8,655 954.2,654Z" fill="#b4c6f9"/><path d="M946.8,672.8C947.2,671.7 948.7,670.5 949.2,671.5C949.8,672.5 950.1,677.3 949.9,679C949.7,680.7 948.6,681.7 948,681.5C947.4,681.3 946.7,679.2 946.5,677.8C946.3,676.3 946.3,673.8 946.8,672.8Z" fill="#b4c6f9"/><path d="M954.2,670.2C955.1,669 958.2,669.6 960.5,670.2C962.8,670.9 965.7,672.5 968,674C970.3,675.5 972.8,678 974.5,679C976.2,680 977.4,678.6 978,680.2C978.6,681.9 978.6,687.5 978,689C977.4,690.5 976.4,689.2 974.5,689C972.6,688.8 969.1,688.6 966.8,687.8C964.4,686.9 962.4,685.7 960.5,684C958.6,682.3 956.5,680 955.5,677.8C954.5,675.5 953.4,671.5 954.2,670.2Z" fill="#0ac83c"/><path d="M968,689C968.7,688.4 972.8,690 974.5,690.2C976.2,690.5 977.4,688.8 978,690.2C978.6,691.7 978.6,697.9 978,699C977.4,700.1 975.8,698 974.5,697.1C973.2,696.3 971.6,695.4 970.5,694C969.4,692.6 967.3,689.6 968,689Z" fill="#0ac83c"/><path d="M955.5,709C956.5,707.3 958.6,705 960.5,704C962.4,703 964.4,702.8 966.8,702.8C969.1,702.8 972.6,703.8 974.5,704C976.4,704.2 977.4,701.5 978,704C978.6,706.5 981.8,716.5 978,719C974.2,721.5 959.5,719.8 955.5,719C951.5,718.2 954.2,715.7 954.2,714C954.2,712.3 954.5,710.7 955.5,709Z" fill="#0ac83c"/><path d="M916.8,699C917.5,696.5 918.4,696.2 920.5,695.2C922.6,694.3 926.9,693.2 929.2,693.4C931.6,693.6 933.7,694.7 934.9,696.5C936,698.3 936.4,701.7 936.1,704C935.8,706.3 934.1,708.4 933,710.2C931.9,712.1 930.5,713.8 929.2,715.2C928,716.7 927.8,718.4 925.5,719C923.2,719.6 917.1,720.5 915.5,719C913.9,717.5 915.9,713.6 916.1,710.2C916.3,706.9 916,701.5 916.8,699Z" fill="#0f8c8c"/><path d="M916.8,711.5C917.5,709.7 918.8,709.1 920.5,708.4C922.2,707.6 924.9,707 926.8,707.1C928.6,707.2 931.1,707.9 931.8,709C932.4,710.1 931.3,712.3 930.5,714C929.7,715.7 929.1,718.2 926.8,719C924.4,719.8 917.8,720.2 916.1,719C914.5,717.8 916,713.3 916.8,711.5Z" fill="#0ac83c"/><path d="M889.2,709C889.6,707.2 891.3,705.5 893,704.6C894.7,703.8 897.2,703.6 899.2,704C901.3,704.4 904.1,705.8 905.5,707.1C906.9,708.5 907.6,710.6 907.4,712.1C907.2,713.7 906,715.7 904.2,716.5C902.5,717.3 898.9,717.3 896.8,717.1C894.6,716.9 892.4,716.6 891.1,715.2C889.9,713.9 888.9,710.8 889.2,709Z" fill="#6e6ef5"/><path d="M873,710.2C873.6,709.2 877.2,708.9 879.2,709C881.3,709.1 884.9,709.9 885.5,710.9C886.1,711.8 884.7,713.9 883,714.6C881.3,715.3 877.2,715.7 875.5,715C873.8,714.3 872.4,711.2 873,710.2Z" fill="#6e6ef5"/></g><g clip-path="url(#c840_590_140)"><rect x="839" y="589" width="142" height="130" fill="#1e5af5"/><path d="M826.6,576.6L866.7,576.6C866.7,576.6 867.9,593.3 867.7,598.7C867.5,604 866.3,605.9 865.3,608.8C864.2,611.6 862.5,613.6 861.6,616C860.8,618.4 859.7,621 860.2,623.2C860.7,625.4 864.3,627.5 864.5,629C864.8,630.4 863.3,631.5 861.6,631.8C860,632.2 856.8,630.9 854.4,631.1C852,631.4 849.1,632.2 847.2,633.3C845.3,634.4 846.3,636.7 842.9,637.6C839.4,638.6 826.6,639.1 826.6,639.1L826.6,576.6Z" fill="#6e6ef5"/><path d="M826.6,592.2C826.6,592.2 842.3,591.9 847.2,591.7C852.1,591.6 853.5,590.8 855.9,591.2C858.3,591.5 860.3,592.1 861.6,593.6C863,595.1 863.8,597.8 863.8,600.1C863.8,602.4 862.7,605 861.6,607.3C860.6,609.6 858.6,613.1 857.3,613.8C856,614.5 855,612.8 853.7,611.6C852.4,610.4 851.1,607.9 849.4,606.6C847.7,605.3 847.4,604.3 843.6,603.7C839.8,603.1 826.6,603 826.6,603L826.6,592.2Z" fill="#b4c6f9"/><path d="M826.6,623.9C826.6,623.9 839.8,623.2 842.9,623.9C846,624.6 844.9,626.7 845.1,628.2C845.2,629.8 846.7,632.2 843.6,633.3C840.5,634.4 826.6,634.7 826.6,634.7L826.6,623.9Z" fill="#b4c6f9"/><path d="M826.6,606.6C826.6,606.6 840.4,606.5 843.6,607.3C846.8,608.2 845.8,610.2 845.8,611.6C845.8,613.1 846.8,615.1 843.6,616C840.4,616.8 826.6,616.7 826.6,616.7L826.6,606.6Z" fill="#1e5af5"/><path d="M873.2,576.6C873.2,576.6 872.9,590.6 873.9,594.3C874.9,598 876.9,597.7 879,598.7C881,599.6 885.5,599.1 886.2,600.1C886.9,601.1 884.3,602.7 883.3,604.4C882.3,606.1 881.4,608.5 880.4,610.2C879.4,611.9 877,613.3 877.5,614.5C878,615.7 881.6,616.2 883.3,617.4C885,618.6 886.7,620.1 887.6,621.7C888.6,623.4 888.6,625.6 889.1,627.5C889.5,629.4 890.7,631.6 890.5,633.3C890.3,635 889.3,636.7 887.6,637.6C885.9,638.6 883,638.7 880.4,639.1C877.8,639.4 874.6,639.7 871.7,639.8C868.9,639.9 865.7,639.7 863.1,639.8C860.4,639.9 857.7,639.8 855.9,640.5C854.1,641.2 852.5,642.9 852.3,644.1C852,645.3 852.9,647.2 854.4,647.7C856,648.2 859.2,647 861.6,647C864.1,647 866.5,647.1 868.9,647.7C871.3,648.3 874.4,648.9 876.1,650.6C877.8,652.3 878.6,655.4 879,657.8C879.3,660.2 878,662.9 878.2,665C878.5,667.2 878.8,669.1 880.4,670.8C882,672.5 885.5,673.2 887.6,675.1C889.8,677.1 891.7,680.9 893.4,682.4C895.1,683.8 895.8,684.3 897.7,683.8C899.6,683.3 902.5,680.9 904.9,679.5C907.3,678 909.5,677.1 912.2,675.1C914.8,673.2 918.2,670.3 920.8,667.9C923.5,665.5 925.9,662.9 928,660.7C930.2,658.5 931.9,657.1 933.8,654.9C935.7,652.8 938.4,650.1 939.6,647.7C940.8,645.3 940.3,642.7 941,640.5C941.7,638.3 942.2,636.2 943.9,634.7C945.6,633.3 948.5,632.6 951.1,631.8C953.8,631.1 956.6,630.5 959.8,630.4C962.9,630.3 967.4,630.9 969.9,631.1C972.3,631.4 973,631.7 974.5,631.8C975.9,632 977.9,641.1 978.5,631.8C979.2,622.6 978.5,576.6 978.5,576.6L873.2,576.6Z" fill="#0ac83c" stroke="#0f8c8c" stroke-width="2.5"/><path d="M876.1,616C876.8,615 880.6,617.3 883.3,617.4C885.9,617.5 889.1,616.8 891.9,616.7C894.8,616.6 898.2,616.3 900.6,616.7C903,617.1 905.7,617.3 906.4,618.9C907.1,620.4 905.7,623.9 904.9,626.1C904.2,628.2 903.7,632.1 902,631.8C900.4,631.6 897,626.1 894.8,624.6C892.7,623.2 891,622.9 889.1,623.2C887.1,623.4 885,626.1 883.3,626.1C881.6,626.1 880.2,624.9 879,623.2C877.8,621.5 875.4,616.9 876.1,616Z" fill="#0f8c8c"/><path d="M884,610.2C884.3,608.8 885.8,606.8 887.6,605.9C889.4,604.9 892.2,604.7 894.8,604.4C897.5,604.2 901.1,603.9 903.5,604.4C905.9,604.9 908.5,605.9 909.3,607.3C910,608.8 909.3,611.6 907.8,613.1C906.4,614.5 903.3,615.5 900.6,616C898,616.5 894.4,616.2 891.9,616C889.5,615.7 887.5,615.5 886.2,614.5C884.9,613.6 883.8,611.6 884,610.2Z" fill="#1e5af5" stroke="#0f8c8c" stroke-width="2.2"/><path d="M930.3,628.7C930.3,629.6 929.9,630.8 929.3,631.6C928.7,632.3 927.7,633 926.7,633.3C925.8,633.6 924.5,633.6 923.5,633.3C922.6,633 921.5,632.3 920.9,631.6C920.3,630.8 919.9,629.6 919.9,628.7C919.9,627.7 920.3,626.6 920.9,625.8C921.5,625 922.6,624.3 923.5,624C924.5,623.7 925.8,623.7 926.7,624C927.7,624.3 928.7,625 929.3,625.8C929.9,626.6 930.3,627.7 930.3,628.7Z" fill="#0f8c8c"/><path d="M927.7,628.7C927.7,629.2 927.5,629.8 927.2,630.2C926.9,630.6 926.4,631 925.9,631.1C925.5,631.3 924.8,631.3 924.3,631.1C923.9,631 923.3,630.6 923,630.2C922.7,629.8 922.5,629.2 922.5,628.7C922.5,628.2 922.7,627.6 923,627.1C923.3,626.7 923.9,626.4 924.3,626.2C924.8,626 925.5,626 925.9,626.2C926.4,626.4 926.9,626.7 927.2,627.1C927.5,627.6 927.7,628.2 927.7,628.7Z" fill="#1e5af5"/><path d="M857.3,670.8C858.2,669.4 860.7,667.9 863.1,667.9C865.5,667.9 869.1,669.4 871.7,670.8C874.4,672.3 877.5,674.4 879,676.6C880.4,678.7 881.1,681.9 880.4,683.8C879.7,685.7 877,687.5 874.6,688.1C872.2,688.7 868.4,688.4 866,687.4C863.6,686.4 861.5,684.2 860.2,682.4C858.9,680.5 858.5,678.5 858,676.6C857.6,674.7 856.5,672.3 857.3,670.8Z" fill="#0f8c8c"/><path d="M876.1,680.6C876.1,681.5 875.6,682.5 875,683.2C874.3,683.9 873.2,684.5 872.1,684.7C871,685 869.6,685 868.5,684.7C867.4,684.5 866.3,683.9 865.6,683.2C865,682.5 864.5,681.5 864.5,680.6C864.5,679.8 865,678.8 865.6,678.1C866.3,677.4 867.4,676.8 868.5,676.5C869.6,676.2 871,676.2 872.1,676.5C873.2,676.8 874.3,677.4 875,678.1C875.6,678.8 876.1,679.8 876.1,680.6Z" fill="#0ac83c"/><path d="M826.6,673.7C826.6,673.7 840.4,672.5 844.3,673C848.3,673.5 849.1,675 850.1,676.6C851.1,678.1 850.8,680.8 850.1,682.4C849.4,683.9 849.7,685.5 845.8,686C841.8,686.4 826.6,685.2 826.6,685.2L826.6,673.7Z" fill="#0ac83c" stroke="#0f8c8c" stroke-width="2.2"/><path d="M935.2,660.7C936.4,659.5 941.5,660.5 943.9,659.3C946.3,658.1 948,655.4 949.7,653.5C951.4,651.6 952.1,648.4 954,647.7C955.9,647 958.8,648 961.2,649.2C963.6,650.4 966.2,653 968.4,654.9C970.6,656.9 972.8,659.7 974.5,660.7C976.2,661.7 977.9,659.5 978.5,660.7C979.2,661.9 980,667.2 978.5,667.9C977.1,668.6 972.5,665.8 969.9,665C967.2,664.3 965.1,663.8 962.7,663.6C960.3,663.4 957.4,663.1 955.4,663.6C953.5,664.1 952.1,664.8 951.1,666.5C950.1,668.2 949.2,671 949.7,673.7C950.1,676.3 953,679.7 954,682.4C955,685 955.4,687.6 955.4,689.6C955.4,691.5 953.5,692.7 954,693.9C954.5,695.1 958.1,695.8 958.3,696.8C958.6,697.7 956.9,700.6 955.4,699.7C954,698.7 951.6,693.7 949.7,691C947.7,688.4 945.6,686.7 943.9,683.8C942.2,680.9 940.8,676.6 939.6,673.7C938.4,670.8 937.4,668.6 936.7,666.5C936,664.3 934,661.9 935.2,660.7Z" fill="#6e6ef5"/><path d="M953.3,654.9C953.8,654.1 955.8,652.9 957.6,653.5C959.4,654.1 962.2,657.1 964.1,658.5C966,660 968.9,661.3 969.1,662.2C969.4,663 967.3,663.7 965.5,663.6C963.7,663.5 960.1,662.3 958.3,661.4C956.5,660.6 955.6,659.6 954.7,658.5C953.9,657.5 952.8,655.8 953.3,654.9Z" fill="#b4c6f9"/><path d="M946.8,673C947.3,671.9 949.1,670.4 949.7,671.5C950.3,672.6 950.6,677.7 950.4,679.5C950.1,681.3 948.9,682.6 948.2,682.4C947.6,682.1 946.7,679.6 946.5,678C946.3,676.5 946.3,674.1 946.8,673Z" fill="#b4c6f9"/><path d="M952.6,670.8C953.5,669.6 957.4,670.1 959.8,670.8C962.2,671.5 964.5,673.6 967,675.1C969.4,676.7 972.6,679.2 974.5,680.2C976.4,681.1 977.9,679.1 978.5,680.9C979.2,682.7 980,689.4 978.5,691C977.1,692.6 972.5,690.8 969.9,690.3C967.2,689.8 964.8,689.2 962.7,688.1C960.5,687 958.3,685.5 956.9,683.8C955.4,682.1 954.7,680.2 954,678C953.3,675.9 951.6,672 952.6,670.8Z" fill="#0ac83c"/><path d="M965.5,691C966.3,690 972.3,692.2 974.5,692.5C976.7,692.7 977.9,691 978.5,692.5C979.2,693.9 980,700.1 978.5,701.1C977.1,702.1 972,699.9 969.9,698.2C967.7,696.5 964.8,692 965.5,691Z" fill="#0ac83c"/><path d="M955.4,711.2C956.4,709.5 957.8,706.6 959.8,705.4C961.7,704.2 964.5,704 967,704C969.4,704 972.6,705.2 974.5,705.4C976.4,705.7 977.9,701 978.5,705.4C979.2,709.8 978.5,731.9 978.5,731.9L955.4,731.9C955.4,731.9 954,719 954,715.5C954,712.1 954.5,712.9 955.4,711.2Z" fill="#0ac83c" stroke="#0f8c8c" stroke-width="2.2"/><path d="M916.5,699.7C917.3,697.3 918.6,696.4 920.8,695.3C923,694.3 927.1,692.9 929.5,693.2C931.9,693.4 934,695 935.2,696.8C936.4,698.6 936.9,701.6 936.7,704C936.4,706.4 935,709 933.8,711.2C932.6,713.4 930.7,713.5 929.5,717C928.3,720.4 926.6,731.9 926.6,731.9L915,731.9C915,731.9 915.5,715.1 915.8,709.8C916,704.4 915.6,702.1 916.5,699.7Z" fill="#0f8c8c"/><path d="M916.5,712.7C917.3,708.9 919.1,709.9 920.8,709C922.5,708.2 924.7,707.5 926.6,707.6C928.5,707.7 931.6,708.4 932.4,709.8C933.1,711.1 931.9,711.9 930.9,715.5C929.9,719.2 926.6,731.9 926.6,731.9L915.8,731.9C915.8,731.9 915.6,716.5 916.5,712.7Z" fill="#0ac83c"/><path d="M889.1,709.8C889.4,707.8 891.5,705.7 893.4,704.7C895.3,703.8 898.4,703.5 900.6,704C902.8,704.5 905.2,706.2 906.4,707.6C907.6,709 908.1,711 907.8,712.7C907.6,714.3 906.6,714.7 904.9,717.7C903.3,720.7 897.7,730.4 897.7,730.4C897.7,730.4 892.7,719.7 891.2,716.3C889.8,712.8 888.7,711.7 889.1,709.8Z" fill="#6e6ef5"/><path d="M873.2,711.2C874,710.1 878.2,709.6 880.4,709.8C882.6,709.9 885.7,710.9 886.2,711.9C886.7,713 885.1,715.5 883.3,716.3C881.5,717.1 877,717.5 875.4,716.7C873.7,715.9 872.3,712.4 873.2,711.2Z" fill="#6e6ef5"/><path d="M826.6,696.8C826.6,696.8 840.6,696.5 844.3,697.5C848,698.5 847.8,700.5 848.7,702.6C849.5,704.6 849.9,707.6 849.4,709.8C848.9,711.9 849.6,714.3 845.8,715.5C842,716.7 826.6,717 826.6,717L826.6,696.8Z" fill="#6e6ef5"/><path d="M872.5,576.6C872.5,576.6 872.8,590 873.9,593.6C875,597.2 876.9,597 879,597.9C881,598.9 883.8,599.5 886.2,599.4C888.6,599.3 891,598.2 893.4,597.2C895.8,596.3 898,594.6 900.6,593.6C903.3,592.6 906.9,594.3 909.3,591.4C911.7,588.6 915,576.6 915,576.6L872.5,576.6Z" fill="#8cfa14"/><path d="M879,576.6C879,576.6 879.4,589.7 880.4,592.9C881.4,596.1 883,595.4 884.7,595.8C886.4,596.1 888.6,595.7 890.5,595.1C892.4,594.4 894.6,595.2 896.3,592.2C898,589.1 900.6,576.6 900.6,576.6L879,576.6Z" fill="#fffa00"/><path d="M922.3,604.4C922.7,603 924.9,601.5 926.6,600.1C928.3,598.7 930.7,599.7 932.4,595.8C934,591.8 936.7,576.6 936.7,576.6L959.8,576.6C959.8,576.6 959.5,592.3 959.8,597.2C960,602.1 960.5,603.2 961.2,605.9C961.9,608.5 962.8,611.2 964.1,613.1C965.4,615 968.7,616.2 969.1,617.4C969.6,618.6 968.5,619.9 967,620.3C965.4,620.7 962.2,619.9 959.8,619.6C957.4,619.2 955,618.7 952.6,618.1C950.1,617.5 947.5,616.8 945.3,616C943.2,615.1 941.5,614.1 939.6,613.1C937.6,612.1 935.7,610.4 933.8,610.2C931.9,610 929.7,611.9 928,611.6C926.3,611.4 924.7,610 923.7,608.8C922.7,607.6 921.8,605.9 922.3,604.4Z" fill="#8cfa14"/><path d="M941,598.7C941.6,596.9 943.9,596.6 945.3,592.9C946.8,589.2 949.7,576.6 949.7,576.6L955.4,576.6C955.4,576.6 956.8,592.3 956.9,597.2C957,602.1 956.6,603.2 956.2,605.9C955.7,608.5 955.3,611.8 954,613.1C952.7,614.4 949.9,614.5 948.2,613.8C946.5,613.1 945,610.4 943.9,608.8C942.8,607.1 942.2,605.4 941.7,603.7C941.3,602 940.4,600.5 941,598.7Z" fill="#fffa00"/><path d="M891.2,659.3C891.3,657.8 891.8,655.2 893.4,653.5C895,651.8 898,650.1 900.6,649.2C903.3,648.2 906.9,648.7 909.3,647.7C911.7,646.8 913.2,644.1 915,643.4C916.8,642.7 918.9,642.7 920.1,643.4C921.3,644.1 922,646 922.3,647.7C922.5,649.4 922.3,651.6 921.5,653.5C920.8,655.4 919,657.3 917.9,659.3C916.8,661.2 916.1,663.5 915,665C914,666.6 913.1,668.5 911.4,668.6C909.7,668.8 907.2,666.6 904.9,665.8C902.7,664.9 899.8,664.2 897.7,663.6C895.7,663 893.8,662.9 892.7,662.2C891.6,661.4 891.1,660.7 891.2,659.3Z" fill="#8cfa14"/><path d="M904.6,656.7C904.6,657.3 904.3,658 903.9,658.5C903.4,659 902.6,659.5 901.9,659.7C901.1,659.9 900.1,659.9 899.4,659.7C898.6,659.5 897.8,659 897.3,658.5C896.9,658 896.6,657.3 896.6,656.7C896.6,656 896.9,655.3 897.3,654.8C897.8,654.3 898.6,653.8 899.4,653.6C900.1,653.5 901.1,653.5 901.9,653.6C902.6,653.8 903.4,654.3 903.9,654.8C904.3,655.3 904.6,656 904.6,656.7Z" fill="#fffa00"/><path d="M914.3,661.4C914.3,661.9 914.1,662.5 913.8,663C913.4,663.4 912.9,663.7 912.3,663.9C911.8,664.1 911.1,664.1 910.5,663.9C910,663.7 909.4,663.4 909.1,663C908.8,662.5 908.5,661.9 908.5,661.4C908.5,660.9 908.8,660.3 909.1,659.9C909.4,659.5 910,659.1 910.5,659C911.1,658.8 911.8,658.8 912.3,659C912.9,659.1 913.4,659.5 913.8,659.9C914.1,660.3 914.3,660.9 914.3,661.4Z" fill="#fffa00"/></g><g clip-path="url(#c848_270_128)"><rect x="847" y="269" width="130" height="113" fill="#1e5af5"/><path d="M868,275C868,271.5 873,256.8 873,256.8L960.5,256.8C960.5,256.8 956.5,270.7 954.2,275C952,279.3 949,280.2 946.8,282.5C944.5,284.8 942.4,286.7 940.5,288.8C938.6,290.8 937.6,292.7 935.5,295C933.4,297.3 930.3,300 928,302.5C925.7,305 923.2,308.1 921.8,310C920.3,311.9 918.6,312.5 919.2,313.8C919.9,315 923,316.7 925.5,317.5C928,318.3 932.2,319.4 934.2,318.8C936.3,318.1 936.8,315.1 938,313.8C939.2,312.4 940.3,310.8 941.8,310.6C943.2,310.4 945.9,311.1 946.8,312.5C947.6,313.9 947.4,316.7 946.8,318.8C946.1,320.8 943.8,323.3 943,325C942.2,326.7 940.9,328.1 941.8,328.8C942.6,329.4 945.3,329.2 948,328.8C950.7,328.3 955.1,327.3 958,326.2C960.9,325.2 963.2,324 965.5,322.5C967.8,321 970.2,318.8 971.8,317.5C973.2,316.2 971.5,315.6 974.5,315C977.5,314.4 990,313.8 990,313.8L990,322.5C990,322.5 978.6,322.7 974.5,323.8C970.4,324.8 968.7,327.3 965.5,328.8C962.3,330.2 958.8,331.7 955.5,332.5C952.2,333.3 948.8,333.6 945.5,333.8C942.2,333.9 938.4,333.3 935.5,333.1C932.6,332.9 930.3,332.7 928,332.5C925.7,332.3 923.8,331.7 921.8,331.9C919.7,332.1 917.8,333.3 915.5,333.8C913.2,334.2 910.5,334.4 908,334.4C905.5,334.4 902.6,334.5 900.5,333.8C898.4,333 897.2,331.5 895.5,330C893.8,328.5 892.2,326.9 890.5,325C888.8,323.1 886.5,320.6 885.5,318.8C884.5,316.9 883.6,314.9 884.2,313.8C884.9,312.6 887,312.3 889.2,311.9C891.5,311.5 895.3,311.4 898,311.2C900.7,311.1 903,312.1 905.5,311.2C908,310.4 911.3,308.1 913,306.2C914.7,304.4 915.3,302.1 915.5,300C915.7,297.9 915.5,295.4 914.2,293.8C913,292.1 910.3,291.2 908,290C905.7,288.8 903.4,287.7 900.5,286.2C897.6,284.8 893.8,282.6 890.5,281.2C887.2,279.9 883.4,278.8 880.5,278.1C877.6,277.5 875.1,278 873,277.5C870.9,277 868,278.5 868,275Z" fill="#6e6ef5"/><path d="M960.5,256.8C960.5,256.8 957.6,269.7 955.5,273.8C953.4,277.8 950.3,279 948,281.2C945.7,283.5 943.6,285.4 941.8,287.5C939.9,289.6 938.8,291.5 936.8,293.8C934.7,296 931.5,298.8 929.2,301.2C927,303.8 924.6,306.8 923,308.8C921.4,310.7 919.5,311.8 919.9,313.1C920.3,314.5 923.3,316 925.5,316.9C927.7,317.7 931,318.8 933,318.1C935,317.5 935.9,314.4 937.4,313.1C938.8,311.8 940.1,310.4 941.8,310.2C943.4,310.1 946.4,310.8 947.4,312.2C948.3,313.7 948,316.6 947.4,318.8C946.8,320.9 944.5,323.4 943.6,325C942.8,326.6 941.6,328 942.4,328.5C943.1,329 945.4,328.6 948,328.1C950.6,327.6 955.2,326.7 958,325.6C960.8,324.6 962.7,323.3 964.9,321.9C967.1,320.4 969.5,318.2 971.1,316.9C972.7,315.5 971.4,314.5 974.5,313.8C977.6,313 990,312.5 990,312.5L990,256.8L960.5,256.8Z" fill="#b4c6f9"/><path d="M891.1,316.2C891.5,315.3 892.9,314 894.2,313.8C895.6,313.5 897.8,314.1 899.2,315C900.7,315.9 902.3,318.1 903,319.4C903.7,320.6 904.1,321.7 903.6,322.5C903.1,323.3 901.3,324 899.9,324C898.4,324 896.2,323.3 894.9,322.5C893.5,321.7 892.4,320.4 891.8,319.4C891.1,318.3 890.7,317.2 891.1,316.2Z" fill="#b4c6f9"/><path d="M834.8,273.8C834.8,273.8 847.7,273.8 850.5,275C853.3,276.2 851.9,279 851.8,281.2C851.6,283.5 852.7,287.2 849.9,288.8C847,290.3 834.8,290.6 834.8,290.6L834.8,273.8Z" fill="#6e6ef5"/><path d="M852,355.2C852,355.9 851.9,356.6 851.8,357.2C851.6,357.7 851.4,358.1 851.1,358.3C850.9,358.5 850.6,358.5 850.4,358.3C850.1,358.1 849.9,357.7 849.7,357.2C849.6,356.6 849.5,355.9 849.5,355.2C849.5,354.6 849.6,353.9 849.7,353.3C849.9,352.8 850.1,352.4 850.4,352.2C850.6,352 850.9,352 851.1,352.2C851.4,352.4 851.6,352.8 851.8,353.3C851.9,353.9 852,354.6 852,355.2Z" fill="#6e6ef5"/><path d="M899.2,256.8C899.2,256.8 900.7,269.1 903,271.9C905.3,274.6 909.2,272.9 913,273.1C916.8,273.3 921.8,273.3 925.5,273.1C929.2,272.9 933.2,274.6 935.5,271.9C937.8,269.1 939.2,256.8 939.2,256.8L899.2,256.8Z" fill="#1e5af5"/><path d="M834.8,302.5C834.8,302.5 847.9,301.7 851.8,301.2C855.6,300.8 856.1,300.8 858,300C859.9,299.2 861.3,297.7 863,296.2C864.7,294.8 866.3,292.5 868,291.2C869.7,290 871.1,288.9 873,288.8C874.9,288.6 877.8,289.6 879.2,290.6C880.7,291.7 882,293.9 881.8,295C881.5,296.1 879.7,297 878,297.5C876.3,298 873.6,297.5 871.8,298.1C869.9,298.8 868.4,299.9 866.8,301.2C865.1,302.6 863.2,304.4 861.8,306.2C860.3,308.1 859.5,310.8 858,312.5C856.5,314.2 856.9,315.4 853,316.2C849.1,317.1 834.8,317.5 834.8,317.5L834.8,302.5Z" fill="#0ac83c" stroke="#0f8c8c" stroke-width="2.2"/><path d="M874.9,321.9C874.9,322.4 874.5,323.1 874,323.5C873.5,323.9 872.7,324.3 871.9,324.5C871,324.7 870,324.7 869.1,324.5C868.3,324.3 867.5,323.9 867,323.5C866.5,323.1 866.1,322.4 866.1,321.9C866.1,321.3 866.5,320.7 867,320.3C867.5,319.8 868.3,319.4 869.1,319.3C870,319.1 871,319.1 871.9,319.3C872.7,319.4 873.5,319.8 874,320.3C874.5,320.7 874.9,321.3 874.9,321.9Z" fill="#0f8c8c"/><path d="M886.8,332.5C886.8,333 886.2,333.7 885.3,334.1C884.5,334.6 883,334.9 881.6,335.1C880.2,335.3 878.3,335.3 876.9,335.1C875.5,334.9 874,334.6 873.2,334.1C872.3,333.7 871.8,333 871.8,332.5C871.8,332 872.3,331.3 873.2,330.9C874,330.4 875.5,330.1 876.9,329.9C878.3,329.7 880.2,329.7 881.6,329.9C883,330.1 884.5,330.4 885.3,330.9C886.2,331.3 886.8,332 886.8,332.5Z" fill="#0f8c8c"/><path d="M878,350C878.4,347.5 879.9,346.1 881.8,345C883.6,343.9 886.5,343.1 889.2,343.1C892,343.1 895.5,344.5 898,345C900.5,345.5 902.2,346.7 904.2,346.2C906.3,345.8 908.2,343.5 910.5,342.5C912.8,341.5 915.1,340.4 918,340C920.9,339.6 924.9,339.8 928,340C931.1,340.2 934.4,340.4 936.8,341.2C939.1,342.1 941.5,343.1 942.4,345C943.2,346.9 942.2,349.8 941.8,352.5C941.3,355.2 940.1,358.3 939.9,361.2C939.7,364.2 940.3,367.3 940.5,370C940.7,372.7 941.1,373.4 941.1,377.5C941.1,381.6 940.5,394.5 940.5,394.5L928,394.5C928,394.5 927.6,379.7 926.8,376.2C925.9,372.8 924.9,374.3 923,373.8C921.1,373.2 918,373.3 915.5,373.1C913,372.9 909.8,373 908,372.5C906.2,372 905.7,371.2 904.9,370C904,368.8 903.7,366.2 903,365C902.3,363.8 901.2,362.3 900.5,362.5C899.8,362.7 899,364.4 898.6,366.2C898.2,368.1 898.5,371.7 898,373.8C897.5,375.8 896.8,377.6 895.5,378.8C894.2,379.9 892.4,380.4 890.5,380.6C888.6,380.8 886.1,380.5 884.2,380C882.4,379.5 880.4,379.2 879.2,377.5C878.1,375.8 877.4,372.9 877.4,370C877.4,367.1 879.1,363.3 879.2,360C879.4,356.7 877.6,352.5 878,350Z" fill="#0ac83c" stroke="#0f8c8c" stroke-width="2.5"/><path d="M911.8,352.5C912.3,350.7 914,350 915.5,349.4C917,348.8 918.6,348.2 920.5,348.8C922.4,349.3 925.2,351 926.8,352.5C928.3,354 929.7,355.8 929.9,357.5C930.1,359.2 929.1,361 928,362.5C926.9,364 924.7,365.2 923,366.2C921.3,367.3 919.7,368.8 918,368.8C916.3,368.8 914,367.7 913,366.2C912,364.8 912.2,362.3 912,360C911.8,357.7 911.2,354.3 911.8,352.5Z" fill="#8cfa14"/><path d="M968.6,345.6C968.6,346.2 968.3,346.8 967.8,347.2C967.3,347.7 966.4,348.1 965.6,348.2C964.8,348.4 963.7,348.4 962.9,348.2C962.1,348.1 961.2,347.7 960.7,347.2C960.2,346.8 959.9,346.2 959.9,345.6C959.9,345.1 960.2,344.4 960.7,344C961.2,343.6 962.1,343.2 962.9,343C963.7,342.8 964.8,342.8 965.6,343C966.4,343.2 967.3,343.6 967.8,344C968.3,344.4 968.6,345.1 968.6,345.6Z" fill="#0f8c8c"/><path d="M955.5,376.2C955.7,374.8 957.8,371.7 959.2,370C960.7,368.3 962.6,366.5 964.2,366.2C965.9,366 968.6,367.5 969.2,368.8C969.9,370 969,372.5 968,373.8C967,375 964.7,375.4 963,376.2C961.3,377.1 959.2,378.8 958,378.8C956.8,378.8 955.3,377.7 955.5,376.2Z" fill="#0f8c8c"/></g><g clip-path="url(#c292_580_128)"><rect x="291" y="579" width="130" height="142" fill="#b4c6f9"/><path d="M394.6,566.4C394.6,566.4 392.5,579.3 396.2,581.9C399.8,584.5 413,584.8 416.7,582.2C420.4,579.6 418.3,566.4 418.3,566.4L394.6,566.4Z" fill="#ffffff"/><path d="M363.8,566.4C363.8,566.4 363.5,578.8 364.6,581.3C365.7,583.7 369.5,583.7 370.6,581.3C371.7,578.8 370.9,566.4 370.9,566.4L363.8,566.4Z" fill="#ffffff"/><path d="M278.4,597.4C278.4,597.4 288.2,598.7 292,597.4C295.8,596 298.3,591.6 301.5,589.5C304.6,587.4 307.3,585.7 310.9,584.7C314.6,583.8 319.4,583.9 323.6,583.9C327.8,583.9 332.5,584.2 336.2,584.7C339.9,585.3 342.5,586.4 345.7,587.1C348.8,587.8 351.7,588.2 355.1,588.7C358.6,589.2 363,589.6 366.2,590.3C369.3,590.9 371.7,591.7 374.1,592.6C376.4,593.5 377.8,595.3 380.4,595.8C383,596.3 386.7,596 389.9,595.8C393,595.5 396.2,594.7 399.3,594.2C402.5,593.7 405.3,593 408.8,592.6C412.2,592.2 415.6,592 420,591.8C424.4,591.7 435,591.8 435,591.8L435,734L278.4,734L278.4,597.4Z" fill="#6e6ef5"/><path d="M278.4,609.2C278.4,609.2 288.9,609.3 292,608.4C295.1,607.5 294.6,604.7 296.7,603.7C298.8,602.6 302,603.4 304.6,602.1C307.3,600.8 310.4,597.6 312.5,595.8C314.6,593.9 315.4,592.2 317.3,591C319.1,589.9 320.4,589.1 323.6,588.7C326.7,588.3 332.5,588.4 336.2,588.7C339.9,588.9 342.5,589.7 345.7,590.3C348.8,590.8 352,591.3 355.1,591.8C358.3,592.4 361.4,592.9 364.6,593.4C367.8,593.9 371.8,593.8 374.1,595C376.3,596.2 377.2,598.3 378,600.5C378.8,602.8 378.4,606.6 378.8,608.4C379.2,610.3 379.1,611.6 380.4,611.6C381.7,611.6 384.3,609.7 386.7,608.4C389.1,607.1 392,605.1 394.6,603.7C397.2,602.2 400.1,600.8 402.5,599.7C404.8,598.7 406.7,598.2 408.8,597.4C410.9,596.6 413.2,595.5 415.1,595C417,594.5 416.7,594.4 420,594.2C423.3,594 435,593.9 435,593.9L435,734L278.4,734L278.4,609.2Z" fill="#1e5af5"/><path d="M311.7,611.6C312.1,609.5 313.7,607.9 315.7,606.8C317.6,605.8 320.9,605.1 323.6,605.3C326.2,605.4 329.7,606.3 331.5,607.6C333.2,608.9 334,611.2 333.8,613.1C333.7,615.1 332.4,617.9 330.7,619.5C329,621 325.8,621.8 323.6,622.6C321.3,623.4 319,624.7 317.3,624.2C315.5,623.7 314.2,621.6 313.3,619.5C312.4,617.4 311.3,613.7 311.7,611.6Z" fill="#6e6ef5"/><path d="M374.9,617.9C374.9,618.2 374.7,618.5 374.6,618.7C374.4,618.9 374.1,619.1 373.8,619.2C373.5,619.3 373.1,619.3 372.8,619.2C372.5,619.1 372.2,618.9 372,618.7C371.8,618.5 371.7,618.2 371.7,617.9C371.7,617.6 371.8,617.3 372,617C372.2,616.8 372.5,616.6 372.8,616.5C373.1,616.4 373.5,616.4 373.8,616.5C374.1,616.6 374.4,616.8 374.6,617C374.7,617.3 374.9,617.6 374.9,617.9Z" fill="#6e6ef5"/><path d="M278.4,635.6C278.4,635.6 288.2,635.4 292,635.2C295.8,635.1 298.3,634.8 301.5,634.5C304.6,634.1 307.8,633.5 310.9,632.9C314.1,632.2 317.3,631.4 320.4,630.5C323.6,629.6 327,628.5 329.9,627.3C332.8,626.2 335.4,624.3 337.8,623.4C340.1,622.5 342,621.8 344.1,621.8C346.2,621.8 348.3,622.5 350.4,623.4C352.5,624.3 354.6,626.2 356.7,627.3C358.8,628.5 360.7,629.7 363,630.5C365.4,631.3 368.5,632.1 370.9,632.1C373.3,632.1 375.4,631.6 377.2,630.5C379.1,629.5 380.4,627.3 382,625.8C383.5,624.2 384.9,622.6 386.7,621C388.5,619.5 390.6,617.9 393,616.3C395.4,614.7 398.5,613.1 400.9,611.6C403.3,610 405.4,608.7 407.2,606.8C409.1,605 410.4,602.1 411.9,600.5C413.5,598.9 415.3,598 416.7,597.4C418,596.7 416.9,596.8 420,596.6C423.1,596.3 435,595.8 435,595.8L435,734L278.4,734L278.4,635.6Z" fill="#0ac83c" stroke="#0f8c8c" stroke-width="2.2"/><path d="M318,674.7C318.6,673.5 321.3,671.8 323.6,671.5C325.8,671.3 328.8,672.3 331.5,673.1C334.1,673.9 336.7,675.4 339.3,676.3C342,677.2 344.6,678.2 347.2,678.6C349.9,679 353,679.2 355.1,678.6C357.2,678.1 358,675.9 359.9,675.5C361.7,675.1 363.8,675.1 366.2,676.3C368.5,677.5 372.1,680.5 374.1,682.6C376,684.7 378,686.8 378,688.9C378,691 376,693.8 374.1,695.2C372.1,696.7 368.8,697.1 366.2,697.6C363.5,698.1 360.1,697.5 358.3,698.4C356.4,699.3 355.1,701.5 355.1,703.1C355.1,704.7 358.3,706 358.3,707.8C358.3,709.7 356.4,712.6 355.1,714.2C353.8,715.7 352,716.8 350.4,717.3C348.8,717.8 347.5,718.4 345.7,717.3C343.8,716.3 340.7,713.1 339.3,711C338,708.9 337.5,706.8 337.8,704.7C338,702.6 340.7,700.5 340.9,698.4C341.2,696.3 340.7,693.9 339.3,692.1C338,690.2 335.1,688.9 333,687.3C330.9,685.7 328.8,684 326.7,682.6C324.6,681.1 321.9,680 320.4,678.6C319,677.3 317.5,675.9 318,674.7Z" fill="#8cfa14"/><path d="M321,649.8C321,650.2 320.8,650.6 320.5,651C320.2,651.3 319.7,651.6 319.2,651.7C318.7,651.8 318,651.8 317.5,651.7C317,651.6 316.5,651.3 316.2,651C315.9,650.6 315.7,650.2 315.7,649.8C315.7,649.4 315.9,648.9 316.2,648.6C316.5,648.2 317,647.9 317.5,647.8C318,647.7 318.7,647.7 319.2,647.8C319.7,647.9 320.2,648.2 320.5,648.6C320.8,648.9 321,649.4 321,649.8Z" fill="#8cfa14"/><path d="M315.7,667.6C315.7,668.2 315.4,668.8 314.9,669.3C314.5,669.7 313.7,670.1 312.9,670.3C312.2,670.5 311.2,670.5 310.5,670.3C309.8,670.1 309,669.7 308.5,669.3C308.1,668.8 307.8,668.2 307.8,667.6C307.8,667 308.1,666.4 308.5,665.9C309,665.5 309.8,665.1 310.5,664.9C311.2,664.7 312.2,664.7 312.9,664.9C313.7,665.1 314.5,665.5 314.9,665.9C315.4,666.4 315.7,667 315.7,667.6Z" fill="#8cfa14"/><path d="M330.5,701.1C330.5,701.4 330.4,701.9 330.1,702.2C329.9,702.5 329.6,702.7 329.2,702.9C328.8,703 328.4,703 328,702.9C327.7,702.7 327.3,702.5 327.1,702.2C326.9,701.9 326.7,701.4 326.7,701.1C326.7,700.7 326.9,700.2 327.1,699.9C327.3,699.6 327.7,699.4 328,699.3C328.4,699.1 328.8,699.1 329.2,699.3C329.6,699.4 329.9,699.6 330.1,699.9C330.4,700.2 330.5,700.7 330.5,701.1Z" fill="#8cfa14"/><path d="M393,658.9C393.9,656 394.6,652.3 396.2,649.4C397.7,646.6 400.4,643.3 402.5,641.6C404.6,639.8 407.2,638.4 408.8,639.2C410.4,640 410.9,643.8 411.9,646.3C413,648.8 413.8,652.1 415.1,654.2C416.4,656.3 416.7,658 420,658.9C423.3,659.8 435,659.7 435,659.7L435,681C435,681 417.4,682.6 411.9,682.6C406.5,682.6 405.4,682.3 402.5,681C399.6,679.7 396.6,677.1 394.6,674.7C392.6,672.3 390.9,669.4 390.6,666.8C390.4,664.2 392.1,661.8 393,658.9Z" fill="#0f8c8c"/><path d="M400.9,665.2C401.7,663.3 403.5,660.9 405.6,659.7C407.7,658.5 411.1,658 413.5,658.1C415.9,658.3 416.4,660 420,660.5C423.6,660.9 435,660.8 435,660.8L435,677.9C435,677.9 417.1,679.6 411.9,679.4C406.8,679.3 406,678.4 404.1,677.1C402.2,675.7 401.1,673.5 400.6,671.5C400.1,669.6 400.1,667.2 400.9,665.2Z" fill="#1e5af5"/><path d="M382,651.8C382,652.6 381.7,653.5 381.4,654.1C381,654.8 380.4,655.3 379.8,655.6C379.2,655.8 378.4,655.8 377.8,655.6C377.2,655.3 376.6,654.8 376.3,654.1C375.9,653.5 375.6,652.6 375.6,651.8C375.6,651 375.9,650.1 376.3,649.5C376.6,648.9 377.2,648.3 377.8,648.1C378.4,647.8 379.2,647.8 379.8,648.1C380.4,648.3 381,648.9 381.4,649.5C381.7,650.1 382,651 382,651.8Z" fill="#0f8c8c"/><path d="M411.9,705.5C411.9,705.8 411.6,706.3 411,706.6C410.5,706.9 409.6,707.2 408.7,707.3C407.8,707.4 406.6,707.4 405.8,707.3C404.9,707.2 403.9,706.9 403.4,706.6C402.8,706.3 402.5,705.8 402.5,705.5C402.5,705.1 402.8,704.7 403.4,704.4C403.9,704.1 404.9,703.8 405.8,703.7C406.6,703.6 407.8,703.6 408.7,703.7C409.6,703.8 410.5,704.1 411,704.4C411.6,704.7 411.9,705.1 411.9,705.5Z" fill="#0f8c8c"/><path d="M416.7,696.8C417,695.7 416.9,697.5 420,697.6C423.1,697.7 435,697.6 435,697.6L435,704.7C435,704.7 421.3,705.2 418.3,703.9C415.2,702.6 416.4,697.8 416.7,696.8Z" fill="#1e5af5"/></g><g clip-path="url(#c340_480_180)"><rect x="339" y="479" width="182" height="122" fill="#b4c6f9"/><path d="M326.2,466.2L473.6,466.2C473.6,466.2 467.1,480.6 466.6,485.3C466,489.9 468.6,491.4 470.1,494.1C471.5,496.7 475.3,499 475.3,501.1C475.3,503.1 471.8,505 470.1,506.4C468.3,507.7 464.8,508 464.8,509C464.8,510 468.6,511.8 470.1,512.5C471.5,513.3 474.8,513.1 473.6,513.4C472.4,513.7 466.6,514.9 463,514.3C459.5,513.7 455.4,510.3 452.5,509.9C449.6,509.4 446.9,509.9 445.5,511.6C444,513.4 443.1,517.5 443.7,520.4C444.3,523.4 446.3,526.3 449,529.2C451.6,532.1 456,535.4 459.5,538C463,540.6 466,543.9 470.1,545C474.2,546.2 480,546.2 484.1,545C488.2,543.9 491.2,539.5 494.7,538C498.2,536.5 502.2,536.1 505.2,536.2C508.3,536.4 512.6,536.8 513.1,538.9C513.7,540.9 511.2,545.8 508.7,548.6C506.3,551.3 501.4,553.5 498.2,555.6C495,557.6 490.3,558.8 489.4,560.9C488.5,562.9 492.9,566.1 492.9,567.9C492.9,569.6 490.9,571.4 489.4,571.4C487.9,571.4 485.6,567.3 484.1,567.9C482.7,568.5 481.8,572.7 480.6,574.9C479.5,577.1 479.5,580.8 477.1,581.1C474.8,581.4 471.2,577.1 466.6,576.7C461.9,576.2 454.8,577.6 449,578.4C443.1,579.3 437.3,581.2 431.4,582C425.5,582.7 419.4,582.8 413.8,582.8C408.3,582.8 401.4,583.3 398,582C394.6,580.6 394.5,577.3 393.6,574.9C392.7,572.6 394.1,568.5 392.7,567.9C391.4,567.3 388.2,570.8 385.7,571.4C383.2,572 379.3,572.3 377.8,571.4C376.3,570.5 375.9,567.9 376.9,566.1C377.9,564.4 382.3,562.6 383.9,560.9C385.6,559.1 386.9,557.3 386.6,555.6C386.3,553.8 382.8,552.5 382.2,550.3C381.6,548.1 381.3,544.2 383.1,542.4C384.8,540.6 389.7,540.8 392.7,539.8C395.8,538.7 398.9,538 401.5,536.2C404.2,534.5 406.8,531.1 408.6,529.2C410.3,527.3 412.7,526 412.1,524.8C411.5,523.7 406.9,523.2 405,522.2C403.1,521.2 400.6,519.7 400.6,518.7C400.6,517.6 402.8,516.5 405,516C407.2,515.6 411.2,515.4 413.8,516C416.5,516.6 419.1,518.7 420.9,519.6C422.6,520.4 424.1,522.3 424.4,521.3C424.7,520.3 423.8,515.9 422.6,513.4C421.4,510.9 419.4,507.7 417.3,506.4C415.3,505 412.4,504.9 410.3,505.5C408.3,506.1 406.8,508.7 405,509.9C403.3,511.1 401.5,512.5 399.8,512.5C398,512.5 396,511.1 394.5,509.9C393,508.7 392.3,505.3 391,505.5C389.7,505.6 387.8,508.9 386.6,510.8C385.4,512.7 384.5,515.2 383.9,516.9C383.4,518.7 384.5,520.4 383.1,521.3C381.6,522.2 377.6,522 375.2,522.2C372.7,522.3 370.2,522.9 368.1,522.2C366.1,521.5 364.6,517.9 362.9,517.8C361.1,517.6 359.6,520.6 357.6,521.3C355.5,522 352.6,522.5 350.5,522.2C348.5,521.9 347,520.4 345.3,519.6C343.5,518.7 343.2,517.5 340,516.9C336.8,516.3 326.2,516 326.2,516L326.2,466.2Z" fill="#ffffff"/><path d="M427,524.8C427.4,523.6 429.9,521.5 431.4,520.4C432.9,519.4 434.9,518.1 435.8,518.7C436.7,519.3 437.3,522.5 437,523.9C436.7,525.4 435.4,526.8 434,527.5C432.7,528.1 429.9,528.3 428.8,527.8C427.6,527.4 426.6,526.1 427,524.8Z" fill="#b4c6f9"/><path d="M443,538C443,538.5 442.6,539.1 442.1,539.5C441.5,539.8 440.5,540.2 439.6,540.3C438.7,540.5 437.5,540.5 436.6,540.3C435.6,540.2 434.7,539.8 434.1,539.5C433.5,539.1 433.2,538.5 433.2,538C433.2,537.5 433.5,537 434.1,536.6C434.7,536.2 435.6,535.8 436.6,535.7C437.5,535.5 438.7,535.5 439.6,535.7C440.5,535.8 441.5,536.2 442.1,536.6C442.6,537 443,537.5 443,538Z" fill="#b4c6f9"/><path d="M376.9,550.3C376.9,551 376.6,551.8 376.2,552.4C375.7,552.9 375,553.4 374.2,553.7C373.5,553.9 372.6,553.9 371.9,553.7C371.1,553.4 370.4,552.9 369.9,552.4C369.5,551.8 369.2,551 369.2,550.3C369.2,549.6 369.5,548.8 369.9,548.2C370.4,547.7 371.1,547.2 371.9,547C372.6,546.8 373.5,546.8 374.2,547C375,547.2 375.7,547.7 376.2,548.2C376.6,548.8 376.9,549.6 376.9,550.3Z" fill="#ffffff"/><path d="M370.8,580.4C370.8,580.7 370.5,581.2 370.1,581.5C369.7,581.8 369,582.1 368.3,582.2C367.7,582.3 366.8,582.3 366.2,582.2C365.5,582.1 364.8,581.8 364.4,581.5C364,581.2 363.7,580.7 363.7,580.4C363.7,580 364,579.5 364.4,579.2C364.8,578.9 365.5,578.6 366.2,578.5C366.8,578.4 367.7,578.4 368.3,578.5C369,578.6 369.7,578.9 370.1,579.2C370.5,579.5 370.8,580 370.8,580.4Z" fill="#ffffff"/><path d="M486.6,585.8C486.6,586.2 486.5,586.7 486.3,587.1C486.1,587.4 485.8,587.7 485.5,587.8C485.2,588 484.8,588 484.5,587.8C484.2,587.7 483.9,587.4 483.7,587.1C483.6,586.7 483.4,586.2 483.4,585.8C483.4,585.4 483.6,584.9 483.7,584.6C483.9,584.2 484.2,583.9 484.5,583.8C484.8,583.7 485.2,583.7 485.5,583.8C485.8,583.9 486.1,584.2 486.3,584.6C486.5,584.9 486.6,585.4 486.6,585.8Z" fill="#ffffff"/><path d="M480.6,519.6C481.6,518.3 483.6,516.9 485.9,516.6C488.2,516.2 492.6,516.6 494.7,517.3C496.7,517.9 498.2,519 498.2,520.4C498.2,521.8 496.1,524.3 494.7,525.7C493.2,527.1 491.3,528.6 489.4,528.9C487.5,529.2 484.8,528.3 483.3,527.5C481.7,526.6 480.7,525.3 480.3,523.9C479.8,522.6 479.7,520.8 480.6,519.6Z" fill="#ffffff"/><path d="M326.2,583.7C326.2,583.7 341.8,585.5 347,586.3C352.3,587.2 353.8,588.4 357.6,589C361.4,589.6 366.4,589 369.9,589.9C373.4,590.7 376,593.1 378.7,594.3C381.3,595.4 382.5,596.6 385.7,596.9C388.9,597.2 394.5,596.7 398,596C401.5,595.3 403.9,593.4 406.8,592.5C409.7,591.6 412.1,590.9 415.6,590.7C419.1,590.6 423.5,591.3 427.9,591.6C432.3,591.9 437.3,592.2 442,592.5C446.6,592.8 451.3,592.9 456,593.4C460.7,593.8 465.4,594.7 470.1,595.1C474.8,595.6 479.5,595.6 484.1,596C488.8,596.5 494.1,595.1 498.2,597.8C502.3,600.4 508.7,612.1 508.7,612.1L508.7,615L326.2,615L326.2,583.7Z" fill="#6e6ef5"/><path d="M326.2,585.5C326.2,585.5 341.8,587.2 347,588.1C352.3,589 353.8,590.2 357.6,590.7C361.4,591.3 366.5,590.7 369.9,591.6C373.3,592.5 375.3,594.8 377.8,596C380.3,597.2 381.3,598.4 384.8,598.7C388.3,598.9 395.1,598.5 398.9,597.8C402.7,597 404.9,595.1 407.7,594.3C410.5,593.4 412.2,592.6 415.6,592.5C419,592.4 423.5,593.1 427.9,593.4C432.3,593.7 437.3,594 442,594.3C446.6,594.5 451.3,594.7 456,595.1C460.7,595.6 465.4,596.4 470.1,596.9C474.8,597.4 479.7,595.6 484.1,598.1C488.5,600.7 496.4,612.1 496.4,612.1L496.4,615L326.2,615L326.2,585.5Z" fill="#1e5af5"/><path d="M406.8,612.1C406.8,612.1 410.9,599.6 413.8,596.9C416.8,594.2 420.3,595.9 424.4,596C428.5,596.1 433.7,597.1 438.4,597.4C443.1,597.8 448.4,595.7 452.5,598.1C456.6,600.6 463,612.1 463,612.1L463,615L406.8,615L406.8,612.1Z" fill="#0ac83c"/><path d="M543.4,503.6L542.2,506.4L538.9,508.2L534.9,508.2C534.9,508.2 522.4,507.2 519.7,506.4C516.9,505.7 518.4,504.5 518.4,503.6C518.4,502.6 516.9,501.4 519.7,500.7C522.4,499.9 534.9,498.9 534.9,498.9L538.9,498.9L542.2,500.7L543.4,503.6Z" fill="#6e6ef5"/></g><g clip-path="url(#c690_480_128)"><rect x="689" y="479" width="130" height="113" fill="#0ac83c"/><path d="M676.8,466.8L706.2,466.8C706.2,466.8 707.9,482.6 707.5,487.5C707.1,492.4 705.4,493.5 703.8,496.2C702.1,499 699.8,502 697.5,503.8C695.2,505.5 693.5,506.4 690,506.9C686.5,507.4 676.8,506.9 676.8,506.9L676.8,466.8Z" fill="#1e5af5" stroke="#0f8c8c" stroke-width="2.2"/><path d="M676.8,466.8L702.5,466.8C702.5,466.8 704.1,481.8 703.8,486.2C703.4,490.8 702.1,491.7 700.6,493.8C699.2,495.8 699,497.6 695,498.8C691,499.9 676.8,500.6 676.8,500.6L676.8,466.8Z" fill="#6e6ef5"/><path d="M676.8,466.8L698.8,466.8C698.8,466.8 700.2,480.9 700,485C699.8,489.1 698.8,489.4 697.5,491.2C696.2,493.1 696,495.2 692.5,496.2C689,497.3 676.8,497.5 676.8,497.5L676.8,466.8Z" fill="#b4c6f9"/><path d="M730,466.8C730,466.8 732.1,481.4 733.8,485C735.4,488.6 737.9,487.7 740,488.1C742.1,488.5 744.4,488.4 746.2,487.5C748.1,486.6 750.2,486 751.2,482.5C752.3,479 752.5,466.8 752.5,466.8L730,466.8Z" fill="#0f8c8c"/><path d="M735,466.8C735,466.8 736.2,480.1 737.5,483.1C738.8,486.2 740.9,485 742.5,485C744.1,485 745.9,486.2 746.9,483.1C747.8,480.1 748.1,466.8 748.1,466.8L735,466.8Z" fill="#1e5af5"/><path d="M786.2,466.8C786.2,466.8 788.8,482.8 790,487.5C791.2,492.2 793.8,492.7 793.8,495C793.8,497.3 790.8,499.6 790,501.2C789.2,502.9 788.1,503.3 788.8,505C789.4,506.7 791.9,509.4 793.8,511.2C795.6,513.1 798.1,515 800,516.2C801.9,517.5 803.3,518.8 805,518.8C806.7,518.8 808.3,517.1 810,516.2C811.7,515.4 811.3,514.4 815,513.8C818.7,513.1 832,512.5 832,512.5L832,466.8L786.2,466.8Z" fill="#0f8c8c"/><path d="M790,466.8C790,466.8 792.3,482 793.8,486.2C795.2,490.5 796.9,490.8 798.8,492.5C800.6,494.2 802.7,495.4 805,496.2C807.3,497.1 808,497.3 812.5,497.5C817,497.7 832,497.5 832,497.5L832,466.8L790,466.8Z" fill="#1e5af5"/><path d="M708.8,466.8L720,466.8C720,466.8 721.2,483 722.5,487.5C723.8,492 725.6,491.7 727.5,493.8C729.4,495.8 731.7,498.1 733.8,500C735.8,501.9 737.9,503.5 740,505C742.1,506.5 744.2,508.3 746.2,508.8C748.3,509.2 750.2,508.2 752.5,507.5C754.8,506.8 757.9,505.2 760,504.4C762.1,503.5 763.3,502.2 765,502.5C766.7,502.8 768.3,505 770,506.2C771.7,507.5 773.1,508.8 775,510C776.9,511.2 779,512.5 781.2,513.8C783.5,515 786.2,516.2 788.8,517.5C791.2,518.8 794,520.2 796.2,521.2C798.5,522.3 800.4,522.7 802.5,523.8C804.6,524.8 806.9,526 808.8,527.5C810.6,529 812.7,530.6 813.8,532.5C814.8,534.4 815.6,536.9 815,538.8C814.4,540.6 812.1,542.7 810,543.8C807.9,544.8 805.2,545.2 802.5,545C799.8,544.8 796.5,543.3 793.8,542.5C791,541.7 789,540.6 786.2,540C783.5,539.4 780.2,539.2 777.5,538.8C774.8,538.3 772.1,538.3 770,537.5C767.9,536.7 766.7,534 765,533.8C763.3,533.5 761.2,535 760,536.2C758.8,537.5 758.5,539.8 757.5,541.2C756.5,542.7 755.2,543.5 753.8,545C752.3,546.5 750.6,548.5 748.8,550C746.9,551.5 744.6,553.1 742.5,553.8C740.4,554.4 738.1,554.2 736.2,553.8C734.4,553.3 732.9,552.3 731.2,551.2C729.6,550.2 727.9,548.8 726.2,547.5C724.6,546.2 723.1,544.2 721.2,543.8C719.4,543.3 717.1,544.6 715,545C712.9,545.4 710.8,546.2 708.8,546.2C706.7,546.2 704.6,545.8 702.5,545C700.4,544.2 698.1,542.7 696.2,541.2C694.4,539.8 694.5,537.5 691.2,536.2C688,535 676.8,533.8 676.8,533.8L676.8,522.5C676.8,522.5 689.9,521.5 693.8,521.2C697.6,521 697.9,521 700,521.2C702.1,521.5 704.2,522.1 706.2,522.5C708.3,522.9 710.4,523.6 712.5,523.8C714.6,523.9 716.9,523.8 718.8,523.1C720.6,522.5 722.3,521.1 723.8,520C725.2,518.9 726.7,517.5 727.5,516.2C728.3,515 729,513.8 728.8,512.5C728.5,511.2 727.3,510 726.2,508.8C725.2,507.5 723.8,506.2 722.5,505C721.2,503.8 720,502.9 718.8,501.2C717.5,499.6 716.2,497.3 715,495C713.8,492.7 712.3,492.2 711.2,487.5C710.2,482.8 708.8,466.8 708.8,466.8Z" fill="#8cfa14"/><path d="M720,500C720.3,499 722.3,497.7 723.8,497.5C725.2,497.3 727.3,497.7 728.8,498.8C730.2,499.8 731.4,502.1 732.5,503.8C733.6,505.4 734.6,507.2 735.6,508.8C736.7,510.3 737.4,512.1 738.8,513.1C740.1,514.2 742.1,514.3 743.8,515C745.4,515.7 747.3,516.2 748.8,517.5C750.2,518.8 751,520.8 752.5,522.5C754,524.2 756.2,525.8 757.5,527.5C758.8,529.2 760,530.8 760,532.5C760,534.2 758.5,536 757.5,537.5C756.5,539 755,540 753.8,541.2C752.5,542.5 751.5,543.8 750,545C748.5,546.2 746.9,547.9 745,548.8C743.1,549.6 740.6,550.1 738.8,550C736.9,549.9 735.2,549.2 733.8,548.1C732.3,547.1 731,545.3 730,543.8C729,542.2 728.3,540.4 727.5,538.8C726.7,537.1 725.8,535.4 725,533.8C724.2,532.1 722.7,530.4 722.5,528.8C722.3,527.1 722.9,525.2 723.8,523.8C724.6,522.3 726.2,521 727.5,520C728.8,519 730.2,518.5 731.2,517.5C732.3,516.5 733.8,515 733.8,513.8C733.8,512.5 732.5,511.2 731.2,510C730,508.8 727.8,507.3 726.2,506.2C724.7,505.2 722.9,504.8 721.9,503.8C720.8,502.7 719.7,501 720,500Z" fill="#fffa00"/><path d="M741.8,535C741.8,536 741.5,537.1 741.2,537.9C740.9,538.7 740.4,539.5 739.8,539.8C739.3,540.1 738.7,540.1 738.2,539.8C737.6,539.5 737.1,538.7 736.8,537.9C736.5,537.1 736.2,536 736.2,535C736.2,534 736.5,532.9 736.8,532.1C737.1,531.3 737.6,530.5 738.2,530.2C738.7,529.9 739.3,529.9 739.8,530.2C740.4,530.5 740.9,531.3 741.2,532.1C741.5,532.9 741.8,534 741.8,535Z" fill="#ffbe0a"/><path d="M740.2,536.2C740.2,536.8 740.2,537.4 740,537.9C739.9,538.3 739.6,538.7 739.4,538.9C739.2,539 738.8,539 738.6,538.9C738.4,538.7 738.1,538.3 738,537.9C737.8,537.4 737.8,536.8 737.8,536.2C737.8,535.7 737.8,535.1 738,534.6C738.1,534.2 738.4,533.8 738.6,533.6C738.8,533.5 739.2,533.5 739.4,533.6C739.6,533.8 739.9,534.2 740,534.6C740.2,535.1 740.2,535.7 740.2,536.2Z" fill="#ff8c0a"/><path d="M676.8,540C676.8,540 689.9,543.5 693.8,545C697.6,546.5 697.7,547.8 700,548.8C702.3,549.7 705,550.2 707.5,550.6C710,551.1 712.5,551.1 715,551.5C717.5,551.9 720,552.1 722.5,552.8C725,553.4 727.5,555 730,555.6C732.5,556.2 735,556.4 737.5,556.2C740,556.1 742.7,555.8 745,555C747.3,554.2 749.6,552.6 751.2,551.5C752.9,550.4 753.5,549.2 755,548.1C756.5,547 757.9,545.7 760,545C762.1,544.3 765,543.8 767.5,544C770,544.2 772.7,545.2 775,546.2C777.3,547.2 779,549 781.2,550C783.5,551 786.2,552.2 788.8,552.5C791.2,552.8 794,551.5 796.2,551.5C798.5,551.5 800.7,551.4 802.5,552.5C804.3,553.6 806,556.5 806.9,558.1C807.7,559.8 807.8,560.9 807.5,562.5C807.2,564.1 805.2,565.8 805,567.5C804.8,569.2 806.7,570.6 806.2,572.5C805.8,574.4 803.8,576.9 802.5,578.8C801.2,580.6 799.8,579.5 798.8,583.8C797.7,588 796.2,604.5 796.2,604.5L676.8,604.5L676.8,540Z" fill="#1e5af5" stroke="#0f8c8c" stroke-width="2.2"/><path d="M676.8,545C676.8,545 689.7,547 693.8,548.1C697.8,549.3 698.8,550.9 701.2,551.9C703.8,552.8 706,553.3 708.8,553.8C711.5,554.2 714.8,554.1 717.5,554.4C720.2,554.7 722.5,555 725,555.6C727.5,556.2 730,557.7 732.5,558.1C735,558.5 737.7,558.4 740,558.1C742.3,557.8 744.6,556.8 746.2,556.2C747.9,555.7 748.5,554.8 750,555C751.5,555.2 753.3,556.2 755,557.5C756.7,558.8 758.3,560.6 760,562.5C761.7,564.4 763.3,566.7 765,568.8C766.7,570.8 768.3,572.7 770,575C771.7,577.3 773.3,580.2 775,582.5C776.7,584.8 778.8,585.1 780,588.8C781.2,592.4 782.5,604.5 782.5,604.5L676.8,604.5L676.8,545Z" fill="#b4c6f9"/><path d="M750,555C750,554 753.1,552.1 755,551.2C756.9,550.4 759.4,549.8 761.2,550C763.1,550.2 765.6,551.2 766.2,552.5C766.9,553.8 765.6,555.8 765,557.5C764.4,559.2 762.5,560.8 762.5,562.5C762.5,564.2 763.8,565.4 765,567.5C766.2,569.6 770,574.8 770,575C770,575.2 766.7,570.8 765,568.8C763.3,566.7 761.7,564.4 760,562.5C758.3,560.6 756.7,558.8 755,557.5C753.3,556.2 750,556 750,555Z" fill="#6e6ef5"/><path d="M676.8,577.5C676.8,577.5 692.6,578.6 697.5,578.8C702.4,578.9 703.3,578.1 706.2,578.1C709.2,578.1 712.5,578.2 715,578.8C717.5,579.3 719.9,580 721.2,581.2C722.6,582.5 723,582.4 723.1,586.2C723.2,590.1 721.9,604.5 721.9,604.5L676.8,604.5L676.8,577.5Z" fill="#6e6ef5"/><path d="M676.8,557.5C676.8,557.5 690.9,558.1 695,558.8C699.1,559.4 699.7,560 701.2,561.2C702.8,562.5 704.2,564.6 704.4,566.2C704.6,567.9 703.6,570 702.5,571.2C701.4,572.5 701.8,573.2 697.5,573.8C693.2,574.3 676.8,574.4 676.8,574.4L676.8,557.5Z" fill="#1e5af5"/><path d="M695.4,566.9C695.4,567.3 695.1,567.8 694.7,568.2C694.3,568.6 693.6,568.9 693,569C692.3,569.2 693.4,569.2 690.8,569C688.1,568.9 677,568.2 677,568.2L676.4,566.9L677,565.6C677,565.6 688.1,564.9 690.8,564.7C693.4,564.6 692.3,564.6 693,564.7C693.6,564.9 694.3,565.2 694.7,565.6C695.1,565.9 695.4,566.4 695.4,566.9Z" fill="#0ac83c"/><path d="M773.8,561.2C774.3,560.1 776,558.5 777.5,558.1C779,557.7 781.2,558 782.5,558.8C783.8,559.5 785,561.2 785,562.5C785,563.8 783.8,565.5 782.5,566.2C781.2,567 778.9,567.1 777.5,566.9C776.1,566.7 775,565.9 774.4,565C773.8,564.1 773.2,562.4 773.8,561.2Z" fill="#0ac83c" stroke="#0f8c8c" stroke-width="2.2"/><path d="M785,550C786.2,549 790,548.4 792.5,548.8C795,549.1 798.1,550.4 800,551.9C801.9,553.3 803.3,555.7 803.8,557.5C804.2,559.3 803.5,561.5 802.5,562.5C801.5,563.5 799.6,564.2 797.5,563.8C795.4,563.3 792.1,561.5 790,560C787.9,558.5 785.8,556.7 785,555C784.2,553.3 783.8,551 785,550Z" fill="#0f8c8c"/><path d="M781.2,582.5C781.7,578.2 783.1,579.6 785,578.8C786.9,577.9 790.2,577.3 792.5,577.5C794.8,577.7 797.5,578.5 798.8,580C800,581.5 800.2,582.2 800,586.2C799.8,590.3 797.5,604.5 797.5,604.5L782.5,604.5C782.5,604.5 780.8,586.8 781.2,582.5Z" fill="#0ac83c" stroke="#0f8c8c" stroke-width="2.2"/><path d="M807.5,567.5C809.2,566 810.9,566.5 815,566.2C819.1,566 832,566.2 832,566.2L832,604.5L800,604.5C800,604.5 801.7,587.4 802.5,582.5C803.3,577.6 804.2,577.5 805,575C805.8,572.5 805.8,569 807.5,567.5Z" fill="#0ac83c" stroke="#0f8c8c" stroke-width="2.2"/><path d="M813.1,570C813.3,568.5 813.1,567.9 816.2,567.5C819.4,567.1 832,567.5 832,567.5L832,577.5C832,577.5 818.1,577.5 815,576.2C811.9,575 812.9,571.5 813.1,570Z" fill="#8cfa14"/></g><path d="M106.8,112.2L112.5,113.0L118.8,114.8L123.8,118.5L130.0,121.0L137.5,122.2L143.8,124.8L146.2,128.5L152.5,129.8L160.0,133.5L166.2,138.5L171.2,143.5L175.0,149.8L177.5,156.0L179.5,158.5L183.8,163.5L187.5,168.5L191.2,176.0L195.0,183.5L197.5,188.5L201.2,194.8L205.0,201.0L208.8,207.2L210.0,212.2L213.8,216.0L216.2,222.2L220.0,228.5L225.0,232.2L230.0,236.0L235.0,241.0L240.0,244.8L245.0,248.5L250.0,252.2L253.8,256.0L256.2,259.8L257.0,266.0L255.5,271.0L253.0,273.0L250.0,274.8L243.8,276.0L236.2,277.2L233.8,279.2L237.5,281.5L243.8,284.8L247.5,289.8L252.5,293.5L260.0,296.0L266.2,299.8L272.5,303.5L277.5,299.8L278.8,303.5L281.2,308.5L286.2,312.2L292.5,316.0L297.5,317.8 M179.5,158.5L238.8,154.0 M240.0,98.0L241.2,102.2L245.0,107.2L248.8,112.2L251.2,116.0L247.5,119.8L244.5,124.8L242.5,131.0L240.0,136.0L238.8,142.2L241.2,146.0L243.8,149.8L242.5,153.0L238.8,154.0L235.0,158.5L232.5,161.5 M232.5,161.0L326.2,189.0L355.8,189.0 M232.5,161.5L230.5,166.0L231.2,171.0L235.0,176.0L237.0,178.5L237.0,181.0L237.5,188.5L238.8,196.0L241.2,203.5L242.5,211.0L245.0,218.5L248.8,224.8L252.5,229.8L257.5,233.5L262.5,238.5L266.2,243.5L272.5,249.8L277.5,253.5L282.5,259.8L286.2,266.0L288.8,271.0L291.2,276.0L295.0,282.2L300.0,288.5L303.8,293.5L306.2,298.5L308.8,303.5L312.5,308.5L317.5,313.5L320.0,317.8 M255.5,271.0L288.8,271.0 M237.0,177.2L242.5,179.8L250.0,183.5L256.2,185.5L262.5,187.2L267.5,191.0L272.5,192.2L277.5,196.0L280.0,202.2L282.5,208.5L286.2,214.8L290.0,221.0L293.8,227.2L296.2,233.5L300.0,239.8L303.8,244.8L307.5,249.8L311.2,256.0L316.2,261.0L322.5,266.0L328.8,271.0L335.0,273.5L340.0,276.0L342.5,282.2L346.2,288.5L351.2,293.5L355.8,296.0 M268.8,235.5L271.2,234.2L275.0,239.8L278.8,244.8L280.5,247.8L278.0,248.0L274.2,243.5L270.8,239.0Z M295.5,246.0L298.0,243.0L301.2,246.0L302.0,250.5L299.5,253.5L295.8,252.2Z M227.0,264.0L229.0,263.5L229.5,268.5L228.5,272.2L226.0,271.0L225.8,267.2Z M150.8,244.0L152.0,243.5L153.0,248.5L152.0,251.5L150.8,249.0Z M108.8,121.0L113.8,120.5L118.8,122.0L115.0,123.5L110.0,123.0Z M116.8,141.0L120.0,141.0L119.5,142.8L117.0,142.5Z M142.0,136.5L146.2,136.0L148.8,139.8L145.0,140.2Z M141.2,146.8L143.8,147.2L148.0,152.5L144.5,152.2Z M312.0,302.2L314.5,301.5L315.5,307.2L313.0,308.5Z M378.5,98.0L378.5,189.0 M356.0,189.0L399.0,189.0L399.0,178.0L438.5,177.2L438.0,172.2L526.8,171.8L526.8,98.0 M438.5,176.5L442.2,179.8L447.2,184.8L453.5,191.0L461.0,197.2L468.5,202.2L476.0,206.0L481.0,211.0L484.8,218.5L487.2,224.8L492.2,231.0L498.5,236.0L506.0,241.0L514.8,244.8L519.8,246.8L524.8,246.8L529.8,242.2L532.2,236.0L536.0,229.8L543.5,226.0L553.5,226.5L563.5,227.2L569.8,231.0L576.0,236.0L582.2,242.2L587.2,248.5L591.0,256.0L596.0,263.5L602.2,272.2L607.2,278.5L611.8,281.0 M602.2,98.0L603.5,106.0L608.5,111.0L611.8,113.5 M378.5,189.0L379.8,194.8L378.5,201.0L383.5,204.8L388.5,208.5L389.8,216.0L389.8,226.0L387.2,237.2L388.0,246.0L389.8,256.0L389.8,263.5L382.2,264.8L376.5,266.0L377.2,271.0L381.0,276.0L386.0,282.2L388.5,288.5L387.2,293.5L392.2,296.0L398.5,294.8L403.5,298.5L407.2,306.0L409.8,313.5L412.2,317.2L419.8,317.8 M392.2,296.0L383.5,304.8L376.0,312.2 M356.0,296.0L363.5,301.0L371.0,307.2L376.0,312.2L376.0,317.8 M519.8,246.8L513.5,258.5L507.2,271.0L504.8,276.0L508.5,291.0L512.2,304.8 M444.8,317.8L443.5,313.5L447.2,308.5L451.0,301.0L456.0,303.5L463.5,306.0L471.0,308.5L478.5,308.5L486.0,311.5L491.0,309.8L497.2,303.5L503.5,302.2L512.2,304.8L518.5,311.0L521.0,317.8 M607.2,278.5L602.2,277.2L596.0,278.5L591.0,284.8L584.8,288.5L582.2,293.5L587.2,296.0L588.5,301.0L581.0,306.0L576.0,309.8L573.5,313.5L577.2,317.8 M603.5,281.0L608.5,286.0L609.8,293.5L611.8,296.0 M612.0,113.5L617.0,112.2L622.0,114.8L627.0,117.2L634.5,119.8L642.0,121.0L649.5,120.5L654.5,124.8L662.0,126.0L669.5,127.2L674.5,128.5L679.5,124.8L685.8,122.2L687.0,125.5L694.5,128.5L702.0,127.2L712.0,124.8L719.5,124.0L727.0,127.2L734.5,129.8L739.5,131.0L743.2,133.0L749.5,133.5 M740.2,98.0L739.5,131.0 M749.5,133.5L750.2,147.2L750.8,171.0L754.5,176.0L757.0,182.2L760.8,188.5L762.8,196.0L762.0,203.5L759.5,211.0L758.2,218.5L757.0,223.5L753.2,227.2 M750.2,147.2L821.5,147.2 M844.5,98.0L840.8,102.2L835.8,107.2L832.0,113.5L827.0,119.8L823.2,124.8L820.8,131.0L819.5,137.2L822.0,144.8L821.5,147.2L824.5,156.0L826.5,163.5L823.2,169.8L819.5,176.0L815.8,182.2L812.0,187.2L809.5,193.5L810.8,197.2 M810.8,197.2L855.8,197.2L858.2,206.0L859.5,213.5L862.0,219.8L864.5,226.0 M612.0,281.0L615.8,286.0L617.0,293.5L622.0,303.5L627.0,311.0L637.0,316.0L644.5,317.8L652.0,319.2L662.0,322.2L670.0,326.0L674.0,327.2 M674.0,327.2L670.0,321.0L668.2,317.8L665.8,308.5L664.5,298.5L663.2,291.0L665.8,286.0L668.2,279.8L673.2,272.2L678.2,267.2L684.5,262.2L692.0,257.2L699.5,254.8L707.0,252.2L714.5,247.2L722.0,242.2L727.0,238.5L732.0,234.8L739.5,232.2L747.0,229.8L753.2,228.5L762.0,227.2L772.0,228.0L782.0,231.0L792.0,231.0L798.2,229.8L805.8,231.0L812.0,233.5L818.2,238.5L823.2,242.2L829.5,243.5L837.0,241.0L844.5,239.8L849.5,236.0L854.5,237.2L859.5,241.0L864.5,244.8L867.8,246.0 M725.8,236.0L724.5,229.8L729.5,226.0L734.5,227.2L733.2,232.2 M684.5,258.5L685.8,254.0L690.0,256.0L694.0,253.0L698.2,255.0 M665.8,274.8L669.0,271.0L673.2,268.5 M658.2,288.5L662.0,286.0L665.8,287.2L663.2,291.0 M767.0,221.0L770.0,220.5L769.0,224.8L766.5,224.8Z M782.0,224.0L785.8,223.0L787.0,226.0L783.2,226.5Z M797.0,228.5L802.0,226.0L807.0,228.5L805.8,233.0L800.8,233.5Z M897.2,98.0L894.2,121.0L890.5,158.5L888.8,183.5L889.8,212.2 M959.2,98.0L963.0,111.0L968.0,133.5L971.8,151.0L973.5,158.5L971.8,171.0L972.5,183.5L973.5,196.0 M915.5,212.2L914.2,209.8L911.8,203.5L910.0,197.2L973.5,196.8 M866.8,213.5L875.5,211.5L885.5,210.5L889.8,212.2L895.5,213.5L898.0,206.0L901.8,205.5L904.2,212.2L910.5,213.5L915.5,212.2L920.5,209.8L928.0,211.0L938.0,211.0L948.0,212.2L955.5,216.0L960.5,219.8L964.2,224.8L968.0,228.5L974.2,231.0 M836.8,216.0L840.5,213.0L848.0,212.2L854.2,216.0L856.8,219.8L853.0,221.0L845.5,220.5L839.2,219.0Z M856.8,219.8L861.8,221.0L866.8,218.5L869.2,221.0L864.2,226.0L859.2,229.8L856.8,232.2L861.8,233.5L866.8,236.0L871.8,239.8L874.2,243.5L870.5,246.0L866.8,243.5L865.5,247.2 M818.0,236.0L821.8,239.8L826.8,243.5L831.8,242.2L836.8,239.8L840.5,238.5L845.5,241.0L850.5,236.0L854.2,234.8L856.8,237.2L861.8,239.8L866.8,244.8 M863.0,221.0L866.8,219.8L869.2,222.2L866.0,226.0L862.5,228.5L859.2,230.5L861.0,226.0Z M297.5,318.0L301.2,324.2L305.0,331.8L305.5,340.5L303.8,348.0L302.0,351.8L305.0,353.0L311.2,355.5L315.0,359.2L321.2,364.2L327.5,370.5L335.0,376.8L342.5,381.8L348.8,388.0L353.8,394.2L355.8,398.0 M323.8,318.0L326.2,325.5L331.2,333.0L335.0,340.5L337.5,348.0L338.8,355.5L343.8,361.8L348.8,365.5L355.8,364.2 M356.0,369.2L361.0,371.8L366.0,378.0L370.5,385.5L368.5,393.0L363.5,397.5L356.0,399.2 M373.5,318.0L372.2,325.5L378.5,330.5L383.5,335.5L391.0,339.2L398.5,343.0L406.0,349.2L409.8,355.5L416.0,361.8L423.5,368.0L429.8,374.2L436.0,379.2L441.0,385.5L447.2,391.8L453.5,398.0L459.8,404.2L464.8,406.8L466.0,415.5L468.5,425.5L472.2,435.5L476.0,445.5L473.5,450.5L468.5,454.2L466.8,460.5L468.5,468.0L472.2,476.8L478.5,483.0L486.0,488.0L496.0,493.0L506.0,498.0L513.5,503.0L521.0,509.2L531.0,514.2L541.0,518.0L551.0,521.8L561.0,526.8L571.0,533.0L578.5,539.8 M419.8,318.0L423.5,323.0L431.0,329.2L438.5,328.0L443.5,320.5L444.0,318.0 M431.0,329.2L427.2,335.5L426.0,343.0L431.0,350.5L436.0,356.8L442.2,363.0L449.8,364.2L454.8,370.5L457.2,378.0L461.0,384.2L466.0,390.5L468.5,394.2L464.8,406.8 M468.5,394.2L476.0,396.8L479.8,403.0L486.0,405.5L492.2,409.2L496.0,410.5L498.5,400.5L499.8,390.5L502.2,380.5L506.0,371.8L513.5,365.5L522.2,360.5L531.0,358.0L539.8,358.0L541.0,350.5L538.5,344.2L546.0,343.0L553.5,345.5L561.0,349.2L568.5,350.5L576.0,355.5L582.2,356.8L576.0,365.5L568.5,374.2L559.8,380.5L551.0,385.5L546.0,389.2L547.2,398.0L552.2,404.2L559.8,408.0L566.0,406.8L568.5,413.0L566.0,420.5L563.5,425.5 M518.5,318.0L516.0,325.5L516.0,335.5L521.0,343.0L526.0,349.2L532.2,351.8L538.5,344.2 M577.2,318.0L581.0,325.5L586.0,333.0L596.0,339.2L591.0,341.8L583.5,344.2L582.2,356.8L587.2,368.0L591.0,380.5L592.2,389.2L599.8,389.2 M494.8,413.0L501.0,410.5L506.0,409.2L503.5,401.8L507.2,401.8L508.5,408.0L506.0,414.2L509.8,410.5L511.0,404.2L514.8,406.8L513.5,415.5L518.5,410.5L523.5,408.0L527.2,411.8L526.0,418.0L518.5,421.8L516.0,428.0L509.8,433.0L512.2,439.2L519.8,440.5L526.0,441.8L528.5,436.8L534.8,434.2L536.0,430.5L532.2,424.2L534.8,418.0L541.0,411.8L546.0,409.2L551.0,413.0L556.0,418.0L552.2,424.2L546.0,428.0L538.5,428.0L534.8,425.5 M476.0,445.5L483.5,444.2L491.0,448.0L496.0,450.5L498.5,441.8L503.5,438.0L501.0,430.5L499.8,423.0L494.8,419.2L494.8,413.0L496.0,410.5 M563.5,425.5L561.0,435.5L556.0,443.0L552.2,450.5L551.0,458.0L543.5,461.8L536.0,463.0L528.5,466.8L526.0,469.2L531.0,473.0L534.8,480.5L536.0,488.0L531.0,490.5L523.5,493.0L516.0,496.8L513.5,503.0 M488.5,489.2L496.0,485.5L502.2,481.8L508.5,484.2L514.8,483.0L516.0,493.0 M551.0,458.0L556.0,461.8L563.5,461.8L568.5,465.5L576.0,466.8L582.2,470.5L591.0,470.5L596.0,465.5L597.2,458.0L592.2,450.5L588.5,443.0L592.2,435.5L599.8,430.5L606.0,425.5L608.5,418.0L611.8,413.0 M596.0,465.5L598.5,473.0L597.2,480.5L591.0,488.0L586.0,495.5L583.5,501.8L586.0,509.2 M548.5,518.0L549.8,513.0L556.0,508.0L563.5,505.5L573.5,505.5L582.2,506.8L586.0,509.2L592.2,505.5L591.0,498.0L596.0,503.0L603.5,504.2L611.8,501.8 M599.8,389.2L602.2,383.0L606.0,378.0L611.8,376.8 M599.8,389.2L603.5,390.5L602.2,398.0L606.0,401.8L611.8,404.2 M563.5,425.5L573.5,428.0L581.0,430.5L588.5,434.2L596.0,435.5L603.5,434.2L608.5,430.5L611.8,431.8 M673.2,318.0L673.9,323.0L675.8,327.4L676.4,330.5L674.5,334.2L670.8,336.8L665.8,337.4L663.2,340.5L661.4,345.5L658.9,350.5L657.6,355.5L658.2,363.0L658.9,370.5L660.1,376.8L662.0,383.0L662.6,390.5L662.0,398.0L660.8,405.5L659.5,413.0L660.1,418.0L662.0,423.0L665.8,428.9 M672.0,318.0L672.6,321.8L673.9,325.5L673.2,329.2L672.6,331.8L674.2,330.5L675.1,328.0 M623.2,318.0L625.8,319.9L630.8,319.2L635.8,318.6L638.2,320.5L638.2,328.0L638.9,333.0L641.4,334.9L637.0,338.0L632.0,341.8L627.6,343.6L623.9,344.9L622.6,349.2L620.8,351.1L615.8,352.4L612.0,354.9 M643.9,318.0L648.2,319.2L654.5,319.9L660.8,321.1L665.8,324.2L670.8,323.6L673.2,320.5 M612.0,358.0L613.9,363.0L613.2,368.0L615.1,371.1L613.9,374.9L612.0,376.1 M612.0,403.0L615.8,403.6L618.2,405.5L620.8,408.0L625.8,410.5L630.8,411.1L637.0,409.9L643.2,408.6L647.6,408.0L650.8,410.5L654.5,413.0L657.0,414.2L659.5,413.0 M637.0,409.9L641.4,412.4L642.6,415.5L640.8,419.2L638.2,421.8L638.9,425.5L637.0,428.9 M665.8,428.8L668.9,429.0L670.8,434.0L672.0,440.2L674.5,446.5L678.2,452.8L683.2,459.0L688.2,465.2L692.0,471.5L694.5,477.8L697.0,484.0L699.5,489.0L704.5,494.0L709.5,498.4L715.8,501.5L722.0,502.8L727.0,504.0L730.8,507.1L734.5,510.9L738.2,514.0L739.9,514.6 M612.0,434.0L617.0,432.8L622.0,430.2L623.2,429.0 M622.6,429.0L623.9,432.8L625.8,437.8L623.2,440.2L619.5,441.5L617.6,445.2L616.4,450.2L613.2,454.0L612.0,455.2 M636.4,429.0L638.9,432.8L640.1,437.8L644.5,440.2L648.2,443.4L646.4,447.8L642.0,449.6L638.9,454.0L638.9,458.4L642.6,460.2L647.0,458.4L649.5,454.6L653.2,451.5L656.4,449.6L659.5,452.8L662.0,455.9L660.8,459.0L657.6,460.9L659.5,464.6L663.2,465.9L667.0,464.0L670.8,465.2L672.0,469.0L670.1,472.8L668.9,477.8L667.6,482.8 M612.0,465.9L614.5,469.0L616.4,473.4L619.5,472.8L623.2,470.2L627.0,469.0L628.9,472.8L632.6,473.4L635.8,475.9L636.4,480.2 M636.4,480.2L640.8,479.0L645.1,477.1L648.2,475.9L650.8,479.0L654.5,481.5L658.2,484.0L660.8,486.5L655.8,487.8L652.0,490.2L648.2,491.5L644.5,489.0L640.8,485.2L637.0,482.8L636.4,480.2 M619.5,489.0L623.9,481.5L627.0,486.5L628.2,492.1L623.9,492.8L619.5,490.9Z M636.4,480.2L635.1,485.2L635.8,491.5L635.1,495.2 M612.0,501.5L615.8,500.2L619.5,496.5L618.9,492.1 M615.8,500.2L618.2,504.0L621.4,507.1L623.2,506.5L627.0,509.0L632.0,507.8L635.1,508.4L633.9,504.0L635.1,499.0L635.1,495.2 M667.6,482.8L672.0,485.9L676.4,487.1L674.5,489.0L670.8,490.2L669.5,494.0L670.1,499.0L668.9,501.5L671.4,503.4L674.5,504.0L677.0,505.2L682.0,505.9L685.8,504.0L688.2,504.6L692.0,507.1L694.5,511.5L697.0,514.6L702.0,515.2L705.8,517.8L705.1,522.8L704.5,527.1L707.0,530.2L712.0,530.9L717.0,527.8L720.8,526.5L722.0,530.2L724.5,534.0L727.0,537.8L732.0,539.0L737.0,539.5L739.9,539.2 M623.2,507.1L625.8,511.5L629.5,515.2L634.5,518.4L639.5,520.9L643.2,521.5L649.5,519.0L654.5,517.1L657.0,514.0L660.8,510.9L662.0,515.2L665.8,518.4L669.5,516.5L674.5,515.2L677.0,511.5L679.5,509.0L682.0,505.9 M643.2,521.5L642.6,527.8L643.2,532.8L645.1,536.5L647.0,539.9 M740.0,514.0L745.0,512.8L750.0,510.2L757.5,507.1L765.0,505.9L772.5,505.2L780.0,502.8L787.5,500.9L793.8,500.2L800.0,501.5L802.5,504.6L807.5,506.5L812.5,505.2L816.2,502.8L817.5,499.0L816.2,495.2L820.0,492.8L826.2,489.0L830.0,484.0L832.5,477.8L835.0,470.2L836.9,462.8L838.1,454.0L839.4,447.8L841.2,441.5L846.2,437.8L852.5,435.9L860.0,434.6L867.9,434.0 M839.4,447.8L840.0,451.5L841.9,455.9L846.2,457.1L850.0,457.1L853.8,461.5L858.8,469.0L863.8,476.5L867.9,475.9 M864.4,476.5L864.4,523.4 M826.2,523.4L867.9,523.4 M787.5,500.9L789.4,505.2L792.5,507.8L796.2,508.4L797.5,514.0L800.0,517.8L805.0,521.5L810.0,518.4L815.0,517.1L821.2,518.4L826.2,520.2L826.2,536.5L817.5,537.1L815.0,534.0L811.2,529.0L808.1,525.2L805.0,521.5 M805.0,521.5L800.0,522.1L796.2,525.2L792.5,528.4L787.5,532.8L782.5,535.2L778.8,532.8L776.2,527.8L775.0,522.8L770.0,519.6L767.5,522.8L765.0,527.8L762.5,532.8L758.8,536.5L756.2,539.9 M747.5,514.0L748.8,519.0L752.5,524.0L757.5,527.8L760.6,531.5L761.2,534.6 M840.5,443.0L843.0,438.0L850.5,435.5L863.0,434.2L875.5,431.8L885.5,429.2L895.5,428.0L904.2,429.2L905.5,433.0L910.5,431.0L918.0,430.5L924.2,431.8L928.0,438.0L926.8,448.0L921.8,455.5L918.0,463.0L914.2,470.5L911.8,478.0L909.2,483.0L910.5,490.5L908.0,498.0L906.8,505.5L904.2,513.0L903.0,518.0L900.5,510.5L898.0,500.5L896.8,496.8L893.0,503.0L890.5,510.5L885.5,515.5L880.5,519.2L873.0,521.8L871.8,524.2L825.5,524.2 M840.5,443.0L841.8,453.0L845.5,458.0L850.5,456.8L864.2,476.8L911.8,431.8 M864.2,476.8L864.2,524.2 M893.0,539.8L893.0,525.5L894.2,515.5L896.8,508.0L898.0,500.5 M903.0,518.0L900.5,528.0L896.8,535.5L894.2,539.8 M923.0,458.0L926.8,454.2L930.0,455.0L926.8,460.5L923.5,461.8Z M612.0,550.0L622.0,553.8L632.0,557.5L642.0,563.8L652.0,567.5L662.0,571.2L674.5,575.0L687.0,577.5L697.0,578.8L707.0,575.0L717.0,568.8L727.0,565.0L737.0,564.5L747.0,567.5L757.0,572.5L767.0,580.0L777.0,588.8L787.0,597.5L797.0,606.2L807.0,612.5L817.0,617.5L827.0,621.2L837.0,623.8L847.0,627.5L857.0,631.2L867.8,632.5 M650.8,540.0L649.5,547.5L645.8,552.5L643.2,555.0L644.5,560.0 M748.2,540.0L749.0,550.0L750.0,560.0L749.0,567.5 M817.0,540.0L824.5,546.2L832.0,552.5L838.2,558.8L839.5,565.0L829.5,566.2L819.5,567.0L809.5,567.0L804.5,572.5L799.5,580.0L795.8,587.5L798.2,593.8L796.5,600.0L797.0,606.2 M576.0,537.5L581.0,540.0L591.0,543.8L601.0,547.5L611.8,551.2 M858.0,630.0L870.5,635.0L883.0,638.8L895.5,638.8L903.0,635.0L908.0,633.8L913.0,638.8L915.5,642.5L911.8,643.8L918.0,651.2L925.5,658.8L933.0,666.2L940.5,673.8L948.0,681.2L953.0,687.5L954.2,695.0L953.0,702.5L955.5,712.5L958.0,717.5 M951.8,666.2L960.5,667.5L968.0,672.5L974.2,678.8L975.5,690.0L968.0,688.8L960.5,685.0L954.2,677.5L951.8,670.0Z M878.0,565.0L881.8,570.0L888.0,573.8L898.0,573.8L908.0,572.5L918.0,573.0L930.5,571.2L943.0,570.0L953.0,569.5L963.0,570.5L974.2,570.0 M815.5,540.0L823.0,545.0L833.0,552.5L839.2,557.5L840.5,565.0L830.5,566.2L818.0,566.2L808.0,566.2L803.0,575.0L798.0,583.8L795.5,590.0L796.8,597.5L795.0,602.5L796.0,605.5 M890.5,540.0L891.8,547.5L889.2,555.0L883.0,561.2L878.0,565.0 M968.0,717.5L971.8,713.8L974.2,713.0" fill="none" stroke="#0d0d0d" stroke-width="1.15" stroke-linejoin="round"/></g><path d="M106.5,98.2H974.5V717.6H106.5Z" fill="none" stroke="#444" stroke-width="0.85"/><path d="M106.5,717.6V735.6 M230.5,717.6V735.6 M354.5,717.6V735.6 M478.5,717.6V735.6 M602.5,717.6V735.6 M726.5,717.6V735.6 M850.5,717.6V735.6 M974.5,717.6V735.6 M106.5,98.2H89.0 M106.5,222.1H89.0 M106.5,346.0H89.0 M106.5,469.8H89.0 M106.5,593.7H89.0 M106.5,717.6H89.0" stroke="#444" stroke-width="0.85" fill="none"/><rect x="94.80" y="816.0" width="59.73" height="18.8" fill="#ffffff"/><rect x="154.23" y="816.0" width="59.73" height="18.8" fill="#b4c6f9"/><rect x="213.66" y="816.0" width="59.73" height="18.8" fill="#6e6ef5"/><rect x="273.09" y="816.0" width="59.73" height="18.8" fill="#1e5af5"/><rect x="332.52" y="816.0" width="59.73" height="18.8" fill="#0f8c8c"/><rect x="391.95" y="816.0" width="59.73" height="18.8" fill="#0ac83c"/><rect x="451.38" y="816.0" width="59.73" height="18.8" fill="#8cfa14"/><rect x="510.81" y="816.0" width="59.73" height="18.8" fill="#fffa00"/><rect x="570.24" y="816.0" width="59.73" height="18.8" fill="#ffbe0a"/><rect x="629.67" y="816.0" width="59.73" height="18.8" fill="#ff8c0a"/><rect x="689.10" y="816.0" width="59.73" height="18.8" fill="#ff500a"/><rect x="748.53" y="816.0" width="59.73" height="18.8" fill="#ff280a"/><rect x="807.96" y="816.0" width="59.73" height="18.8" fill="#be0000"/><rect x="867.39" y="816.0" width="59.73" height="18.8" fill="#8c0505"/><rect x="926.82" y="816.0" width="59.73" height="18.8" fill="#640505"/><path d="M154.23,816.0v18.8 M213.66,816.0v18.8 M273.09,816.0v18.8 M332.52,816.0v18.8 M391.95,816.0v18.8 M451.38,816.0v18.8 M510.81,816.0v18.8 M570.24,816.0v18.8 M629.67,816.0v18.8 M689.10,816.0v18.8 M748.53,816.0v18.8 M807.96,816.0v18.8 M867.39,816.0v18.8 M926.82,816.0v18.8" stroke="#555" stroke-opacity="0.45" stroke-width="0.8" fill="none"/><rect x="94.8" y="816.0" width="891.45" height="18.8" fill="none" stroke="#777" stroke-opacity="0.55" stroke-width="0.9"/></svg>
<svg width="1024" height="887" viewBox="0 0 1024 887" style="position:absolute;left:0;top:0">
<rect x="117.4" y="679" width="204.2" height="37.2" fill="#fff"/>
<g fill="none" stroke-linecap="round">
<path d="M133.5,684.5C127,690 123.5,697 125.5,703.5C127.5,708.5 134,710 140.5,708.5" stroke="#4a7fb5" stroke-width="2.2"/>
<path d="M135.2,687.5C130,692 127.5,698 129,702.5C130.5,706 135,706.8 140,706" stroke="#7fb2dc" stroke-width="1.6"/>
<path d="M131,703C134,704.8 138,704.6 141,703.6" stroke="#2f5f96" stroke-width="1.5"/>
</g>
<path d="M131.2,699.8C132.2,695.2 135.5,694 138.6,694.9L141,693.2L140.4,696.2C139.2,698.7 136,699.4 133.4,700.9Z" fill="#b07a4a"/>
<text x="146.2" y="698.3" font-family="'Liberation Serif',serif" font-size="15.4" fill="#666" stroke="#666" stroke-width="0.35" textLength="78.6" lengthAdjust="spacingAndGlyphs">CONAGUA</text>
<path d="M146.6,703.4H208.6" stroke="#8a8a8a" stroke-width="1.3" stroke-dasharray="3.2 0.8 5 0.8 2 0.8" opacity="0.7"/>
<path d="M237.7,688V707.4" stroke="#c9a97a" stroke-width="0.9"/>
<g fill="none">
<path d="M262.5,685.2A11,11 0 0 1 274.6,693.6" stroke="#1f3f73" stroke-width="3.4" stroke-dasharray="3.3 1.5"/>
<path d="M265.5,707.2A11,11 0 0 1 253.4,698.8" stroke="#1f3f73" stroke-width="3.4" stroke-dasharray="3.3 1.5"/>
<path d="M264,696.2m-1.2,0a1.6,1.6 0 1,1 2.6,1.2a3.2,3.2 0 1,1 -4.8,-2.6a5,5 0 1,1 7.6,4.4a6.8,6.8 0 0,1 -9.4,1.2" stroke="#d39b52" stroke-width="1.4"/>
<path d="M254.6,692.2c-2.6,-1.4 -3.8,-4.6 -1.2,-5.8c2,-0.8 3.4,1 2.2,2.4" stroke="#d39b52" stroke-width="1.2"/>
<path d="M271,700.6c2.8,0.6 5.2,2.4 3.8,4.6c-1.2,1.6 -3.4,0.6 -2.8,-1" stroke="#d39b52" stroke-width="1.2"/>
</g>
<text x="280.4" y="698.3" font-family="'Liberation Serif',serif" font-size="15.4" fill="#666" stroke="#666" stroke-width="0.35" textLength="35.8" lengthAdjust="spacingAndGlyphs">SMN</text>
<g stroke="#d5b48a" stroke-width="1.1" opacity="0.85">
<path d="M280.8,702.6H300" stroke-dasharray="2.6 0.7"/>
<path d="M280.8,705.4H311" stroke-dasharray="3.4 0.7"/>
<path d="M280.8,708.2H299" stroke-dasharray="2.2 0.7"/>
</g>
</svg>

<div class="t" style="left:540.9px;top:30.26px;font-size:19.7px;transform:translate(-50%,-100%) scaleY(0.98);">Modelo FV3-GFS (0.25<span style="font-size:62%;position:relative;top:-0.52em">o</span>). Pronóstico de precipitación total acumulada</div><div class="t" style="left:269.4px;top:61.79px;font-size:16.92px;transform:translate(0,-100%) scaleY(0.92);">Válido de 2025-nov-06 12UTC a 2025-nov-11 12UTC</div><div class="t" style="left:687.4px;top:61.79px;font-size:16.92px;transform:translate(0,-100%) scaleY(0.92);">Alcance: 120 h</div><div class="t" style="left:73.3px;top:110.38px;font-size:23.3px;transform:translate(-100%,-100%) scaleY(1.0);">35°N</div><div class="t" style="left:73.3px;top:234.26px;font-size:23.3px;transform:translate(-100%,-100%) scaleY(1.0);">30°N</div><div class="t" style="left:73.3px;top:358.14px;font-size:23.3px;transform:translate(-100%,-100%) scaleY(1.0);">25°N</div><div class="t" style="left:73.3px;top:482.02px;font-size:23.3px;transform:translate(-100%,-100%) scaleY(1.0);">20°N</div><div class="t" style="left:73.3px;top:605.9px;font-size:23.3px;transform:translate(-100%,-100%) scaleY(1.0);">15°N</div><div class="t" style="left:73.3px;top:729.78px;font-size:23.3px;transform:translate(-100%,-100%) scaleY(1.0);">10°N</div><div class="t" style="left:105.5px;top:773.28px;font-size:23.3px;transform:translate(-50%,-100%) scaleY(1.0);">120°W</div><div class="t" style="left:229.5px;top:773.28px;font-size:23.3px;transform:translate(-50%,-100%) scaleY(1.0);">115°W</div><div class="t" style="left:353.5px;top:773.28px;font-size:23.3px;transform:translate(-50%,-100%) scaleY(1.0);">110°W</div><div class="t" style="left:477.5px;top:773.28px;font-size:23.3px;transform:translate(-50%,-100%) scaleY(1.0);">105°W</div><div class="t" style="left:601.5px;top:773.28px;font-size:23.3px;transform:translate(-50%,-100%) scaleY(1.0);">100°W</div><div class="t" style="left:725.5px;top:773.28px;font-size:23.3px;transform:translate(-50%,-100%) scaleY(1.0);">95°W</div><div class="t" style="left:849.5px;top:773.28px;font-size:23.3px;transform:translate(-50%,-100%) scaleY(1.0);">90°W</div><div class="t" style="left:973.5px;top:773.28px;font-size:23.3px;transform:translate(-50%,-100%) scaleY(1.0);">85°W</div><div class="t" style="left:154.23px;top:853.6px;font-size:15.8px;transform:translate(-50%,-100%) scaleY(0.95);">0.1</div><div class="t" style="left:213.66px;top:853.6px;font-size:15.8px;transform:translate(-50%,-100%) scaleY(0.95);">5</div><div class="t" style="left:273.09px;top:853.6px;font-size:15.8px;transform:translate(-50%,-100%) scaleY(0.95);">10</div><div class="t" style="left:332.52px;top:853.6px;font-size:15.8px;transform:translate(-50%,-100%) scaleY(0.95);">20</div><div class="t" style="left:391.95px;top:853.6px;font-size:15.8px;transform:translate(-50%,-100%) scaleY(0.95);">25</div><div class="t" style="left:451.38px;top:853.6px;font-size:15.8px;transform:translate(-50%,-100%) scaleY(0.95);">50</div><div class="t" style="left:510.81px;top:853.6px;font-size:15.8px;transform:translate(-50%,-100%) scaleY(0.95);">75</div><div class="t" style="left:570.24px;top:853.6px;font-size:15.8px;transform:translate(-50%,-100%) scaleY(0.95);">150</div><div class="t" style="left:629.67px;top:853.6px;font-size:15.8px;transform:translate(-50%,-100%) scaleY(0.95);">250</div><div class="t" style="left:689.0999999999999px;top:853.6px;font-size:15.8px;transform:translate(-50%,-100%) scaleY(0.95);">300</div><div class="t" style="left:748.53px;top:853.6px;font-size:15.8px;transform:translate(-50%,-100%) scaleY(0.95);">400</div><div class="t" style="left:807.9599999999999px;top:853.6px;font-size:15.8px;transform:translate(-50%,-100%) scaleY(0.95);">500</div><div class="t" style="left:867.39px;top:853.6px;font-size:15.8px;transform:translate(-50%,-100%) scaleY(0.95);">600</div><div class="t" style="left:926.8199999999999px;top:853.6px;font-size:15.8px;transform:translate(-50%,-100%) scaleY(0.95);">800</div><div class="t" style="left:532.3px;top:810.03px;font-size:15.8px;transform:translate(-50%,-100%) scaleY(0.92);">(mm)</div><div class="t" style="left:727.4px;top:885.47px;font-size:16.9px;transform:translate(0,-100%) scaleY(1.03);">Inicialización: 2025-nov-06 00UTC</div>
</body></html>
